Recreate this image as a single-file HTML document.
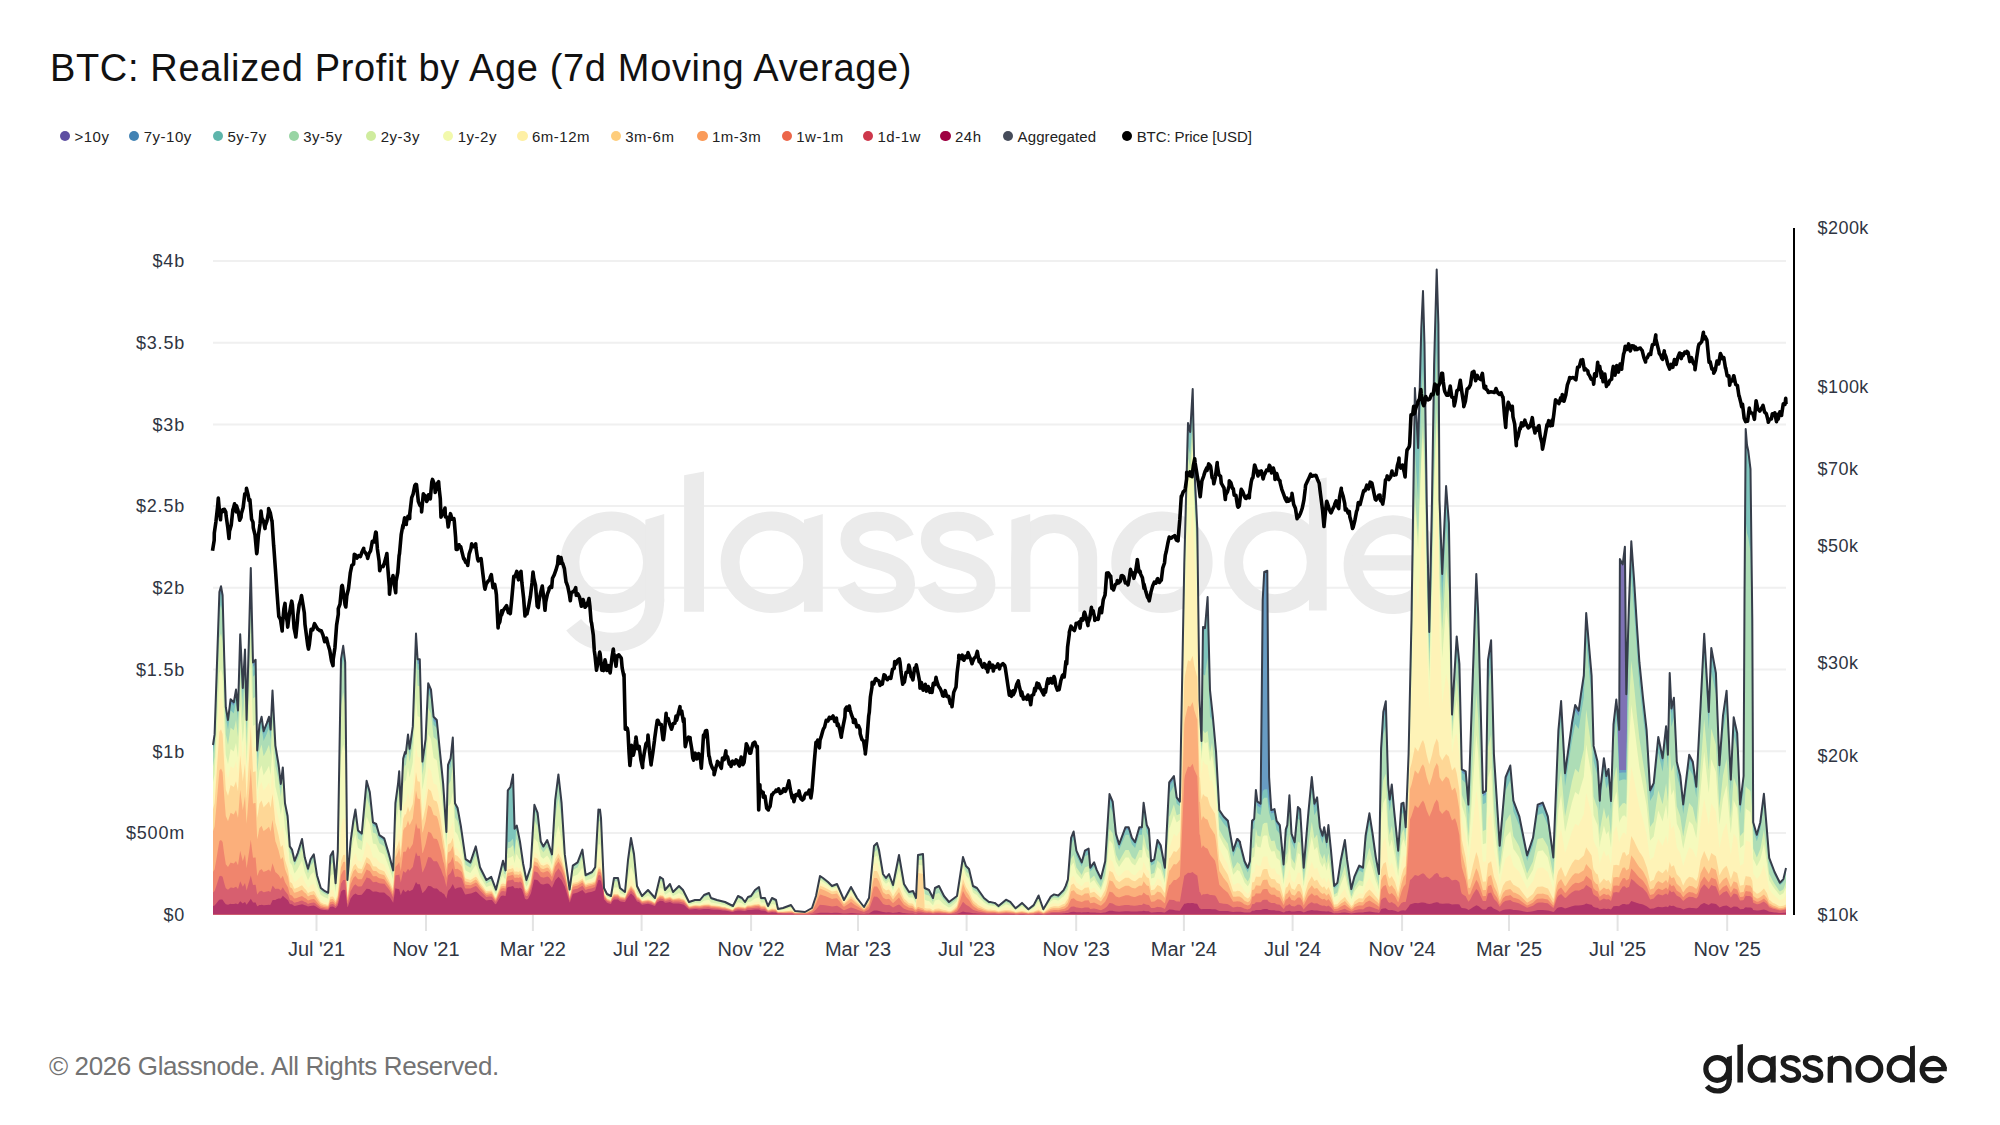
<!DOCTYPE html>
<html><head><meta charset="utf-8"><title>BTC: Realized Profit by Age (7d Moving Average)</title>
<style>
html,body{margin:0;padding:0;background:#fff;}
body{width:2000px;height:1125px;position:relative;overflow:hidden;font-family:"Liberation Sans",sans-serif;}
.title{position:absolute;left:50px;top:46.5px;font-size:38px;color:#111;white-space:nowrap;letter-spacing:0.65px;}
.lg{position:absolute;top:128px;font-size:15px;color:#222;white-space:nowrap;line-height:18px;letter-spacing:0.5px;}
.lg i{position:absolute;left:-14.6px;top:2.75px;width:10.3px;height:10.3px;border-radius:50%;}
.foot{position:absolute;left:49px;top:1051px;font-size:26px;color:#737373;white-space:nowrap;letter-spacing:-0.38px;}
svg{position:absolute;left:0;top:0;}
</style></head><body>
<div class="title">BTC: Realized Profit by Age (7d Moving Average)</div>
<div class="lg" style="left:74.5px"><i style="background:#5e4fa2"></i>&gt;10y</div>
<div class="lg" style="left:143.75px"><i style="background:#4283b4"></i>7y-10y</div>
<div class="lg" style="left:227.5px"><i style="background:#5eb5ab"></i>5y-7y</div>
<div class="lg" style="left:303.25px"><i style="background:#98d5a4"></i>3y-5y</div>
<div class="lg" style="left:380.75px"><i style="background:#cfec9e"></i>2y-3y</div>
<div class="lg" style="left:457.75px"><i style="background:#f2f9ac"></i>1y-2y</div>
<div class="lg" style="left:532px"><i style="background:#fef0a5"></i>6m-12m</div>
<div class="lg" style="left:625.25px"><i style="background:#fecd7c"></i>3m-6m</div>
<div class="lg" style="left:712px"><i style="background:#fa9b5a"></i>1m-3m</div>
<div class="lg" style="left:796.25px"><i style="background:#ec6649"></i>1w-1m</div>
<div class="lg" style="left:877.5px"><i style="background:#cd374b"></i>1d-1w</div>
<div class="lg" style="left:955px"><i style="background:#9e0142"></i>24h</div>
<div class="lg" style="left:1017.6px;letter-spacing:0.1px"><i style="background:#464c5a"></i>Aggregated</div>
<div class="lg" style="left:1136.7px;letter-spacing:-0.1px"><i style="background:#000"></i>BTC: Price [USD]</div>
<svg width="2000" height="1125" viewBox="0 0 2000 1125">
<defs>
<g id="logo" stroke="currentColor" fill="currentColor">
<g fill="none" stroke-width="5.2">
<circle cx="1717.25" cy="1068.95" r="11.4"/>
<circle cx="1761.5" cy="1068.95" r="11.4"/>
<circle cx="1869.4" cy="1068.95" r="11.4"/>
<circle cx="1900.6" cy="1068.95" r="11.4"/>
<path d="M1729.3,1079 C1729.3,1087.3 1724.6,1091 1717.6,1091 C1712.8,1091 1709.2,1089.2 1706.9,1086.2"/>
<path d="M1830.4,1082.6 V1067.5 A9.25,9.25 0 0 1 1848.9,1067.5 V1082.6"/>
<path d="M1944.25,1068.95 A11.05,11.05 0 1 0 1942.3,1075.9"/>
<path id="s1" d="M1798.4,1062.3 C1797.2,1059.2 1794.3,1057.6 1790.6,1057.6 C1786.4,1057.6 1783.2,1059.6 1783.2,1062.6 C1783.2,1066.2 1786.8,1067.3 1790.6,1068.3 C1795.2,1069.4 1798.6,1071 1798.6,1075.1 C1798.6,1078.5 1795.3,1080.3 1790.8,1080.3 C1786.7,1080.3 1783.6,1078.5 1782.2,1075.3"/>
<path d="M1820.6,1062.3 C1819.4,1059.2 1816.5,1057.6 1812.8,1057.6 C1808.6,1057.6 1805.4,1059.6 1805.4,1062.6 C1805.4,1066.2 1809,1067.3 1812.8,1068.3 C1817.4,1069.4 1820.8,1071 1820.8,1075.1 C1820.8,1078.5 1817.5,1080.3 1813,1080.3 C1808.9,1080.3 1805.8,1078.5 1804.4,1075.3"/>
</g>
<path stroke="none" d="M1726.7,1057.2 L1731.9,1055.6 V1080 H1726.7Z M1737.4,1044.9 L1742.9,1043.9 V1082.6 H1737.4Z M1770.5,1057.2 L1775.7,1055.6 V1082.6 H1770.5Z M1827.8,1057.2 L1833,1055.6 V1082.6 H1827.8Z M1910,1046.5 L1914.9,1045.5 V1082.3 H1910Z M1922,1067 H1946.8 V1071.2 H1922Z"/>
</g>
</defs>
<g stroke="#f0f0f0" stroke-width="2" fill="none">
<path d="M213,261H1786M213,342.7H1786M213,424.4H1786M213,506.1H1786M213,587.8H1786M213,669.5H1786M213,751.2H1786M213,832.9H1786"/>
</g>
<use href="#logo" transform="matrix(3.62 0 0 3.62 -5605.27 -3307.31)" style="color:#ebebeb"/>
<g>
<path d="M213,914.5 L213,745 214.6,734.4 216,692.9 219,603.9 219.4,592 221,586.2 222,591.8 222.6,595.2 224.2,656 225,681.6 225.8,707.2 228,719.8 228,720 230.6,699.2 231,699.6 233.8,702.4 234,701.3 236,689.6 237,700 238,710.4 240,641 240.2,634.2 242.8,688 243,683.9 245,649.6 246,693.6 246.6,720 248.8,643.2 249,636.9 250.8,568 252,620.3 253,662.4 255,660.4 255.6,659.8 257.2,750.4 258,740.8 259.4,724.8 261,719.1 261.6,716.8 263.6,731.2 264,730.1 266.8,723.2 267,722.5 269,716.8 270,724.8 270.6,729.6 272.5,690.6 273,699.7 275.4,745.6 276,749.2 278.6,764.8 279,768.2 280.8,784 282,773.9 282.8,767.4 285,803.2 287.6,816 288,822 289.8,846.4 291,848.1 292,849.6 294,858.2 294.6,860.8 297,854.8 297.8,852.8 300,845.5 302,839 303,845.7 304.8,857.6 306,861.7 308,868.8 309,865.2 310.6,859.2 312,857.1 313.8,854.4 315,862.2 317,875.2 318,878.5 320.8,888 321,888.1 324,890.4 325,891.2 327,892.2 328.2,892.8 330,863.2 330.4,856 333,851.2 335.6,883.2 336,876.9 337.8,851.2 339,779.2 341,659.2 342,653.2 343.2,645.8 345,661 345.2,662.4 347.4,880 348,872.8 350.6,841.6 351,838.5 353.2,821.8 354,817.2 355.4,809.6 357,822.6 358,830.4 360,832.1 361.8,833.6 363,820.4 366,787.4 366.6,780.8 369,789.2 369.8,792 372,812.9 373,822.4 375,823.4 376.2,824 378,830.3 379.4,835.2 381,836.3 384,838.3 384.2,838.4 387,847.7 389,854.4 390,858.2 393,869.8 393.2,870.4 395.4,803.2 396,798.7 398,784 399,773.6 399.2,771.2 400.8,809.6 402,784.4 403.2,758.4 405,752 405.8,753.6 408,734.4 409.6,748.8 411,739 412.8,726.4 414,691.6 416,633.6 417,649.6 417.6,659.2 419.8,659.2 420,665.6 422.4,761.6 423,757.4 425.6,739.2 426,730.5 428.2,683.2 429,685.1 431,689.6 432,699.8 433.6,716.8 435,718.2 436.8,720 438,732 440,752 441,762 443.2,784 444,796 446.4,832 447,806.8 448,764.8 450,759.8 450.6,758.4 452.8,737.6 453,743.5 455,803.2 456,805 457.6,808 459,815.7 460.8,825.6 462,834 465,855 465.6,859.2 468,860.8 470.4,862.4 471,860.6 474,851.8 475.8,846.4 477,852.2 480,867.2 483,873.2 486,879.2 486.4,880 489,878.3 491.2,876.8 492,878.9 495,886.9 496,889.6 498,881.4 501,869.1 503,860.8 504,864.4 505.6,870.4 507,820.4 507.8,790.4 510,787.7 510.4,787.2 513,774.4 513,775.8 514.6,828.8 516,826.7 516.8,825.6 519,836.6 520,841.6 522,855.6 523.2,864 525,873 526.4,880 528,875.1 530.6,867.2 531,860 534,811.3 534.4,804.8 537,811.3 537.6,812.8 540,834.4 540.8,841.6 543,845.7 543.4,846.4 546,842 547.2,840 549,845.4 552,854.4 555,803.4 555.2,800 558,777.6 558.4,774.4 561,797.8 561.6,803.2 564,841.6 564.8,854.4 567,870.5 569.6,889.6 570,886.6 572.8,865.6 573,865.5 576,863.5 577.6,862.4 579,858.7 582,850.7 582.4,849.6 585,870.4 585.6,875.2 588,874 591,872.5 592,872 594,869 595.2,867.2 597,834.8 598.4,809.6 599,810 600,809.6 601,818 603,864.7 604,888 606,892 607,894 609,895 611,896 612,890 614,878 615,878 618,878 620,888 621,888.8 624,891.2 625,892 627,870.7 628,860 630,845.3 631,838 633,848.7 634,854 636,875.3 637,886 639,890 642,896 645,893 648,890 651,893.4 654,896.9 655,898 657,889.6 660,877 663,879 665,890 666,888.8 669,885.2 670,884 672,889.3 673,892 675,890 678,887 679,886 681,888 683,890 684,892 687,898 689,902 690,901.7 693,900.7 695,900 696,900 699,900 700,900 702,897.5 704,895 705,894.6 708,893.4 709,893 711,898 714,899 717,900 720,900.8 723,901.5 725,902 726,902.5 729,904 732,905.5 733,906 735,902 738,896 741,897.5 742,898 744,900.7 745,902 747,898.7 748,897 750,896.3 751,896 753,893 755,890 756,889.2 759,887 761,898 762,898 765,898 768,906 771,900 772,898 774,899 776,900 777,904.5 778,909 780,908.6 783,908 786,906.9 789,905.8 791,905 792,906.5 795,911 798,911.3 801,911.6 804,911.9 805,912 807,910.9 810,909.1 812,908 813,905 816,896 819,881 820,876 822,877.3 823,878 825,879.6 828,882 831,885 832,886 834,885.2 837,884 840,890.9 843,897.7 844,900 846,896.3 849,890.7 851,887 852,888.8 855,894.3 857,898 858,899.3 861,903.1 864,907 867,901.6 869,898 870,887.6 873,856.4 874,846 876,844 877,843 879,850 882,868 883,874 885,876.7 886,878 888,875.3 889,874 891,879.5 893,885 894,880 897,865 899,855 900,860.8 903,878.2 904,884 906,887.2 909,892 912,891.2 913,891 915,895.7 916,898 918,855 921,854.4 923,854 924,875.2 924.6,888 927,889.1 929,890 930,892 933,898 935,888 936,887.5 939,886 942,892 944,896 945,897.2 948,900.8 949,902 951,900.5 954,898.2 957,896 960,876.5 963,857 966,866 969,869 972,881.8 973,886 975,887 977,888 978,889.4 981,893.7 984,898 987,900.4 989,902 990,901.9 993,902.6 994.3,902.9 995,903 996,903.9 998.5,906.1 999,905.7 1002,903.2 1005,900.6 1006,899.7 1008,900.7 1010.3,901.9 1011,902.7 1014,906.3 1015.6,908.3 1017,907.1 1020,904.6 1022,902.9 1023,903.9 1026,906.9 1028.4,909.3 1029,908.9 1032,906.5 1033.7,905.1 1035,902.6 1038,896.7 1038.6,895.5 1041,902.4 1043.3,909.3 1044,908.2 1047,903 1050,897.9 1050.8,896.5 1053,895.1 1054,894.4 1056,894.9 1058.3,895.5 1059,894.7 1062,891.7 1063.6,890.1 1065,887.3 1065.7,885.9 1067.9,879.5 1068,877.7 1071,838.7 1071.1,837.9 1073.6,831.5 1074,834.1 1076.4,850.7 1077,852 1080,858.6 1081.7,862.4 1083,857.8 1084.9,850.7 1086,850 1088.6,848.5 1089,853.5 1090.3,867.7 1092,865.3 1094.1,862.4 1095,865 1096.7,869.9 1098,872.5 1100.9,878.4 1101,878.1 1104,866.1 1105.2,861.3 1107,833 1109.5,794.1 1110,795.4 1112.7,801.6 1113,804.9 1115.9,833.6 1116,834 1119,844 1119.1,844.3 1122,836.4 1125,828.4 1125.5,827.2 1128,827.2 1128.7,827.2 1131,835 1131.9,837.9 1134,840.7 1135.1,842.1 1137,835.4 1139.3,827.2 1140,827.2 1141.9,827.2 1143,811.3 1143.6,802.7 1146,819.5 1146.8,825.1 1148.9,829.3 1149,830.3 1151.1,861.3 1152,860.7 1154.3,859.2 1155,854.8 1157.5,840 1158,840.9 1160.7,845.3 1161,847.1 1164,862.8 1164.9,867.7 1167,826.4 1169.2,782.4 1170,781.3 1173,777.2 1173.9,776 1176,792.2 1176.7,797.3 1179,800.4 1179.9,801.6 1182,686.8 1184.3,563 1185,536.5 1188,423 1190.2,432 1191,418.2 1192.7,389 1194,453.1 1194.2,463 1197,522.6 1197.3,529 1199.5,700 1200,710.2 1201.5,741 1203,627 1205,628 1206,616.1 1207.6,597 1209,651.3 1210,690 1212,708.6 1212.9,717 1215,740.3 1216.1,752.5 1218,786.7 1219.3,810.1 1221,812.6 1223.6,816.5 1224,816.9 1227,819.9 1227.9,820.8 1230,832.6 1233,849.6 1233.2,850.7 1236,842.3 1237.1,838.9 1237.5,838.9 1239,840.8 1240,842 1240.3,844.3 1242,850.9 1244.6,861.3 1245,862.1 1247.8,867.7 1248,867.1 1249.9,861.3 1251,841.1 1252.1,820.8 1254,818.9 1254.2,818.7 1255.9,789.9 1257,798.5 1257.4,801.6 1260,803.3 1260.6,803.7 1261.7,700 1262.7,600 1263,594.4 1264.2,572 1266,571.2 1267.3,570.7 1268.3,700 1269,767.5 1269.1,777.1 1271.3,810.1 1272,809.9 1274.5,809.1 1275,812 1276.6,820.8 1278,822.7 1279.8,825.1 1281,837.4 1283.6,864.5 1284,858.6 1285.8,829.3 1287,825.8 1287.3,825.1 1289.4,795.2 1290,806 1291.5,833.6 1293,837.5 1294.7,842.1 1296,828.2 1297.9,806.9 1299,808 1300.1,809.1 1302,840.3 1303.7,867.7 1305,852.4 1308,817.2 1308.6,810.1 1311,785.3 1311.8,777.1 1314,800 1314.4,803.7 1317,797.6 1317.1,797.3 1319.9,827.2 1320,827.5 1322.5,835.7 1323,833.1 1324.2,827.2 1326,837.9 1326.7,842.1 1328.4,825.1 1329,830.7 1331,850.7 1332,861.7 1334.2,885.9 1335,885.1 1337.4,882.7 1338,878.7 1340.6,861.3 1341,859.3 1344,844.3 1344.9,840 1347,859.2 1350,880.2 1351.3,889.1 1353,882.1 1354.5,876.3 1356,872.8 1359,866 1359.2,865.6 1362,867.2 1363,867.7 1365,842.7 1365.6,835.7 1368,821.5 1369.4,813.3 1371,823.5 1372.6,833.6 1374,843.9 1375.8,857.1 1377,863.5 1379,874.1 1380,815.1 1381.1,748.3 1383,716.5 1383.3,712 1385.8,701.3 1386,707.5 1388.2,784.5 1389,792.8 1389.7,799.5 1391.8,784.5 1392,786.7 1393.9,808 1395,818.7 1398,848.7 1398.2,850.7 1401,809.6 1401.4,803.7 1403.5,802.7 1404,808 1405.7,827.2 1407,793.8 1408.6,753.8 1410,689.2 1411.5,620 1413,517.6 1414.9,388 1416,408.6 1418.1,448 1419,414.2 1421.3,328 1422,312.8 1423,291 1424.5,345 1425,380.2 1426.7,500 1428,566 1429.3,632 1431,548.9 1432,500 1434,371 1434.1,364.5 1436.7,269.6 1437,279.2 1438.4,324 1439.5,500 1440,513.7 1442.2,574 1443,555.9 1446,488.3 1446.1,486 1448.9,523 1449,529.2 1452,714.6 1455,664.8 1456.7,636.4 1458,649.4 1459.4,663.8 1461,733.8 1461.8,769.4 1464,770.5 1465.7,771.4 1467,787.1 1468.4,804.6 1470,758.6 1473,670.1 1476,581.6 1476.3,573.9 1478.2,613 1479,643 1482,758 1482.9,792.9 1485,791.6 1486,790.9 1488,659.9 1488,659.9 1491,641.1 1491.1,640.3 1493.9,753.8 1494,756 1497,803 1499.7,845.7 1500,842.5 1503,807.5 1505.6,777.2 1506,776.2 1509,768.7 1510.3,765.5 1512,784.8 1513.4,800.7 1515,804.9 1518,812.9 1519.3,816.3 1521,824.9 1524,839.9 1527,854.9 1527.1,855.4 1530,846.7 1533,837.8 1533,837.6 1536,816.4 1537.7,804.6 1539,804.1 1542,802.9 1542.7,802.6 1545,808.7 1547.8,816.3 1548,817.6 1551,840.1 1553.3,857.4 1554,840 1557,765 1558.4,730.3 1560,713 1561.1,701 1563,735.6 1565,773.3 1566,766.4 1569,744.7 1572,723 1572.1,722.5 1575,706 1575.2,704.9 1578,709.5 1578.7,710.7 1581,693.7 1581.1,693.1 1583.8,675.5 1584,670.5 1586.2,613 1587,622.6 1590,656.9 1591.6,675.5 1593,724.8 1593.6,745.9 1596,755.6 1597.5,761.6 1597.8,765.3 1599,785.8 1599.8,800.7 1600.3,790.2 1602,775.2 1603.9,758.2 1605,766.2 1606.4,776 1608,770.6 1608.5,768.9 1611,800.9 1613.5,724.4 1614,720 1616.3,699.6 1617,706.6 1619.2,729.8 1619.9,559.1 1620,559.3 1622.7,564.4 1623,562.2 1624.9,546.7 1626,664.3 1626.3,694.2 1628.8,608.9 1629,602.9 1631.3,541.3 1632,551.4 1634.1,580.4 1635,594.9 1637,626.7 1638,641.6 1639.4,662.2 1641,677.8 1643,697.8 1644,706.8 1646.6,729.8 1647,737.3 1650,788.3 1650.1,790.2 1653,784.4 1653.7,783.1 1656,759.8 1658.3,736.9 1659,740.4 1662,755.4 1662.6,758.2 1665,736.2 1666.1,726.2 1667.9,754.7 1668,749.6 1669.7,672.9 1671,699.6 1671.4,708.4 1673.9,697.8 1674,699.3 1676.8,761.8 1677,762.7 1680,774.7 1680.3,776 1683,802.7 1683.2,804.4 1686,781.2 1689,756.5 1689.2,754.7 1692,760.2 1692.8,761.8 1695,777.3 1696.3,786.7 1698,754.7 1700.6,704.9 1701,696.9 1704,636.9 1704.2,633.8 1707,681.9 1708.8,712 1710,680.6 1711.3,648 1713,657.3 1715.9,672.9 1716,675.8 1719,753.8 1719.4,765.3 1722,729.6 1723,715.6 1725,701.6 1726.6,690.7 1728,720.8 1730.8,779.6 1731,775.7 1733.7,717.3 1734,718.8 1737,732.3 1737.2,733.3 1740,802.8 1740.1,804.4 1743,781 1743.6,776 1744.5,600 1745.7,429 1746,432.7 1747,445 1748.3,451 1749,456.7 1750.5,469 1752,594.8 1752.3,620 1753.2,822.2 1755,828.4 1756.8,834.7 1758,830.4 1760.3,822.2 1761,816.9 1763.9,793.8 1764,795.1 1767,831.1 1769.2,857.8 1770,859.9 1773,867.9 1774.6,872 1776,874.9 1779,880.9 1779.9,882.7 1782,880.6 1783.4,879.1 1785,872.4 1785.9,868.4 1786,868 L1786,914.5 Z" fill="#7e72b5"/>
<path d="M213,914.5 L213,745 214.6,734.4 216,692.9 219,603.9 219.4,592 221,586.2 222,591.8 222.6,595.2 224.2,656 225,681.6 225.8,707.2 228,719.8 228,720 230.6,699.2 231,699.6 233.8,702.4 234,701.3 236,689.6 237,700 238,710.4 240,641 240.2,634.2 242.8,688 243,683.9 245,649.6 246,693.6 246.6,720 248.8,643.2 249,636.9 250.8,568 252,620.3 253,662.4 255,660.4 255.6,659.8 257.2,750.4 258,740.8 259.4,724.8 261,719.1 261.6,716.8 263.6,731.2 264,730.1 266.8,723.2 267,722.5 269,716.8 270,724.8 270.6,729.6 272.5,690.6 273,699.7 275.4,745.6 276,749.2 278.6,764.8 279,768.2 280.8,784 282,773.9 282.8,767.4 285,803.2 287.6,816 288,822 289.8,846.4 291,848.1 292,849.6 294,858.2 294.6,860.8 297,854.8 297.8,852.8 300,845.5 302,839 303,845.7 304.8,857.6 306,861.7 308,868.8 309,865.2 310.6,859.2 312,857.1 313.8,854.4 315,862.2 317,875.2 318,878.5 320.8,888 321,888.1 324,890.4 325,891.2 327,892.2 328.2,892.8 330,863.2 330.4,856 333,851.2 335.6,883.2 336,876.9 337.8,851.2 339,779.2 341,659.2 342,653.2 343.2,645.8 345,661 345.2,662.4 347.4,880 348,872.8 350.6,841.6 351,838.5 353.2,821.8 354,817.2 355.4,809.6 357,822.6 358,830.4 360,832.1 361.8,833.6 363,820.4 366,787.4 366.6,780.8 369,789.2 369.8,792 372,812.9 373,822.4 375,823.4 376.2,824 378,830.3 379.4,835.2 381,836.3 384,838.3 384.2,838.4 387,847.7 389,854.4 390,858.2 393,869.8 393.2,870.4 395.4,803.2 396,798.7 398,784 399,773.6 399.2,771.2 400.8,809.6 402,784.4 403.2,758.4 405,752 405.8,753.6 408,734.4 409.6,748.8 411,739 412.8,726.4 414,691.6 416,633.6 417,649.6 417.6,659.2 419.8,659.2 420,665.6 422.4,761.6 423,757.4 425.6,739.2 426,730.5 428.2,683.2 429,685.1 431,689.6 432,699.8 433.6,716.8 435,718.2 436.8,720 438,732 440,752 441,762 443.2,784 444,796 446.4,832 447,806.8 448,764.8 450,759.8 450.6,758.4 452.8,737.6 453,743.5 455,803.2 456,805 457.6,808 459,815.7 460.8,825.6 462,834 465,855 465.6,859.2 468,860.8 470.4,862.4 471,860.6 474,851.8 475.8,846.4 477,852.2 480,867.2 483,873.2 486,879.2 486.4,880 489,878.3 491.2,876.8 492,878.9 495,886.9 496,889.6 498,881.4 501,869.1 503,860.8 504,864.4 505.6,870.4 507,820.4 507.8,790.4 510,787.7 510.4,787.2 513,774.4 513,775.8 514.6,828.8 516,826.7 516.8,825.6 519,836.6 520,841.6 522,855.6 523.2,864 525,873 526.4,880 528,875.1 530.6,867.2 531,860 534,811.3 534.4,804.8 537,811.3 537.6,812.8 540,834.4 540.8,841.6 543,845.7 543.4,846.4 546,842 547.2,840 549,845.4 552,854.4 555,803.4 555.2,800 558,777.6 558.4,774.4 561,797.8 561.6,803.2 564,841.6 564.8,854.4 567,870.5 569.6,889.6 570,886.6 572.8,865.6 573,865.5 576,863.5 577.6,862.4 579,858.7 582,850.7 582.4,849.6 585,870.4 585.6,875.2 588,874 591,872.5 592,872 594,869 595.2,867.2 597,834.8 598.4,809.6 599,810 600,809.6 601,818 603,864.7 604,888 606,892 607,894 609,895 611,896 612,890 614,878 615,878 618,878 620,888 621,888.8 624,891.2 625,892 627,870.7 628,860 630,845.3 631,838 633,848.7 634,854 636,875.3 637,886 639,890 642,896 645,893 648,890 651,893.4 654,896.9 655,898 657,889.6 660,877 663,879 665,890 666,888.8 669,885.2 670,884 672,889.3 673,892 675,890 678,887 679,886 681,888 683,890 684,892 687,898 689,902 690,901.7 693,900.7 695,900 696,900 699,900 700,900 702,897.5 704,895 705,894.6 708,893.4 709,893 711,898 714,899 717,900 720,900.8 723,901.5 725,902 726,902.5 729,904 732,905.5 733,906 735,902 738,896 741,897.5 742,898 744,900.7 745,902 747,898.7 748,897 750,896.3 751,896 753,893 755,890 756,889.2 759,887 761,898 762,898 765,898 768,906 771,900 772,898 774,899 776,900 777,904.5 778,909 780,908.6 783,908 786,906.9 789,905.8 791,905 792,906.5 795,911 798,911.3 801,911.6 804,911.9 805,912 807,910.9 810,909.1 812,908 813,905 816,896 819,881 820,876 822,877.3 823,878 825,879.6 828,882 831,885 832,886 834,885.2 837,884 840,890.9 843,897.7 844,900 846,896.3 849,890.7 851,887 852,888.8 855,894.3 857,898 858,899.3 861,903.1 864,907 867,901.6 869,898 870,887.6 873,856.4 874,846 876,844 877,843 879,850 882,868 883,874 885,876.7 886,878 888,875.3 889,874 891,879.5 893,885 894,880 897,865 899,855 900,860.8 903,878.2 904,884 906,887.2 909,892 912,891.2 913,891 915,895.7 916,898 918,855 921,854.4 923,854 924,875.2 924.6,888 927,889.1 929,890 930,892 933,898 935,888 936,887.5 939,886 942,892 944,896 945,897.2 948,900.8 949,902 951,900.5 954,898.2 957,896 960,876.5 963,857 966,866 969,869 972,881.8 973,886 975,887 977,888 978,889.4 981,893.7 984,898 987,900.4 989,902 990,901.9 993,902.6 994.3,902.9 995,903 996,903.9 998.5,906.1 999,905.7 1002,903.2 1005,900.6 1006,899.7 1008,900.7 1010.3,901.9 1011,902.7 1014,906.3 1015.6,908.3 1017,907.1 1020,904.6 1022,902.9 1023,903.9 1026,906.9 1028.4,909.3 1029,908.9 1032,906.5 1033.7,905.1 1035,902.6 1038,896.7 1038.6,895.5 1041,902.4 1043.3,909.3 1044,908.2 1047,903 1050,897.9 1050.8,896.5 1053,895.1 1054,894.4 1056,894.9 1058.3,895.5 1059,894.7 1062,891.7 1063.6,890.1 1065,887.3 1065.7,885.9 1067.9,879.5 1068,877.7 1071,838.7 1071.1,837.9 1073.6,831.5 1074,834.1 1076.4,850.7 1077,852 1080,858.6 1081.7,862.4 1083,857.8 1084.9,850.7 1086,850 1088.6,848.5 1089,853.5 1090.3,867.7 1092,865.3 1094.1,862.4 1095,865 1096.7,869.9 1098,872.5 1100.9,878.4 1101,878.1 1104,866.1 1105.2,861.3 1107,833 1109.5,794.1 1110,795.4 1112.7,801.6 1113,804.9 1115.9,833.6 1116,834 1119,844 1119.1,844.3 1122,836.4 1125,828.4 1125.5,827.2 1128,827.2 1128.7,827.2 1131,835 1131.9,837.9 1134,840.7 1135.1,842.1 1137,835.4 1139.3,827.2 1140,827.2 1141.9,827.2 1143,811.3 1143.6,802.7 1146,819.5 1146.8,825.1 1148.9,829.3 1149,830.3 1151.1,861.3 1152,860.7 1154.3,859.2 1155,854.8 1157.5,840 1158,840.9 1160.7,845.3 1161,847.1 1164,862.8 1164.9,867.7 1167,826.4 1169.2,782.4 1170,781.3 1173,777.2 1173.9,776 1176,792.2 1176.7,797.3 1179,800.4 1179.9,801.6 1182,686.8 1184.3,563 1185,536.5 1188,423 1190.2,432 1191,418.2 1192.7,389 1194,453.1 1194.2,463 1197,522.6 1197.3,529 1199.5,700 1200,710.2 1201.5,741 1203,627 1205,628 1206,616.1 1207.6,597 1209,651.3 1210,690 1212,708.6 1212.9,717 1215,740.3 1216.1,752.5 1218,786.7 1219.3,810.1 1221,812.6 1223.6,816.5 1224,816.9 1227,819.9 1227.9,820.8 1230,832.6 1233,849.6 1233.2,850.7 1236,842.3 1237.1,838.9 1237.5,838.9 1239,840.8 1240,842 1240.3,844.3 1242,850.9 1244.6,861.3 1245,862.1 1247.8,867.7 1248,867.1 1249.9,861.3 1251,841.1 1252.1,820.8 1254,818.9 1254.2,818.7 1255.9,789.9 1257,798.5 1257.4,801.6 1260,803.3 1260.6,803.7 1261.7,700 1262.7,600 1263,594.4 1264.2,572 1266,571.2 1267.3,570.7 1268.3,700 1269,767.5 1269.1,777.1 1271.3,810.1 1272,809.9 1274.5,809.1 1275,812 1276.6,820.8 1278,822.7 1279.8,825.1 1281,837.4 1283.6,864.5 1284,858.6 1285.8,829.3 1287,825.8 1287.3,825.1 1289.4,795.2 1290,806 1291.5,833.6 1293,837.5 1294.7,842.1 1296,828.2 1297.9,806.9 1299,808 1300.1,809.1 1302,840.3 1303.7,867.7 1305,852.4 1308,817.2 1308.6,810.1 1311,785.3 1311.8,777.1 1314,800 1314.4,803.7 1317,797.6 1317.1,797.3 1319.9,827.2 1320,827.5 1322.5,835.7 1323,833.1 1324.2,827.2 1326,837.9 1326.7,842.1 1328.4,825.1 1329,830.7 1331,850.7 1332,861.7 1334.2,885.9 1335,885.1 1337.4,882.7 1338,878.7 1340.6,861.3 1341,859.3 1344,844.3 1344.9,840 1347,859.2 1350,880.2 1351.3,889.1 1353,882.1 1354.5,876.3 1356,872.8 1359,866 1359.2,865.6 1362,867.2 1363,867.7 1365,842.7 1365.6,835.7 1368,821.5 1369.4,813.3 1371,823.5 1372.6,833.6 1374,843.9 1375.8,857.1 1377,863.5 1379,874.1 1380,815.1 1381.1,748.3 1383,716.5 1383.3,712 1385.8,701.3 1386,707.5 1388.2,784.5 1389,792.8 1389.7,799.5 1391.8,784.5 1392,786.7 1393.9,808 1395,818.7 1398,848.7 1398.2,850.7 1401,809.6 1401.4,803.7 1403.5,802.7 1404,808 1405.7,827.2 1407,793.8 1408.6,753.8 1410,689.2 1411.5,620 1413,517.6 1414.9,388 1416,408.6 1418.1,448 1419,414.2 1421.3,328 1422,312.8 1423,291 1424.5,345 1425,380.2 1426.7,500 1428,566 1429.3,632 1431,548.9 1432,500 1434,371 1434.1,364.5 1436.7,269.6 1437,279.2 1438.4,324 1439.5,500 1440,513.7 1442.2,574 1443,555.9 1446,488.3 1446.1,486 1448.9,523 1449,529.2 1452,714.6 1455,664.8 1456.7,636.6 1458,649.6 1459.4,664.2 1461,734.2 1461.8,769.7 1464,771 1465.7,772 1467,787.8 1468.4,805.3 1470,759.8 1473,672 1476,584.2 1476.3,576.6 1478.2,615.3 1479,645.1 1482,759.1 1482.9,793.7 1485,792.4 1486,791.8 1488,661.8 1488,661.8 1491,643.2 1491.1,642.4 1493.9,754.9 1494,757.1 1497,803.7 1499.7,846.1 1500,842.9 1503,808.2 1505.6,778.2 1506,777.1 1509,769.7 1510.3,766.5 1512,785.6 1513.4,801.4 1515,805.6 1518,813.5 1519.3,816.9 1521,825.5 1524,840.4 1527,855.3 1527.1,855.8 1530,847.1 1533,838.3 1533,838.1 1536,816.9 1537.7,805.2 1539,804.7 1542,803.6 1542.7,803.3 1545,809.3 1547.8,816.9 1548,818.1 1551,840.5 1553.3,857.7 1554,840.4 1557,765.8 1558.4,731.3 1560,714.1 1561.1,702.1 1563,736.6 1565,774 1566,767.1 1569,745.5 1572,724 1572.1,723.4 1575,707.1 1575.2,705.9 1578,710.5 1578.7,711.7 1581,694.7 1581.1,694.2 1583.8,676.7 1584,671.6 1586.2,614.4 1587,624 1590,658.1 1591.6,676.6 1593,725.7 1593.6,746.7 1596,756.3 1597.5,762.3 1597.8,766 1599,786.3 1599.8,801.2 1600.3,790.8 1602,775.8 1603.9,758.9 1605,766.8 1606.4,776.6 1608,771.2 1608.5,769.5 1611,801.4 1613.5,725.2 1614,720.8 1616.3,700.4 1617,707.5 1619.2,770 1619.9,770 1620,770 1622.7,769.9 1623,769.9 1624.9,769.9 1626,769.9 1626.3,769.9 1628.8,610.1 1629,604.1 1631.3,542.8 1632,552.8 1634.1,581.7 1635,596.1 1637,627.7 1638,642.6 1639.4,663.1 1641,678.6 1643,698.5 1644,707.5 1646.6,730.4 1647,737.9 1650,788.7 1650.1,790.6 1653,784.8 1653.7,783.5 1656,760.2 1658.3,737.4 1659,741 1662,755.9 1662.6,758.7 1665,736.7 1666.1,726.8 1667.9,755.1 1668,750 1669.7,673.6 1671,700.2 1671.4,709 1673.9,698.4 1674,699.9 1676.8,762.2 1677,763.1 1680,775 1680.3,776.3 1683,802.9 1683.2,804.7 1686,781.5 1689,756.9 1689.2,755 1692,760.6 1692.8,762.1 1695,777.6 1696.3,786.9 1698,755.1 1700.6,705.3 1701,697.3 1704,637.4 1704.2,634.3 1707,682.4 1708.8,712.4 1710,681 1711.3,648.5 1713,657.8 1715.9,673.3 1716,676.2 1719,754 1719.4,765.6 1722,729.8 1723,715.9 1725,701.9 1726.6,691 1728,721 1730.8,779.7 1731,775.8 1733.7,717.6 1734,719.1 1737,732.6 1737.2,733.5 1740,802.9 1740.1,804.6 1743,781.1 1743.6,776.1 1744.5,600.2 1745.7,429.2 1746,432.9 1747,445.2 1748.3,451.2 1749,456.9 1750.5,469.2 1752,595 1752.3,620.1 1753.2,822.3 1755,828.5 1756.8,834.7 1758,830.4 1760.3,822.3 1761,816.9 1763.9,793.8 1764,795.2 1767,831.1 1769.2,857.8 1770,859.9 1773,867.9 1774.6,872 1776,874.9 1779,880.9 1779.9,882.7 1782,880.6 1783.4,879.1 1785,872.4 1785.9,868.4 1786,868 L1786,914.5 Z" fill="#689cc3"/>
<path d="M213,914.5 L213,747.6 214.6,737.1 216,696.5 219,609.2 219.4,597.6 221,592 222,597.5 222.6,600.8 224.2,660.3 225,685.4 225.8,710.5 228,722.8 228,723 230.6,702.6 231,703 233.8,705.8 234,704.7 236,693.3 237,703.5 238,713.6 240,645.7 240.2,639.1 242.8,691.7 243,687.7 245,654.2 246,697.3 246.6,723.1 248.8,648 249,641.8 250.8,574.4 252,625.5 253,666.8 255,664.8 255.6,664.3 257.2,753.1 258,743.7 259.4,728 261,722.4 261.6,720.1 263.6,734.2 264,733.2 266.8,726.4 267,725.8 269,720.2 270,728 270.6,732.6 272.5,694 273,702.9 275.4,747.6 276,751 278.6,766 279,769.3 280.8,784.7 282,774.5 282.8,767.8 285,803.2 287.6,816 288,822 289.8,846.4 291,848.1 292,849.6 294,858.2 294.6,860.8 297,854.8 297.8,852.8 300,845.5 302,839 303,845.7 304.8,857.6 306,861.7 308,868.8 309,865.2 310.6,859.2 312,857.1 313.8,854.4 315,862.2 317,875.2 318,878.5 320.8,888 321,888.1 324,890.4 325,891.2 327,892.2 328.2,892.8 330,863.2 330.4,856 333,851.2 335.6,883.2 336,876.9 337.8,851.2 339,779.2 341,659.2 342,653.2 343.2,645.8 345,661 345.2,662.4 347.4,880 348,872.8 350.6,841.6 351,838.5 353.2,821.9 354,817.4 355.4,810 357,823 358,830.8 360,832.6 361.8,834.1 363,821.1 366,788.8 366.6,782.4 369,790.9 369.8,793.7 372,814.3 373,823.7 375,824.7 376.2,825.4 378,831.6 379.4,836.5 381,837.6 384,839.7 384.2,839.8 387,849.1 389,855.7 390,859.5 393,870.7 393.2,871.2 395.4,805.2 396,800.8 398,786.4 399,776.1 399.2,773.8 400.8,811.1 402,786.2 403.2,760.4 405,753.9 405.8,755.5 408,736.7 409.6,750.9 411,741.3 412.8,729.1 414,695.1 416,638.6 417,654.3 417.6,663.7 419.8,663.9 420,670.2 422.4,764 423,759.9 425.6,742 426,733.5 428.2,687.8 429,689.6 431,694.2 432,704.1 433.6,720.7 435,722.1 436.8,723.9 438,735.6 440,755.2 441,764.9 443.2,786.4 444,798 446.4,833.2 447,808.7 448,767.7 450,762.6 450.6,761.1 452.8,740.5 453,746.2 455,804.5 456,806.2 457.6,809 459,816.5 460.8,826.1 462,834.4 465,855.2 465.6,859.3 468,860.9 470.4,862.4 471,860.6 474,851.8 475.8,846.4 477,852.2 480,867.2 483,873.2 486,879.2 486.4,880 489,878.3 491.2,876.8 492,878.9 495,886.9 496,889.6 498,881.4 501,869.1 503,860.8 504,864.4 505.6,870.4 507,820.4 507.8,790.4 510,787.7 510.4,787.2 513,774.4 513,775.8 514.6,828.8 516,826.7 516.8,825.6 519,836.6 520,841.6 522,855.6 523.2,864 525,873 526.4,880 528,875.1 530.6,867.2 531,860 534,811.3 534.4,804.8 537,811.3 537.6,812.8 540,834.4 540.8,841.6 543,845.7 543.4,846.4 546,842 547.2,840 549,845.4 552,854.4 555,803.4 555.2,800 558,777.6 558.4,774.4 561,797.8 561.6,803.2 564,841.6 564.8,854.4 567,870.5 569.6,889.6 570,886.6 572.8,865.6 573,865.5 576,863.5 577.6,862.4 579,858.7 582,850.7 582.4,849.6 585,870.4 585.6,875.2 588,874 591,872.5 592,872 594,869 595.2,867.2 597,834.8 598.4,809.6 599,810 600,809.6 601,818 603,864.7 604,888 606,892 607,894 609,895 611,896 612,890 614,878 615,878 618,878 620,888 621,888.8 624,891.2 625,892 627,870.7 628,860 630,845.3 631,838 633,848.7 634,854 636,875.3 637,886 639,890 642,896 645,893 648,890 651,893.4 654,896.9 655,898 657,889.6 660,877 663,879 665,890 666,888.8 669,885.2 670,884 672,889.4 673,892 675,890.1 678,887.1 679,886.2 681,888.2 683,890.2 684,892.2 687,898.2 689,902.1 690,901.8 693,900.9 695,900.2 696,900.2 699,900.3 700,900.3 702,897.9 704,895.5 705,895.1 708,893.9 709,893.6 711,898.4 714,899.3 717,900.3 720,901 723,901.8 725,902.3 726,902.7 729,904.2 732,905.7 733,906.2 735,902.3 738,896.5 741,898 742,898.4 744,901 745,902.3 747,899 748,897.4 750,896.8 751,896.5 753,893.6 755,890.7 756,890 759,887.8 761,898.4 762,898.4 765,898.3 768,906.1 771,900.3 772,898.3 774,899.3 776,900.2 777,904.6 778,909.1 780,908.7 783,908 786,906.9 789,905.8 791,905 792,906.5 795,911 798,911.3 801,911.6 804,911.9 805,912 807,910.9 810,909.1 812,908 813,905 816,896 819,881 820,876 822,877.3 823,878 825,879.6 828,882 831,885 832,886 834,885.2 837,884 840,890.9 843,897.7 844,900 846,896.3 849,890.7 851,887 852,888.8 855,894.3 857,898 858,899.3 861,903.1 864,907 867,901.6 869,898 870,887.6 873,856.4 874,846 876,844 877,843 879,850 882,868 883,874 885,876.7 886,878 888,875.3 889,874 891,879.5 893,885 894,880 897,865 899,855 900,860.8 903,878.2 904,884 906,887.2 909,892 912,891.2 913,891 915,895.7 916,898 918,855 921,854.4 923,854 924,875.2 924.6,888 927,889.1 929,890 930,892 933,898 935,888 936,887.5 939,886 942,892 944,896 945,897.2 948,900.8 949,902 951,900.5 954,898.2 957,896 960,876.5 963,857 966,866 969,869 972,881.8 973,886 975,887 977,888 978,889.4 981,893.7 984,898 987,900.4 989,902 990,901.9 993,902.6 994.3,902.9 995,903 996,903.9 998.5,906.1 999,905.7 1002,903.2 1005,900.6 1006,899.7 1008,900.7 1010.3,901.9 1011,902.7 1014,906.3 1015.6,908.3 1017,907.1 1020,904.6 1022,902.9 1023,903.9 1026,906.9 1028.4,909.3 1029,908.9 1032,906.5 1033.7,905.1 1035,902.6 1038,896.7 1038.6,895.5 1041,902.4 1043.3,909.3 1044,908.2 1047,903 1050,897.9 1050.8,896.5 1053,895.1 1054,894.4 1056,894.9 1058.3,895.5 1059,894.7 1062,891.7 1063.6,890.1 1065,887.3 1065.7,886 1067.9,880 1068,878.4 1071,841.1 1071.1,840.2 1073.6,834.1 1074,836.5 1076.4,852.5 1077,853.8 1080,860.1 1081.7,863.8 1083,859.3 1084.9,852.5 1086,851.9 1088.6,850.5 1089,855.2 1090.3,869 1092,866.7 1094.1,863.9 1095,866.4 1096.7,871.1 1098,873.7 1100.9,879.4 1101,879.1 1104,867.4 1105.2,862.8 1107,835.5 1109.5,798 1110,799.2 1112.7,805.1 1113,808.3 1115.9,835.9 1116,836.3 1119,845.9 1119.1,846.2 1122,838.6 1125,830.9 1125.5,829.7 1128,829.7 1128.7,829.7 1131,837.2 1131.9,840 1134,842.7 1135.1,844.1 1137,837.6 1139.3,829.7 1140,829.7 1141.9,829.7 1143,814.4 1143.6,806.1 1146,822.3 1146.8,827.7 1148.9,831.8 1149,832.7 1151.1,862.8 1152,862.2 1154.3,860.7 1155,856.5 1157.5,842.3 1158,843.1 1160.7,847.4 1161,849.1 1164,864.3 1164.9,869 1167,828.8 1169.2,786.2 1170,785.1 1173,780.7 1173.9,779.4 1176,794.7 1176.7,799.6 1179,802.3 1179.9,803.3 1182,689.7 1184.3,566.7 1185,540 1188,426.5 1190.2,435.5 1191,421.8 1192.7,392.6 1194,456.7 1194.2,466.5 1197,526.2 1197.3,532.6 1199.5,702 1200,712.3 1201.5,742.8 1203,629.4 1205,630.5 1206,618.7 1207.6,599.8 1209,653.8 1210,692.3 1212,711.6 1212.9,719.8 1215,742.5 1216.1,754.7 1218,788.6 1219.3,811.8 1221,814.4 1223.6,818.5 1224,818.9 1227,822.1 1227.9,823.1 1230,834.9 1233,851.6 1233.2,852.7 1236,844.8 1237.1,841.5 1237.5,841.5 1239,843.3 1240,844.5 1240.3,846.6 1242,853 1244.6,863.1 1245,863.9 1247.8,869.3 1248,868.7 1249.9,863.1 1251,843.7 1252.1,823.9 1254,822 1254.2,821.8 1255.9,794.2 1257,802.4 1257.4,805.4 1260,807.4 1260.6,807.4 1261.7,799.3 1262.7,791.6 1263,791.1 1264.2,789.4 1266,789.3 1267.3,789.3 1268.3,799.3 1269,804.6 1269.1,805.3 1271.3,813.6 1272,813.3 1274.5,812.6 1275,815.4 1276.6,823.9 1278,825.7 1279.8,828 1281,839.9 1283.6,866.2 1284,860.5 1285.8,832.3 1287,828.9 1287.3,828.2 1289.4,799.5 1290,809.9 1291.5,836.3 1293,840.1 1294.7,844.5 1296,831.2 1297.9,810.8 1299,811.8 1300.1,812.8 1302,842.8 1303.7,869.3 1305,854.4 1308,820.5 1308.6,813.7 1311,790 1311.8,782 1314,804 1314.4,807.6 1317,801.8 1317.1,801.5 1319.9,830.1 1320,830.4 1322.5,838.3 1323,835.8 1324.2,830.2 1326,840.4 1326.7,844.5 1328.4,828.2 1329,833.5 1331,852.8 1332,863.4 1334.2,886.8 1335,886 1337.4,883.7 1338,879.9 1340.6,863.3 1341,861.4 1344,847 1344.9,842.8 1347,861.3 1350,881.4 1351.3,889.9 1353,883.3 1354.5,877.5 1356,874.2 1359,867.6 1359.2,867.2 1362,868.7 1363,869.3 1365,845.3 1365.6,838.6 1368,825 1369.4,817.1 1371,826.8 1372.6,836.6 1374,846.4 1375.8,859.1 1377,865.2 1379,875.5 1380,818.9 1381.1,754.4 1383,723.9 1383.3,719.6 1385.8,709.4 1386,715.3 1388.2,789.1 1389,797 1389.7,803.4 1391.8,789.1 1392,791.2 1393.9,811.6 1395,821.8 1398,850.9 1398.2,852.8 1401,813 1401.4,807.4 1403.5,806 1404,811 1405.7,829.1 1407,796.2 1408.6,756.5 1410,692.1 1411.5,623.2 1413,521.2 1414.9,392.1 1416,412.6 1418.1,451.8 1419,418.2 1421.3,332.3 1422,317.1 1423,295.5 1424.5,349.2 1425,384.3 1426.7,503.6 1428,569.4 1429.3,635.1 1431,552.3 1432,503.6 1434,375.1 1434.1,368.7 1436.7,274.1 1437,283.7 1438.4,328.3 1439.5,503.6 1440,517.3 1442.2,583.3 1443,566.1 1446,501.6 1446.1,499.4 1448.9,534.7 1449,540.6 1452,717.4 1455,669.9 1456.7,643.1 1458,655.7 1459.4,669.8 1461,738.2 1461.8,772.6 1464,774 1465.7,775 1467,790.5 1468.4,807.7 1470,763.4 1473,677.8 1476,592.4 1476.3,584.9 1478.2,622.7 1479,651.7 1482,762.7 1482.9,796.4 1485,795.1 1486,794.5 1488,667.9 1488,667.9 1491,649.8 1491.1,649 1493.9,758.6 1494,760.7 1497,806.1 1499.7,847.6 1500,844.5 1503,810.5 1505.6,781.3 1506,780.3 1509,773 1510.3,769.9 1512,788.6 1513.4,803.9 1515,808 1518,815.8 1519.3,819.1 1521,827.4 1524,842 1527,856.6 1527.1,857.1 1530,848.6 1533,840 1533,839.8 1536,819.1 1537.7,807.7 1539,807.2 1542,806.1 1542.7,805.8 1545,811.7 1547.8,819 1548,820.3 1551,842.2 1553.3,859 1554,842.1 1557,769.1 1558.4,735.5 1560,718.8 1561.1,707.1 1563,740.7 1565,777.1 1566,770.4 1569,749.3 1572,728.2 1572.1,727.7 1575,711.7 1575.2,710.5 1578,715 1578.7,716.2 1581,699.7 1581.1,699.2 1583.8,682.1 1584,677.2 1586.2,621.5 1587,630.8 1590,664 1591.6,682.1 1593,730 1593.6,750.4 1596,759.8 1597.5,765.6 1597.8,769.3 1599,789.2 1599.8,803.7 1600.3,793.5 1602,779 1603.9,762.5 1605,770.2 1606.4,779.7 1608,774.5 1608.5,772.8 1611,803.9 1613.5,729.4 1614,725.1 1616.3,705.4 1617,712.2 1619.2,772.9 1619.9,772.7 1620,772.7 1622.7,772.4 1623,772.4 1624.9,772.4 1626,772.5 1626.3,772.5 1628.8,617.5 1629,611.6 1631.3,551.6 1632,561.4 1634.1,589.5 1635,603.5 1637,634.3 1638,648.8 1639.4,668.8 1641,683.9 1643,703.3 1644,712 1646.6,734.5 1647,741.8 1650,791.5 1650.1,793.4 1653,787.7 1653.7,786.4 1656,763.7 1658.3,741.4 1659,744.9 1662,759.4 1662.6,762.1 1665,740.8 1666.1,731 1667.9,758.7 1668,753.7 1669.7,679.3 1671,705.1 1671.4,713.8 1673.9,703.4 1674,704.9 1676.8,765.5 1677,766.4 1680,778.1 1680.3,779.4 1683,805.4 1683.2,807.1 1686,784.5 1689,760.5 1689.2,758.7 1692,764.1 1692.8,765.6 1695,780.7 1696.3,789.8 1698,758.7 1700.6,710 1701,702.2 1704,643.9 1704.2,640.9 1707,687.6 1708.8,716.8 1710,686.3 1711.3,654.6 1713,663.7 1715.9,678.8 1716,681.6 1719,757.6 1719.4,768.9 1722,734.1 1723,720.5 1725,706.8 1726.6,696.2 1728,725.5 1730.8,782.7 1731,778.9 1733.7,722.2 1734,723.7 1737,736.8 1737.2,737.7 1740,805.4 1740.1,807 1743,783.7 1743.6,778.7 1744.5,603.7 1745.7,433.6 1746,437.3 1747,449.5 1748.3,455.5 1749,461.1 1750.5,473.3 1752,598.5 1752.3,623.5 1753.2,824.3 1755,830.4 1756.8,836.5 1758,832.3 1760.3,824.4 1761,819.2 1763.9,796.7 1764,798 1767,833 1769.2,859.1 1770,861.1 1773,868.9 1774.6,873 1776,875.8 1779,881.6 1779.9,883.4 1782,881.3 1783.4,879.9 1785,873.4 1785.9,869.5 1786,869.1 L1786,914.5 Z" fill="#7ec4bc"/>
<path d="M213,914.5 L213,753.4 214.6,743.3 216,704.5 219,621.2 219.4,610.2 221,604.8 222,610.1 222.6,613.2 224.2,670.1 225,694 225.8,717.9 228,729.7 228,729.9 230.6,710.4 231,710.7 233.8,713.4 234,712.3 236,701.5 237,711.2 238,720.9 240,656.3 240.2,650 242.8,700.2 243,696.3 245,664.4 246,705.6 246.6,730.2 248.8,658.7 249,652.8 250.8,588.7 252,637.4 253,676.7 255,674.8 255.6,674.3 257.2,759.2 258,750.2 259.4,735.1 261,729.8 261.6,727.7 263.6,741.1 264,740.1 266.8,733.7 267,733.1 269,727.8 270,735.3 270.6,739.6 272.5,702.6 273,711 275.4,753.4 276,756.6 278.6,770.7 279,773.9 280.8,788.6 282,778.7 282.8,772.2 285,806 287.6,818.7 288,824.4 289.8,848.3 291,850 292,851.4 294,859.8 294.6,862.4 297,856.7 297.8,854.8 300,847.9 302,841.8 303,848.2 304.8,859.5 306,863.4 308,870.4 309,867 310.6,861.3 312,859.4 313.8,856.9 315,864.3 317,876.7 318,879.9 320.8,889 321,889.2 324,891.4 325,892.1 327,893.1 328.2,893.7 330,865.9 330.4,859.2 333,854.8 335.6,884.6 336,878.7 337.8,854.4 339,786.7 341,672.9 342,666.7 343.2,659 345,672.6 345.2,673.9 347.4,880.9 348,874 350.6,843.2 351,840.3 353.2,824.2 354,819.9 355.4,812.7 357,825.2 358,832.7 360,834.4 361.8,835.9 363,823.4 366,792.4 366.6,786.2 369,794.3 369.8,797 372,816.9 373,825.8 375,826.9 376.2,827.5 378,833.5 379.4,838.2 381,839.3 384,841.3 384.2,841.4 387,850.5 389,857 390,860.7 393,871.6 393.2,872.2 395.4,807.6 396,803.4 398,789.4 399,779.5 399.2,777.2 400.8,813.1 402,788.7 403.2,763.4 405,757 405.8,758.5 408,740.3 409.6,754 411,744.8 412.8,733 414,700.1 416,645.5 417,660.7 417.6,669.8 419.8,670 420,676.1 422.4,766.9 423,763 425.6,745.4 426,737.2 428.2,693 429,694.8 431,699.2 432,708.8 433.6,724.8 435,726.2 436.8,728 438,739.2 440,758.3 441,767.9 443.2,789.4 444,800.5 446.4,835.1 447,811.7 448,772.8 450,768.1 450.6,766.8 452.8,747.6 453,753 455,808.4 456,810 457.6,812.8 459,819.9 460.8,829 462,836.8 465,857.3 465.6,861.1 468,862.6 470.4,864.2 471,862.5 474,854.4 475.8,849.4 477,854.8 480,868.8 483,874.6 486,880.4 486.4,881.1 489,879.5 491.2,878.2 492,880.1 495,887.9 496,890.4 498,882.5 501,870.7 503,863.1 504,870.4 505.6,871.8 507,849.3 507.8,842.3 510,841.7 510.4,841.6 513,838.6 513,838.9 514.6,851.2 516,831.2 516.8,830.2 519,840.1 520,844.5 522,857.4 523.2,865.5 525,874.6 526.4,881 528,876.5 530.6,868.6 531,862 534,816 534.4,810 537,816 537.6,817.4 540,837.3 540.8,843.9 543,847.7 543.4,848.3 546,844.3 547.2,842.4 549,847.4 552,856.1 555,809 555.2,805.9 558,785.2 558.4,782.3 561,803.8 561.6,808.7 564,844.1 564.8,855.9 567,871.6 569.6,890.2 570,887.4 572.8,867.1 573,866.9 576,865 577.6,863.9 579,860.4 582,852.7 582.4,851.7 585,871.3 585.6,875.8 588,874.6 591,873.1 592,872.6 594,869.7 595.2,868 597,836.9 598.4,812.6 599,812.9 600,812.5 601,820.6 603,865.5 604,888.3 606,892.2 607,894.2 609,895.2 611,896.2 612,890.3 614,878.8 615,878.8 618,878.8 620,888.4 621,889.2 624,891.5 625,892.3 627,871.8 628,861.5 630,847.4 631,840.4 633,850.6 634,855.8 636,876.3 637,886.5 639,890.4 642,896.2 645,893.4 648,890.5 651,893.8 654,897.1 655,898.2 657,890 660,877.9 663,879.8 665,890.4 666,889.2 669,885.8 670,884.6 672,889.8 673,892.4 675,890.5 678,887.7 679,886.8 681,888.7 683,890.6 684,892.5 687,898.4 689,902.3 690,902 693,901.1 695,900.5 696,900.5 699,900.5 700,900.5 702,898.2 704,896 705,895.6 708,894.5 709,894.1 711,898.7 714,899.7 717,900.6 720,901.3 723,902.1 725,902.5 726,903 729,904.4 732,905.9 733,906.4 735,902.5 738,897 741,898.4 742,898.9 744,901.3 745,902.6 747,899.4 748,897.8 750,897.2 751,896.9 753,894.2 755,891.4 756,890.7 759,888.7 761,898.8 762,898.8 765,898.7 768,906.4 771,900.7 772,898.8 774,899.7 776,900.7 777,904.9 778,909.2 780,908.8 783,908.2 786,907.1 789,906 791,905.3 792,906.7 795,911.1 798,911.4 801,911.7 804,911.9 805,912 807,910.9 810,909.2 812,908.1 813,905.1 816,896.2 819,881.4 820,876.5 822,877.8 823,878.4 825,880 828,882.4 831,885.3 832,886.3 834,885.5 837,884.3 840,891.1 843,897.9 844,900.1 846,896.5 849,891.1 851,887.4 852,889.2 855,894.6 857,898.2 858,899.5 861,903.3 864,907.1 867,901.7 869,898.2 870,888 873,857.4 874,847.3 876,845.3 877,844.4 879,851.3 882,868.8 883,874.7 885,877.3 886,878.6 888,876.1 889,874.8 891,880.2 893,885.6 894,880.7 897,866.2 899,856.6 900,862.2 903,879.1 904,884.7 906,887.9 909,892.6 912,891.9 913,891.7 915,896.2 916,898.5 918,855.9 921,855.4 923,855 924,876.1 924.6,889 927,890.1 929,890.9 930,892.8 933,898.6 935,889 936,888.6 939,887.1 942,892.9 944,896.7 945,897.8 948,901.3 949,902.5 951,901 954,898.8 957,896.5 960,877.4 963,858.1 966,867.3 969,870.6 972,883.1 973,887.2 975,888.4 977,889.5 978,891 981,895 984,899 987,901.3 989,902.8 990,902.6 993,903.4 994.3,903.6 995,903.7 996,904.5 998.5,906.6 999,906.3 1002,903.9 1005,901.5 1006,900.8 1008,901.7 1010.3,902.7 1011,903.5 1014,906.8 1015.6,908.6 1017,907.6 1020,905.3 1022,903.7 1023,904.6 1026,907.4 1028.4,909.6 1029,909.2 1032,907 1033.7,905.7 1035,903.4 1038,898 1038.6,896.9 1041,903.3 1043.3,909.6 1044,908.6 1047,903.7 1050,898.9 1050.8,897.6 1053,896.2 1054,895.6 1056,896 1058.3,896.6 1059,895.9 1062,893 1063.6,891.5 1065,888.9 1065.7,887.6 1067.9,882 1068,880.4 1071,845.7 1071.1,844.9 1073.6,839.3 1074,841.5 1076.4,856.2 1077,857.4 1080,863.2 1081.7,866.6 1083,862.5 1084.9,856.2 1086,855.7 1088.6,854.4 1089,858.7 1090.3,871.5 1092,869.4 1094.1,866.8 1095,869.1 1096.7,873.5 1098,875.9 1100.9,881.3 1101,881.1 1104,870.1 1105.2,865.6 1107,840.6 1109.5,805.6 1110,806.7 1112.7,812.2 1113,815.2 1115.9,840.5 1116,840.9 1119,849.8 1119.1,850 1122,843 1125,835.9 1125.5,834.8 1128,834.8 1128.7,834.8 1131,841.7 1131.9,844.2 1134,846.7 1135.1,848 1137,842 1139.3,834.8 1140,834.8 1141.9,834.8 1143,820.7 1143.6,813.1 1146,827.9 1146.8,832.9 1148.9,836.7 1149,837.6 1151.1,865.6 1152,865.1 1154.3,863.8 1155,859.9 1157.5,846.8 1158,847.6 1160.7,851.5 1161,853 1164,867.2 1164.9,871.5 1167,833.5 1169.2,793.8 1170,792.8 1173,787.4 1173.9,785.9 1176,799.5 1176.7,803.8 1179,805.6 1179.9,806.3 1182,694.7 1184.3,572.9 1185,548.5 1188,446.5 1190.2,454.5 1191,442.2 1192.7,415.9 1194,473.5 1194.2,482.4 1197,536.2 1197.3,541.9 1199.5,706.5 1200,715.6 1201.5,746 1203,674.2 1205,675.6 1206,668.5 1207.6,657.1 1209,691.9 1210,716.6 1212,720.6 1212.9,728.5 1215,749.9 1216.1,761.7 1218,794.5 1219.3,816.7 1221,819.4 1223.6,823.6 1224,824.1 1227,827.5 1227.9,828.5 1230,839.8 1233,855.7 1233.2,856.7 1236,849.7 1237.1,846.7 1237.5,846.7 1239,848.3 1240,849.4 1240.3,851.4 1242,857.2 1244.6,866.6 1245,867.3 1247.8,872.4 1248,871.8 1249.9,866.6 1251,848.9 1252.1,830.1 1254,828.3 1254.2,828.2 1255.9,802.8 1257,810.2 1257.4,812.9 1260,814.7 1260.6,814.7 1261.7,807.1 1262.7,799.8 1263,799.4 1264.2,797.8 1266,797.7 1267.3,797.7 1268.3,807.1 1269,812 1269.1,812.8 1271.3,820.5 1272,820.3 1274.5,819.6 1275,822.1 1276.6,830.1 1278,831.8 1279.8,833.9 1281,845 1283.6,869.5 1284,864.3 1285.8,838.1 1287,835 1287.3,834.4 1289.4,808.2 1290,817.7 1291.5,841.8 1293,845.3 1294.7,849.3 1296,837.1 1297.9,818.5 1299,819.4 1300.1,820.3 1302,847.7 1303.7,872.4 1305,858.5 1308,827.1 1308.6,820.9 1311,799.2 1311.8,792 1314,812 1314.4,815.3 1317,810 1317.1,809.7 1319.9,835.9 1320,836.1 1322.5,843.5 1323,841.2 1324.2,836.1 1326,845.6 1326.7,849.3 1328.4,834.4 1329,839.3 1331,857 1332,866.9 1334.2,888.7 1335,888 1337.4,885.9 1338,882.4 1340.6,867.2 1341,865.5 1344,852.3 1344.9,848.5 1347,865.4 1350,883.8 1351.3,891.6 1353,885.5 1354.5,880.1 1356,876.9 1359,870.8 1359.2,870.5 1362,871.9 1363,872.4 1365,850.5 1365.6,844.3 1368,831.9 1369.4,824.7 1371,833.6 1372.6,842.5 1374,851.5 1375.8,863 1377,868.6 1379,878.1 1380,826.5 1381.1,766.5 1383,738.7 1383.3,734.8 1385.8,725.4 1386,730.8 1388.2,798.3 1389,805.5 1389.7,811.3 1391.8,798.3 1392,800.2 1393.9,818.8 1395,828.2 1398,855.2 1398.2,857 1401,819.9 1401.4,814.6 1403.5,812.6 1404,817.1 1405.7,833 1407,801 1408.6,761.8 1410,701.7 1411.5,643.7 1413,557.9 1414.9,449.2 1416,466.5 1418.1,499.5 1419,471.2 1421.3,398.9 1422,386.1 1423,367.9 1424.5,413.2 1425,442.7 1426.7,543.1 1428,598.4 1429.3,653.8 1431,584.1 1432,543.1 1434,434.9 1434.1,429.5 1436.7,350 1437,358 1438.4,395.6 1439.5,543.1 1440,554.6 1442.2,602 1443,586.4 1446,528.2 1446.1,526.2 1448.9,558.1 1449,563.4 1452,723 1455,680.1 1456.7,656.6 1458,668.6 1459.4,682.1 1461,747.4 1461.8,779.3 1464,781.4 1465.7,783 1467,798 1468.4,814.5 1470,774.2 1473,695.4 1476,616.8 1476.3,609.9 1478.2,644.6 1479,671.3 1482,773.4 1482.9,804.3 1485,803.2 1486,802.6 1488,686.2 1488,686.1 1491,669.4 1491.1,668.8 1493.9,769.5 1494,771.5 1497,813.4 1499.7,852.1 1500,849.3 1503,817.5 1505.6,790.6 1506,789.7 1509,783 1510.3,780.1 1512,797.2 1513.4,811.4 1515,815.2 1518,822.4 1519.3,825.4 1521,833.2 1524,846.8 1527,860.4 1527.1,860.9 1530,853 1533,844.9 1533,844.7 1536,825.4 1537.7,814.9 1539,814.5 1542,813.4 1542.7,813.2 1545,818.6 1547.8,825.3 1548,826.5 1551,846.9 1553.3,862.6 1554,847.1 1557,778.8 1558.4,747.8 1560,732.4 1561.1,721.6 1563,752.5 1565,786.1 1566,779.9 1569,760.1 1572,740.4 1572.1,739.9 1575,725 1575.2,723.9 1578,728.1 1578.7,729.1 1581,713.9 1581.1,713.4 1583.8,697.6 1584,693.1 1586.2,641.7 1587,650.3 1590,680.9 1591.6,697.6 1593,742.2 1593.6,761.1 1596,770 1597.5,775.3 1597.8,778.7 1599,797.3 1599.8,810.9 1600.3,801.5 1602,788.1 1603.9,772.9 1605,779.9 1606.4,788.7 1608,783.9 1608.5,782.4 1611,811 1613.5,741.4 1614,737.5 1616.3,719.5 1617,725.7 1619.2,781.1 1619.9,780.5 1620,780.5 1622.7,779.5 1623,779.5 1624.9,779.4 1626,779.8 1626.3,779.9 1628.8,638.3 1629,632.9 1631.3,576.6 1632,585.6 1634.1,611.6 1635,624.6 1637,653 1638,666.4 1639.4,684.9 1641,698.8 1643,716.8 1644,725 1646.6,746 1647,752.8 1650,799.4 1650.1,801.1 1653,795.8 1653.7,794.6 1656,773.2 1658.3,752.7 1659,755.8 1662,769.3 1662.6,771.8 1665,752 1666.1,743 1667.9,768.5 1668,764 1669.7,695.1 1671,719 1671.4,727 1673.9,717.4 1674,718.7 1676.8,774.9 1677,775.7 1680,786.7 1680.3,787.9 1683,812.3 1683.2,813.9 1686,792.7 1689,770.5 1689.2,768.8 1692,773.8 1692.8,775.2 1695,789.2 1696.3,797.6 1698,768.8 1700.6,722.8 1701,715.6 1704,661.6 1704.2,658.8 1707,702.1 1708.8,729.2 1710,700.9 1711.3,671.5 1713,679.9 1715.9,693.9 1716,696.5 1719,767.3 1719.4,777.9 1722,745.7 1723,733 1725,720.4 1726.6,710.6 1728,737.7 1730.8,790.9 1731,787.4 1733.7,734.8 1734,736.1 1737,748.2 1737.2,749.1 1740,812.1 1740.1,813.6 1743,795.3 1743.6,791.4 1744.5,654 1745.7,520.6 1746,523.5 1747,533.1 1748.3,537.7 1749,542.2 1750.5,551.8 1752,650 1752.3,669.6 1753.2,829.9 1755,835.6 1756.8,841.3 1758,837.4 1760.3,830 1761,825.2 1763.9,804.3 1764,805.5 1767,838 1769.2,862.5 1770,864.3 1773,871.7 1774.6,875.5 1776,878.1 1779,883.7 1779.9,885.3 1782,883.4 1783.4,882 1785,876 1785.9,872.4 1786,872 L1786,914.5 Z" fill="#adddb6"/>
<path d="M213,914.5 L213,766.3 214.6,757.1 216,722.5 219,648 219.4,638.1 221,633.4 222,638.2 222.6,641 224.2,691.7 225,713 225.8,734.3 228,744.9 228,745.1 230.6,727.5 231,727.9 233.8,730.3 234,729.4 236,719.8 237,728.5 238,737.2 240,679.8 240.2,674.2 242.8,718.8 243,715.5 245,687.2 246,724 246.6,745.9 248.8,682.5 249,677.3 250.8,620.4 252,663.7 253,698.6 255,697.1 255.6,696.6 257.2,772.7 258,764.8 259.4,750.9 261,746.2 261.6,744.4 263.6,756.3 264,755.4 266.8,749.9 267,749.3 269,744.7 270,751.3 270.6,754.9 272.5,721.6 273,728.8 275.4,766 276,768.6 278.6,780.8 279,783.6 280.8,796.7 282,787.3 282.8,781.1 285,811.7 287.6,824.1 288,829.4 289.8,852 291,853.7 292,855.1 294,863.2 294.6,865.5 297,860.5 297.8,858.9 300,852.9 302,847.6 303,853.3 304.8,863.5 306,867 308,873.6 309,870.6 310.6,865.7 312,864.1 313.8,862 315,868.6 317,879.8 318,882.8 320.8,891.2 321,891.3 324,893.5 325,894.1 327,895.1 328.2,895.6 330,871.5 330.4,865.8 333,862.3 335.6,887.5 336,882.5 337.8,861.6 339,803.7 341,705.6 342,699.7 343.2,692.3 345,703 345.2,704 347.4,883.3 348,877.2 350.6,848 351,845.4 353.2,830.9 354,827.1 355.4,820.8 357,831.8 358,838.4 360,839.9 361.8,841.2 363,830.3 366,803 366.6,797.6 369,804.8 369.8,807.1 372,824.5 373,832.4 375,833.3 376.2,833.9 378,839.3 379.4,843.3 381,844.3 384,846.3 384.2,846.4 387,854.8 389,860.8 390,864.3 393,874.3 393.2,874.8 395.4,814.3 396,810.4 398,797.5 399,788.3 399.2,786.2 400.8,818.4 402,795.1 403.2,770.8 405,764.4 405.8,765.9 408,749.2 409.6,761.9 411,753.5 412.8,742.8 414,713 416,663.4 417,677.4 417.6,685.8 419.8,686.3 420,691.8 422.4,774.8 423,771.3 425.6,754.7 426,747.4 428.2,707.8 429,709.5 431,713.7 432,722.4 433.6,736.9 435,738.2 436.8,740 438,750.1 440,767.8 441,776.9 443.2,797.8 444,807.7 446.4,840.2 447,819.7 448,785.8 450,782 450.6,781 452.8,764.8 453,769.5 455,817.4 456,818.9 457.6,821.4 459,827.5 460.8,835.3 462,842.2 465,861.6 465.6,864.8 468,866.3 470.4,867.7 471,866.4 474,859.6 475.8,855.5 477,859.9 480,871.9 483,877.3 486,882.8 486.4,883.4 489,882 491.2,880.9 492,882.5 495,890 496,892 498,884.6 501,873.7 503,867.6 504,873.4 505.6,874.5 507,854.2 507.8,848.3 510,847.8 510.4,847.7 513,845.1 513,845.4 514.6,855.7 516,840.2 516.8,839.3 519,847.2 520,850.2 522,860.9 523.2,868.5 525,877.7 526.4,883.1 528,879.3 530.6,871.4 531,865.9 534,825.5 534.4,820.5 537,825.5 537.6,826.6 540,843.1 540.8,848.6 543,851.7 543.4,852.2 546,848.8 547.2,847.2 549,851.3 552,859.4 555,820.3 555.2,817.7 558,800.5 558.4,798 561,815.7 561.6,819.8 564,849.1 564.8,858.9 567,873.8 569.6,891.4 570,889 572.8,870.2 573,870.1 576,868.3 577.6,867.4 579,864.3 582,857.6 582.4,856.7 585,873.4 585.6,877.3 588,876.1 591,874.8 592,874.3 594,871.7 595.2,870.2 597,842.8 598.4,821.4 599,821.6 600,821.1 601,828.3 603,867.8 604,889.1 606,893 607,894.9 609,895.9 611,896.8 612,891.3 614,881.2 615,881.2 618,881.2 620,889.7 621,890.3 624,892.4 625,893.1 627,875 628,866 630,853.6 631,847.5 633,856.5 634,861 636,879 637,888.1 639,891.5 642,897 645,894.4 648,891.9 651,894.8 654,897.9 655,898.9 657,891.2 660,880.6 663,882.3 665,891.6 666,890.6 669,887.6 670,886.6 672,891.1 673,893.4 675,891.8 678,889.3 679,888.5 681,890.3 683,892 684,893.6 687,899.3 689,903 690,902.7 693,901.8 695,901.2 696,901.3 699,901.3 700,901.3 702,899.4 704,897.4 705,897.1 708,896.1 709,895.8 711,899.8 714,900.6 717,901.4 720,902.1 723,902.9 725,903.3 726,903.7 729,905.1 732,906.5 733,906.9 735,903.3 738,898.6 741,899.8 742,900.2 744,902.3 745,903.4 747,900.4 748,899.1 750,898.6 751,898.3 753,895.9 755,893.6 756,893 759,891.2 761,899.9 762,899.9 765,899.9 768,907 771,902.1 772,900.4 774,901.2 776,902 777,905.9 778,909.6 780,909.3 783,908.7 786,907.8 789,906.8 791,906.1 792,907.4 795,911.3 798,911.6 801,911.8 804,912.1 805,912.2 807,911.2 810,909.5 812,908.3 813,905.7 816,896.8 819,882.8 820,878.4 822,879.6 823,880.2 825,881.6 828,883.8 831,886.5 832,887.4 834,886.7 837,885.6 840,892.1 843,898.7 844,900.7 846,897.5 849,892.5 851,889.2 852,890.9 855,895.8 857,899 858,900.2 861,903.8 864,907.4 867,902.3 869,898.9 870,889.7 873,861.3 874,852.3 876,850.7 877,850 879,856.3 882,872.2 883,877.5 885,879.9 886,881.1 888,878.9 889,877.9 891,882.8 893,887.9 894,883.7 897,871.2 899,863 900,867.9 903,882.7 904,887.6 906,890.5 909,894.8 912,894.3 913,894.3 915,898.7 916,900.5 918,859.9 921,859.8 923,859.8 924,880.5 924.6,893.9 927,894.9 929,895.5 930,897 933,901.7 935,894.3 936,893.9 939,892.8 942,897.2 944,900.2 945,901.1 948,903.9 949,904.8 951,903.7 954,901.3 957,898.7 960,881 963,862.5 966,871.2 969,874.6 972,885.9 973,889.6 975,890.8 977,892 978,893.3 981,896.9 984,900.5 987,902.6 989,903.9 990,903.8 993,904.5 994.3,904.7 995,904.8 996,905.5 998.5,907.4 999,907.1 1002,905 1005,903 1006,902.3 1008,903.1 1010.3,904 1011,904.7 1014,907.6 1015.6,909.2 1017,908.3 1020,906.3 1022,904.9 1023,905.7 1026,908.1 1028.4,910.1 1029,909.7 1032,907.8 1033.7,906.7 1035,904.7 1038,900 1038.6,899 1041,904.6 1043.3,910.1 1044,909.2 1047,904.7 1050,900.3 1050.8,899.1 1053,897.9 1054,897.4 1056,897.7 1058.3,898.2 1059,897.6 1062,895 1063.6,893.6 1065,891.4 1065.7,890.4 1067.9,886.5 1068,885.4 1071,859.6 1071.1,859 1073.6,854.8 1074,856.5 1076.4,867.4 1077,868.3 1080,872.6 1081.7,875.1 1083,872 1084.9,867.4 1086,867 1088.6,866 1089,869.2 1090.3,879.1 1092,877.5 1094.1,875.6 1095,877.3 1096.7,880.7 1098,882.7 1100.9,887.2 1101,887 1104,877.9 1105.2,874.3 1107,855.7 1109.5,828.6 1110,829.4 1112.7,833.5 1113,835.6 1115.9,854.4 1116,854.7 1119,861.2 1119.1,861.3 1122,856 1125,850.8 1125.5,850 1128,850 1128.7,850 1131,855 1131.9,856.9 1134,858.8 1135.1,859.7 1137,855.3 1139.3,850 1140,850 1141.9,850 1143,839.6 1143.6,833.9 1146,844.9 1146.8,848.6 1148.9,851.4 1149,852 1151.1,874.3 1152,873.8 1154.3,872.9 1155,870 1157.5,860.3 1158,860.9 1160.7,863.8 1161,864.9 1164,875.9 1164.9,879.1 1167,847.8 1169.2,816.5 1170,815.8 1173,807 1173.9,804.4 1176,812.7 1176.7,815.2 1179,814.2 1179.9,814 1182,706.6 1184.3,586 1185,560.1 1188,458.3 1190.2,466.4 1191,454 1192.7,427.8 1194,485.3 1194.2,494.2 1197,548.1 1197.3,553.8 1199.5,713.3 1200,722.4 1201.5,752.8 1203,730.4 1205,733.3 1206,732.3 1207.6,730.9 1209,743.6 1210,752.5 1212,742.7 1212.9,749.8 1215,768.2 1216.1,779.4 1218,809.5 1219.3,829.6 1221,832.7 1223.6,837.6 1224,838.1 1227,842.4 1227.9,843.7 1230,853.9 1233,868 1233.2,868.8 1236,864.4 1237.1,862.3 1237.5,862.3 1239,863.4 1240,864.2 1240.3,865.6 1242,869.8 1244.6,877.2 1245,877.7 1247.8,881.6 1248,881.2 1249.9,877.1 1251,864.4 1252.1,848.6 1254,847.3 1254.2,847.1 1255.9,828.8 1257,833.6 1257.4,835.4 1260,836.6 1260.6,836.6 1261.7,830.5 1262.7,824.5 1263,824.2 1264.2,822.9 1266,822.8 1267.3,822.8 1268.3,830.5 1269,834.5 1269.1,835.1 1271.3,841.1 1272,841 1274.5,840.6 1275,842.4 1276.6,848.6 1278,849.9 1279.8,851.6 1281,860.3 1283.6,879.4 1284,875.7 1285.8,855.6 1287,853.4 1287.3,852.9 1289.4,834.2 1290,841 1291.5,858.3 1293,860.7 1294.7,863.6 1296,854.9 1297.9,841.6 1299,842.2 1300.1,842.9 1302,862.5 1303.7,881.6 1305,870.8 1308,846.9 1308.6,842.5 1311,826.9 1311.8,821.7 1314,836.1 1314.4,838.5 1317,834.6 1317.1,834.4 1319.9,853.2 1320,853.3 1322.5,859.1 1323,857.5 1324.2,853.8 1326,860.9 1326.7,863.6 1328.4,852.9 1329,856.4 1331,869.6 1332,877.4 1334.2,894.4 1335,893.9 1337.4,892.4 1338,889.9 1340.6,879 1341,877.7 1344,868.4 1344.9,865.6 1347,877.7 1350,891.1 1351.3,896.6 1353,892.3 1354.5,887.6 1356,885.2 1359,880.5 1359.2,880.3 1362,881.3 1363,881.6 1365,866 1365.6,861.6 1368,852.7 1369.4,847.5 1371,853.9 1372.6,860.2 1374,866.7 1375.8,874.9 1377,878.9 1379,886.1 1380,849.2 1381.1,803 1383,783.1 1383.3,780.3 1385.8,773.6 1386,777.5 1388.2,825.7 1389,830.9 1389.7,835.1 1391.8,825.7 1392,827.1 1393.9,840.4 1395,847.1 1398,868.4 1398.2,869.6 1401,839.5 1401.4,834.8 1403.5,829 1404,831.6 1405.7,841.4 1407,810.2 1408.6,771 1410,712.9 1411.5,662.7 1413,588.3 1414.9,494.1 1416,509.1 1418.1,537.7 1419,513.2 1421.3,450.5 1422,439.4 1423,423.6 1424.5,462.8 1425,488.4 1426.7,575.5 1428,623.4 1429.3,671.4 1431,611 1432,575.5 1434,481.7 1434.1,477 1436.7,408.1 1437,415 1438.4,447.6 1439.5,575.5 1440,585.4 1442.2,629.9 1443,616.9 1446,568.1 1446.1,566.4 1448.9,593.1 1449,597.6 1452,731.4 1455,695.4 1456.7,679.5 1458,692.3 1459.4,706.8 1461,767.4 1461.8,794.6 1464,800.4 1465.7,805.1 1467,820.1 1468.4,835.9 1470,810.2 1473,753.8 1476,698.1 1476.3,693.2 1478.2,717.8 1479,736.6 1482,808.9 1482.9,830.9 1485,830 1486,829.6 1488,747 1488,747 1491,735.1 1491.1,734.6 1493.9,806.1 1494,807.4 1497,837.7 1499.7,867.1 1500,865 1503,840.7 1505.6,821.5 1506,820.9 1509,816.1 1510.3,814 1512,826.2 1513.4,836.3 1515,839 1518,844.3 1519.3,846.7 1521,852.6 1524,862.9 1527,873.3 1527.1,873.6 1530,867.6 1533,861.4 1533,861.3 1536,846.6 1537.7,839.1 1539,838.7 1542,838 1542.7,837.8 1545,841.6 1547.8,846.4 1548,847.3 1551,862.8 1553.3,874.8 1554,863.7 1557,811.1 1558.4,788.8 1560,777.8 1561.1,770 1563,792.2 1565,816.3 1566,811.8 1569,796.3 1572,781.1 1572.1,780.8 1575,769.5 1575.2,768.7 1578,771.7 1578.7,772.4 1581,761.4 1581.1,761.1 1583.8,749.7 1584,746.4 1586.2,709.4 1587,715.6 1590,737.5 1591.6,749.5 1593,783.1 1593.6,796.7 1596,804 1597.5,807.8 1597.8,810.2 1599,824.5 1599.8,834.9 1600.3,828.1 1602,818.4 1603.9,807.4 1605,812.5 1606.4,818.9 1608,815.4 1608.5,814.3 1611,834.9 1613.5,781.6 1614,779.1 1616.3,766.7 1617,771 1619.2,808.5 1619.9,806.7 1620,806.7 1622.7,803.2 1623,803.2 1624.9,803 1626,804.3 1626.3,804.6 1628.8,708.1 1629,704.4 1631.3,660.5 1632,667 1634.1,685.8 1635,695.1 1637,715.7 1638,725.4 1639.4,738.7 1641,748.8 1643,762 1644,768.3 1646.6,784.8 1647,789.7 1650,825.7 1650.1,826.9 1653,822.8 1653.7,821.9 1656,805.4 1658.3,790.3 1659,792.6 1662,802.4 1662.6,804.2 1665,789.8 1666.1,783.2 1667.9,801.8 1668,798.4 1669.7,748.2 1671,765.7 1671.4,771.5 1673.9,764.4 1674,765.4 1676.8,806.5 1677,807.1 1680,815.6 1680.3,816.5 1683,835.4 1683.2,836.6 1686,820.4 1689,804.1 1689.2,802.9 1692,806.5 1692.8,807.5 1695,817.7 1696.3,823.8 1698,802.8 1700.6,766.1 1701,760.8 1704,721.2 1704.2,719.2 1707,750.8 1708.8,770.6 1710,749.8 1711.3,728.3 1713,734.4 1715.9,744.6 1716,746.5 1719,800.1 1719.4,808.3 1722,784.6 1723,775.4 1725,766.1 1726.6,758.8 1728,778.7 1730.8,818.3 1731,815.7 1733.7,777 1734,778 1737,786.9 1737.2,787.5 1740,834.9 1740.1,835.9 1743,832.8 1743.6,832.1 1744.5,808.7 1745.7,786 1746,786.5 1747,788.1 1748.3,788.9 1749,789.6 1750.5,791.2 1752,807.9 1752.3,811.3 1753.2,848.5 1755,852.9 1756.8,857.4 1758,854.7 1760.3,849 1761,845.5 1763.9,830 1764,830.9 1767,854.9 1769.2,873.9 1770,875.3 1773,881.2 1774.6,884 1776,886.1 1779,890.5 1779.9,891.6 1782,890.2 1783.4,889.2 1785,884.8 1785.9,882.1 1786,881.8 L1786,914.5 Z" fill="#d9f0b1"/>
<path d="M213,914.5 L213,782.4 214.6,774.2 216,745 219,681.4 219.4,673.1 221,669.2 222,673.3 222.6,675.7 224.2,718.7 225,736.8 225.8,754.9 228,763.9 228,764.1 230.6,749 231,749.3 233.8,751.5 234,750.7 236,742.7 237,750.1 238,757.5 240,709.2 240.2,704.4 242.8,742.2 243,739.4 245,715.6 246,747.1 246.6,765.5 248.8,712.3 249,707.9 250.8,660.2 252,696.6 253,726 255,724.8 255.6,724.5 257.2,789.5 258,782.9 259.4,770.6 261,766.8 261.6,765.3 263.6,775.4 264,774.6 266.8,770.1 267,769.6 269,765.8 270,771.4 270.6,774.7 272.5,748.4 273,754.6 275.4,786.7 276,789 278.6,800.5 279,803 280.8,814.8 282,808.1 282.8,803.8 285,828.7 287.6,839.6 288,843.5 289.8,862.3 291,863.9 292,864.9 294,872 294.6,873.6 297,870 297.8,868.8 300,864.5 302,860.7 303,864.8 304.8,872.2 306,874.9 308,880.3 309,878.2 310.6,874.7 312,873.5 313.8,872 315,876.7 317,885.5 318,888 320.8,895 321,895.1 324,897 325,897.5 327,898.3 328.2,898.7 330,880.3 330.4,876.2 333,873.7 335.6,891.9 336,888.2 337.8,872.3 339,829.6 341,756.1 342,751 343.2,744.6 345,751.5 345.2,752.1 347.4,887.3 348,882.6 350.6,856.1 351,854.1 353.2,842.1 354,839.1 355.4,834.3 357,842.8 358,847.8 360,849 361.8,850 363,841.6 366,820.8 366.6,816.6 369,822.2 369.8,824 372,837.3 373,843.4 375,844.1 376.2,844.5 378,848.8 379.4,851.9 381,852.8 384,854.5 384.2,854.6 387,862 389,867.3 390,870.3 393,879.1 393.2,879.5 395.4,826.3 396,823.1 398,812.5 399,805 399.2,803.2 400.8,828.8 402,807.8 403.2,785.9 405,780 405.8,781.2 408,767.2 409.6,777.6 411,770.9 412.8,762.2 414,738 416,698 417,709.5 417.6,716.3 419.8,716.9 420,721.4 422.4,789.6 423,786.7 425.6,771.6 426,765.7 428.2,734.1 429,735.6 431,739.1 432,746.1 433.6,757.7 435,758.9 436.8,760.3 438,768.4 440,783.7 441,791.8 443.2,811.6 444,819.3 446.4,848.3 447,832.6 448,806.7 450,804.3 450.6,803.6 452.8,791.9 453,795.5 455,831.6 456,832.8 457.6,834.8 459,839.3 460.8,845.1 462,850.3 465,868.2 465.6,870.4 468,871.7 470.4,873 471,872.1 474,867.5 475.8,864.7 477,867.7 480,876.7 483,881.5 486,886.5 486.4,886.9 489,886 491.2,885.2 492,886.3 495,893.1 496,894.5 498,887.9 501,878.5 503,874.9 504,878.1 505.6,878.9 507,862.1 507.8,858 510,857.6 510.4,857.5 513,855.7 513,855.9 514.6,863.2 516,854.7 516.8,854.3 519,858.8 520,859.7 522,866.7 523.2,873.5 525,882.9 526.4,886.5 528,884 530.6,876 531,872.4 534,841.4 534.4,838.2 537,841.4 537.6,842.1 540,852.8 540.8,856.4 543,858.4 543.4,858.7 546,856.5 547.2,855.5 549,858.1 552,865.1 555,839.9 555.2,838.2 558,827.1 558.4,825.6 561,836.9 561.6,839.5 564,858.3 564.8,864.6 567,877.8 569.6,893.7 570,892.1 572.8,876.6 573,876.5 576,875.3 577.6,874.6 579,872.6 582,868.2 582.4,867.7 585,878.3 585.6,880.8 588,879.7 591,878.7 592,878.4 594,876.7 595.2,875.7 597,858.1 598.4,844.4 599,844.5 600,844.2 601,848.8 603,874.1 604,891.4 606,894.9 607,896.7 609,897.6 611,898.5 612,893.9 614,887.5 615,887.5 618,887.6 620,893 621,893.4 624,894.8 625,895.2 627,883.8 628,878.1 630,870.3 631,866.4 633,872.1 634,875 636,886.5 637,892.2 639,894.4 642,898.9 645,897.3 648,895.7 651,897.6 654,900.1 655,900.7 657,894.4 660,887.8 663,888.9 665,894.8 666,894.2 669,892.3 670,891.7 672,894.6 673,896 675,895 678,893.6 679,893.1 681,894.2 683,895.3 684,896.4 687,901.3 689,904.6 690,904.4 693,903.6 695,903.1 696,903.1 699,903.2 700,903.2 702,902 704,900.7 705,900.5 708,900 709,899.8 711,902.4 714,902.9 717,903.5 720,904.1 723,904.8 725,905.1 726,905.5 729,906.6 732,907.9 733,908.2 735,905.2 738,902.2 741,903 742,903.3 744,904.7 745,905.3 747,902.9 748,902 750,901.7 751,901.5 753,900 755,898.6 756,898.2 759,897.2 761,902.6 762,902.6 765,902.6 768,908.3 771,905 772,903.9 774,904.4 776,904.9 777,907.9 778,910.4 780,910.2 783,909.8 786,909.1 789,908.4 791,907.8 792,908.7 795,911.7 798,911.9 801,912.1 804,912.3 805,912.4 807,911.5 810,909.7 812,908.6 813,906.2 816,897.5 819,884.3 820,880.3 822,881.4 823,882 825,883.3 828,885.2 831,887.7 832,888.5 834,887.9 837,887 840,893 843,899.5 844,901.3 846,898.4 849,894 851,891 852,892.5 855,896.9 857,899.8 858,900.9 861,904.3 864,907.8 867,902.9 869,899.7 870,891.5 873,865.3 874,857.4 876,856.3 877,855.8 879,861.6 882,875.8 883,880.4 885,882.7 886,883.8 888,882.2 889,881.3 891,885.7 893,890.5 894,887 897,877 899,870.5 900,874.7 903,887 904,891.1 906,893.6 909,897.6 912,897.4 913,897.6 915,901.7 916,903.1 918,864.7 921,865.3 923,865.6 924,885.8 924.6,899.8 927,900.8 929,901 930,902 933,905.3 935,900.5 936,900.3 939,899.6 942,902.5 944,904.4 945,904.9 948,907 949,907.5 951,906.8 954,904.3 957,901.2 960,884.9 963,866.8 966,875.4 969,879.1 972,889.2 973,892.5 975,893.9 977,895.1 978,896.4 981,899.5 984,902.6 987,904.4 989,905.5 990,905.4 993,905.9 994.3,906.1 995,906.2 996,906.8 998.5,908.4 999,908.2 1002,906.5 1005,904.9 1006,904.3 1008,905 1010.3,905.7 1011,906.2 1014,908.5 1015.6,909.9 1017,909.2 1020,907.6 1022,906.5 1023,907.2 1026,909.1 1028.4,910.7 1029,910.4 1032,908.9 1033.7,908 1035,906.4 1038,902.6 1038.6,901.8 1041,906.3 1043.3,910.7 1044,910 1047,906 1050,902.2 1050.8,901.2 1053,900.1 1054,899.7 1056,900 1058.3,900.4 1059,899.9 1062,897.6 1063.6,896.4 1065,894.6 1065.7,893.5 1067.9,889.8 1068,888.9 1071,866.5 1071.1,866.1 1073.6,862.6 1074,864 1076.4,873 1077,873.7 1080,877.2 1081.7,879.3 1083,876.8 1084.9,873 1086,872.6 1088.6,871.8 1089,874.5 1090.3,882.9 1092,881.6 1094.1,880 1095,881.4 1096.7,884.3 1098,886.1 1100.9,890.1 1101,890 1104,881.8 1105.2,878.6 1107,863.3 1109.5,840.1 1110,840.7 1112.7,844.1 1113,845.9 1115.9,861.3 1116,861.5 1119,866.9 1119.1,867 1122,862.5 1125,858.2 1125.5,857.5 1128,857.5 1128.7,857.5 1131,861.7 1131.9,863.3 1134,864.8 1135.1,865.6 1137,861.9 1139.3,857.5 1140,857.5 1141.9,857.5 1143,849 1143.6,844.3 1146,853.4 1146.8,856.4 1148.9,858.7 1149,859.2 1151.1,878.6 1152,878.2 1154.3,877.4 1155,875 1157.5,867.1 1158,867.6 1160.7,870 1161,870.9 1164,880.2 1164.9,882.9 1167,854.9 1169.2,827.9 1170,827.3 1173,817.8 1173.9,815.1 1176,820.9 1176.7,822.6 1179,820.5 1179.9,819.9 1182,717.3 1184.3,600.5 1185,574.1 1188,472.5 1190.2,480.5 1191,468.2 1192.7,442 1194,499.4 1194.2,508.3 1197,562.5 1197.3,568 1199.5,721.5 1200,730.5 1201.5,759.8 1203,740.2 1205,743.4 1206,742.8 1207.6,742 1209,753.6 1210,761.7 1212,754.7 1212.9,761 1215,777.1 1216.1,788 1218,816.7 1219.3,835.8 1221,839.2 1223.6,844.4 1224,845 1227,849.8 1227.9,851.2 1230,860.9 1233,874.1 1233.2,874.8 1236,871.8 1237.1,870.1 1237.5,870 1239,871 1240,871.6 1240.3,872.7 1242,876.1 1244.6,882.5 1245,882.9 1247.8,886.3 1248,885.9 1249.9,882.4 1251,872.2 1252.1,857.9 1254,856.7 1254.2,856.6 1255.9,841.8 1257,845.4 1257.4,846.7 1260,847.6 1260.6,847.6 1261.7,842.2 1262.7,836.9 1263,836.6 1264.2,835.5 1266,835.4 1267.3,835.4 1268.3,842.2 1269,845.7 1269.1,846.2 1271.3,851.5 1272,851.4 1274.5,851.1 1275,852.6 1276.6,857.9 1278,859 1279.8,860.5 1281,867.9 1283.6,884.3 1284,881.3 1285.8,864.4 1287,862.6 1287.3,862.2 1289.4,847.2 1290,852.7 1291.5,866.5 1293,868.5 1294.7,870.8 1296,863.8 1297.9,853.1 1299,853.7 1300.1,854.2 1302,869.9 1303.7,886.3 1305,877 1308,856.8 1308.6,853.2 1311,840.8 1311.8,836.6 1314,848.1 1314.4,850 1317,847 1317.1,846.8 1319.9,861.8 1320,862 1322.5,866.9 1323,865.6 1324.2,862.6 1326,868.6 1326.7,870.8 1328.4,862.2 1329,865 1331,875.9 1332,882.6 1334.2,897.2 1335,896.8 1337.4,895.6 1338,893.6 1340.6,884.9 1341,883.9 1344,876.4 1344.9,874.2 1347,883.8 1350,894.7 1351.3,899.1 1353,895.7 1354.5,891.4 1356,889.3 1359,885.4 1359.2,885.2 1362,886 1363,886.3 1365,873.7 1365.6,870.2 1368,863 1369.4,858.9 1371,864 1372.6,869.1 1374,874.3 1375.8,880.9 1377,884.1 1379,890.1 1380,860.5 1381.1,821.3 1383,805.3 1383.3,803.1 1385.8,797.7 1386,800.8 1388.2,839.5 1389,843.6 1389.7,847 1391.8,839.5 1392,840.6 1393.9,851.3 1395,856.6 1398,874.9 1398.2,875.9 1401,849.9 1401.4,845.6 1403.5,838.9 1404,840.6 1405.7,847.2 1407,817.4 1408.6,779 1410,721.6 1411.5,672.2 1413,599 1414.9,506.3 1416,521 1418.1,549.2 1419,525.1 1421.3,463.4 1422,452.5 1423,437 1424.5,475.6 1425,500.7 1426.7,586.4 1428,633.6 1429.3,680.7 1431,621.3 1432,586.4 1434,494.1 1434.1,489.5 1436.7,421.7 1437,428.5 1438.4,460.5 1439.5,586.4 1440,596.2 1442.2,657.9 1443,647.4 1446,608 1446.1,606.7 1448.9,628.2 1449,631.8 1452,739.8 1455,710.8 1456.7,700 1458,712.1 1459.4,725.8 1461,781.8 1461.8,805.1 1464,812.3 1465.7,818.1 1467,832.3 1468.4,847.1 1470,828.2 1473,783.1 1476,738.8 1476.3,735 1478.2,754.4 1479,769.4 1482,826.8 1482.9,844.2 1485,843.5 1486,843.2 1488,777.6 1488,777.6 1491,768.1 1491.1,767.7 1493.9,824.5 1494,825.6 1497,849.9 1499.7,874.6 1500,873 1503,852.4 1505.6,837.2 1506,836.7 1509,832.9 1510.3,831.2 1512,840.9 1513.4,848.9 1515,851 1518,855.5 1519.3,857.4 1521,862.4 1524,871.1 1527,879.9 1527.1,880.1 1530,875 1533,869.8 1533,869.7 1536,857.4 1537.7,851.4 1539,851.1 1542,850.5 1542.7,850.3 1545,853.4 1547.8,857.2 1548,857.9 1551,871 1553.3,881.1 1554,872.3 1557,827.7 1558.4,810 1560,801.1 1561.1,794.9 1563,812.6 1565,831.8 1566,828.2 1569,814.9 1572,802.2 1572.1,801.9 1575,792.5 1575.2,791.9 1578,794.2 1578.7,794.8 1581,786.1 1581.1,785.8 1583.8,776.7 1584,774.1 1586.2,744.5 1587,749.5 1590,767 1591.6,776.5 1593,804.4 1593.6,815.3 1596,821.6 1597.5,824.7 1597.8,826.6 1599,838.7 1599.8,847.4 1600.3,842 1602,834.3 1603.9,825.5 1605,829.6 1606.4,834.6 1608,831.8 1608.5,830.9 1611,847.4 1613.5,802.6 1614,800.9 1616.3,791.5 1617,794.7 1619.2,822.9 1619.9,820.4 1620,820.4 1622.7,815.7 1623,815.7 1624.9,815.4 1626,817.2 1626.3,817.6 1628.8,744.8 1629,742 1631.3,704.7 1632,709.9 1634.1,724.9 1635,732.3 1637,748.8 1638,756.5 1639.4,767.2 1641,775.2 1643,785.9 1644,791.2 1646.6,805.3 1647,809.3 1650,839.7 1650.1,840.6 1653,837.2 1653.7,836.5 1656,822.5 1658.3,810.4 1659,812.2 1662,820 1662.6,821.4 1665,809.9 1666.1,804.6 1667.9,819.5 1668,816.8 1669.7,776.6 1671,790.6 1671.4,795.2 1673.9,789.6 1674,790.3 1676.8,823.4 1677,823.9 1680,831.1 1680.3,831.8 1683,847.8 1683.2,848.7 1686,835.2 1689,822.2 1689.2,821.2 1692,824.1 1692.8,824.9 1695,833 1696.3,837.9 1698,821.1 1700.6,789.4 1701,785.2 1704,753.4 1704.2,751.7 1707,777.1 1708.8,793 1710,776.3 1711.3,759.1 1713,764 1715.9,772.1 1716,773.6 1719,817.9 1719.4,824.8 1722,805.8 1723,798.4 1725,790.9 1726.6,785.1 1728,801 1730.8,833.2 1731,831.2 1733.7,800.1 1734,800.9 1737,808 1737.2,808.5 1740,847.3 1740.1,848.1 1743,845.6 1743.6,845 1744.5,826.2 1745.7,808 1746,808.4 1747,809.7 1748.3,810.3 1749,810.9 1750.5,812.2 1752,825.6 1752.3,828.3 1753.2,858.7 1755,862.5 1756.8,866.2 1758,864.1 1760.3,859.5 1761,856.7 1763.9,844.2 1764,844.9 1767,864.2 1769.2,880.3 1770,881.4 1773,886.5 1774.6,888.7 1776,890.5 1779,894.2 1779.9,895.2 1782,894 1783.4,893.2 1785,889.6 1785.9,887.5 1786,887.2 L1786,914.5 Z" fill="#f5fabd"/>
<path d="M213,914.5 L213,795.2 214.6,787.9 216,762.9 219,708.1 219.4,701 221,697.8 222,701.3 222.6,703.5 224.2,740.3 225,755.8 225.8,771.3 228,779.1 228,779.3 230.6,766.2 231,766.4 233.8,768.4 234,767.8 236,761.1 237,767.4 238,773.7 240,732.6 240.2,728.6 242.8,760.9 243,758.5 245,738.4 246,765.5 246.6,781.2 248.8,736.1 249,732.4 250.8,691.9 252,723 253,748 255,747 255.6,746.8 257.2,803 258,797.4 259.4,786.4 261,783.2 261.6,782 263.6,790.6 264,790 266.8,786.3 267,785.9 269,782.8 270,787.5 270.6,790.8 272.5,770.8 273,776.4 275.4,804.9 276,807.1 278.6,818.7 279,821.1 280.8,832 282,828.2 282.8,825.9 285,845.8 287.6,855.5 288,857.9 289.8,873 291,874.6 292,875.2 294,881.2 294.6,882.3 297,880.3 297.8,879.7 300,877.3 302,875.3 303,877.8 304.8,882.2 306,883.9 308,888.2 309,887.1 310.6,885.3 312,884.7 313.8,884.1 315,886.7 317,892.5 318,894.5 320.8,899.9 321,900 324,901.6 325,901.8 327,902.6 328.2,902.8 330,892.3 330.4,890.3 333,889.4 335.6,897.9 336,896.1 337.8,887.4 339,865.8 341,826.7 342,822.8 343.2,817.9 345,819.3 345.2,819.4 347.4,892.9 348,890.1 350.6,867.3 351,866.1 353.2,857.5 354,855.8 355.4,852.9 357,857.8 358,860.7 360,861.3 361.8,861.9 363,856.8 366,844.2 366.6,841.7 369,844.9 369.8,845.9 372,853.8 373,857.4 375,857.8 376.2,858 378,860.8 379.4,862.6 381,863.3 384,864.6 384.2,864.7 387,870.7 389,875.1 390,877.6 393,885 393.2,885.2 395.4,841.5 396,839.4 398,832.2 399,827 399.2,825.8 400.8,842.7 402,825 403.2,806.6 405,801.7 405.8,802.5 408,792.2 409.6,799.3 411,794.6 412.8,788.6 414,771.8 416,744.2 417,752.1 417.6,756.8 419.8,757.2 420,760.3 422.4,808.7 423,806.7 425.6,793.3 426,789.3 428.2,767.5 429,768.5 431,770.8 432,775.6 433.6,783.5 435,784.2 436.8,785.1 438,790.6 440,802.7 441,809.6 443.2,827.8 444,832.9 446.4,857.7 447,847.4 448,830.6 450,829.3 450.6,829 452.8,822 453,824.3 455,847.1 456,847.8 457.6,849.1 459,851.9 460.8,855.4 462,858.8 465,874.9 465.6,876.2 468,877.3 470.4,878.3 471,877.8 474,875.2 475.8,873.7 477,875.2 480,881.3 483,885.5 486,889.9 486.4,890.2 489,889.6 491.2,889.1 492,889.7 495,896 496,896.8 498,890.9 501,882.7 503,881.3 504,882.3 505.6,882.8 507,869 507.8,866.4 510,866.1 510.4,866 513,864.8 513,864.9 514.6,869.4 516,867 516.8,866.8 519,868.5 520,867.5 522,871.5 523.2,877.6 525,887.2 526.4,889.2 528,887.7 530.6,879.7 531,877.6 534,854 534.4,852 537,853.8 537.6,854.2 540,860.4 540.8,862.5 543,863.6 543.4,863.7 546,862.3 547.2,861.7 549,863.2 552,869.3 555,854.1 555.2,853.1 558,846.3 558.4,845.3 561,852 561.6,853.5 564,864.7 564.8,868.5 567,880.7 569.6,895.3 570,894.3 572.8,880.9 573,880.8 576,880 577.6,879.5 579,878.2 582,875.3 582.4,874.9 585,881.5 585.6,883.1 588,882 591,881.3 592,881.1 594,879.9 595.2,879.2 597,867.8 598.4,858.8 599,858.9 600,858.6 601,861.6 603,878.1 604,892.8 606,896.1 607,897.8 609,898.7 611,899.5 612,895.6 614,891.5 615,891.5 618,891.6 620,895.1 621,895.4 624,896.3 625,896.6 627,889.3 628,885.6 630,880.7 631,878.2 633,881.9 634,883.8 636,891.1 637,894.8 639,896.2 642,900.1 645,899.1 648,898.1 651,899.4 654,901.4 655,901.8 657,896.5 660,892.3 663,893.1 665,896.8 666,896.4 669,895.3 670,894.9 672,896.8 673,897.7 675,897.1 678,896.3 679,896.1 681,896.8 683,897.6 684,898.3 687,902.7 689,905.6 690,905.5 693,904.8 695,904.4 696,904.4 699,904.5 700,904.6 702,903.8 704,903.1 705,903 708,902.7 709,902.6 711,904.2 714,904.5 717,904.9 720,905.5 723,906.2 725,906.4 726,906.7 729,907.7 732,908.9 733,909.1 735,906.6 738,904.8 741,905.3 742,905.5 744,906.3 745,906.7 747,904.7 748,904 750,903.9 751,903.8 753,903 755,902.2 756,902 759,901.4 761,904.6 762,904.6 765,904.6 768,909.4 771,907.4 772,906.7 774,907 776,907.3 777,909.6 778,911.2 780,911.1 783,910.8 786,910.4 789,909.9 791,909.5 792,910 795,912.2 798,912.3 801,912.4 804,912.5 805,912.6 807,911.8 810,910.1 812,909 813,906.9 816,898.3 819,886.2 820,882.7 822,883.7 823,884.2 825,885.3 828,887 831,889.2 832,889.9 834,889.4 837,888.6 840,894.2 843,900.5 844,902.1 846,899.6 849,895.8 851,893.2 852,894.5 855,898.3 857,900.8 858,901.7 861,904.9 864,908.2 867,903.7 869,900.6 870,893.6 873,870.1 874,863.6 876,863 877,862.8 879,867.9 882,880 883,883.9 885,885.9 886,886.9 888,885.8 889,885.2 891,889 893,893.3 894,890.7 897,883.2 899,878.4 900,881.8 903,891.5 904,894.6 906,896.9 909,900.4 912,900.4 913,900.8 915,904.5 916,905.4 918,868.8 921,869.5 923,869.9 924,889.5 924.6,903.9 927,904.7 929,904.7 930,905.3 933,907.8 935,904.7 936,904.6 939,904.1 942,905.9 944,907.2 945,907.5 948,909 949,909.4 951,908.9 954,906.6 957,903.3 960,889 963,872.3 966,880.9 969,885.2 972,893.9 973,896.5 975,898.3 977,899.8 978,901.1 981,903.4 984,905.6 987,907.1 989,907.8 990,907.7 993,908.1 994.3,908.2 995,908.3 996,908.7 998.5,909.9 999,909.8 1002,908.8 1005,907.7 1006,907.4 1008,907.8 1010.3,908.2 1011,908.6 1014,910 1015.6,911.1 1017,910.6 1020,909.6 1022,908.9 1023,909.3 1026,910.5 1028.4,911.6 1029,911.4 1032,910.5 1033.7,909.9 1035,908.9 1038,906.5 1038.6,906 1041,908.8 1043.3,911.6 1044,911.1 1047,908 1050,905.1 1050.8,904.3 1053,903.5 1054,903.3 1056,903.4 1058.3,903.7 1059,903.4 1062,901.5 1063.6,900.6 1065,899.4 1065.7,898.3 1067.9,895.1 1068,894.5 1071,878.1 1071.1,877.8 1073.6,875.6 1074,876.5 1076.4,882.3 1077,882.7 1080,885 1081.7,886.3 1083,884.7 1084.9,882.3 1086,882 1088.6,881.5 1089,883.2 1090.3,889.2 1092,888.4 1094.1,887.4 1095,888.3 1096.7,890.4 1098,891.8 1100.9,895 1101,894.9 1104,888.3 1105.2,885.7 1107,875.9 1109.5,859.2 1110,859.6 1112.7,861.8 1113,862.9 1115.9,872.8 1116,873 1119,876.4 1119.1,876.5 1122,873.4 1125,870.6 1125.5,870.2 1128,870.2 1128.7,870.2 1131,872.9 1131.9,873.9 1134,874.9 1135.1,875.3 1137,873 1139.3,870.2 1140,870.2 1141.9,870.2 1143,864.7 1143.6,861.7 1146,867.5 1146.8,869.5 1148.9,870.9 1149,871.3 1151.1,885.7 1152,885.5 1154.3,885 1155,883.5 1157.5,878.4 1158,878.7 1160.7,880.2 1161,880.8 1164,887.5 1164.9,889.2 1167,866.8 1169.2,846.8 1170,846.4 1173,836.6 1173.9,833.8 1176,835.9 1176.7,836.2 1179,832.4 1179.9,831.2 1182,738.5 1184.3,630.4 1185,608.5 1188,530 1190.2,536.3 1191,526.7 1192.7,506.5 1194,550.9 1194.2,557.7 1197,600.4 1197.3,604.5 1199.5,740.6 1200,747.3 1201.5,774.5 1203,760.6 1205,764.2 1206,764.5 1207.6,765 1209,774.5 1210,781.1 1212,779.8 1212.9,784.3 1215,795.4 1216.1,805.5 1218,831.3 1219.3,848.1 1221,851.7 1223.6,857.3 1224,857.9 1227,863.1 1227.9,864.7 1230,873.2 1233,884.4 1233.2,885 1236,884 1237.1,883 1237.5,883 1239,883.6 1240,883.9 1240.3,884.6 1242,886.6 1244.6,891.3 1245,891.5 1247.8,894 1248,893.7 1249.9,891.2 1251,885.2 1252.1,873.4 1254,872.5 1254.2,872.5 1255.9,863.4 1257,864.9 1257.4,865.5 1260,865.9 1260.6,865.9 1261.7,861.6 1262.7,857.5 1263,857.3 1264.2,856.4 1266,856.4 1267.3,856.3 1268.3,861.6 1269,864.4 1269.1,864.8 1271.3,868.7 1272,868.6 1274.5,868.6 1275,869.5 1276.6,873.4 1278,874.2 1279.8,875.2 1281,880.7 1283.6,892.6 1284,890.8 1285.8,879 1287,877.9 1287.3,877.7 1289.4,868.9 1290,872.1 1291.5,880.2 1293,881.4 1294.7,882.7 1296,878.6 1297.9,872.4 1299,872.7 1300.1,873 1302,882.2 1303.7,894 1305,887.2 1308,873.3 1308.6,871.2 1311,863.9 1311.8,861.5 1314,868.2 1314.4,869.3 1317,867.5 1317.1,867.4 1319.9,876.2 1320,876.3 1322.5,879.9 1323,879.1 1324.2,877.4 1326,881.5 1326.7,882.7 1328.4,877.7 1329,879.4 1331,886.5 1332,891.3 1334.2,901.9 1335,901.7 1337.4,901 1338,899.8 1340.6,894.7 1341,894.1 1344,889.7 1344.9,888.4 1347,894.1 1350,900.7 1351.3,903.3 1353,901.3 1354.5,897.7 1356,896.2 1359,893.4 1359.2,893.3 1362,893.8 1363,894 1365,886.6 1365.6,884.5 1368,880.4 1369.4,877.9 1371,880.9 1372.6,883.9 1374,886.9 1375.8,890.8 1377,892.7 1379,896.8 1380,879.4 1381.1,851.7 1383,842.4 1383.3,841 1385.8,837.9 1386,839.7 1388.2,862.4 1389,864.8 1389.7,866.8 1391.8,862.4 1392,863 1393.9,869.3 1395,872.4 1398,885.9 1398.2,886.5 1401,867.1 1401.4,863.7 1403.5,855.5 1404,855.7 1405.7,856.9 1407,829.3 1408.6,792.4 1410,739.9 1411.5,702.2 1413,646.4 1414.9,575.7 1416,586.9 1418.1,608.4 1419,590 1421.3,542.9 1422,534.6 1423,522.7 1424.5,552.2 1425,571.4 1426.7,636.7 1428,672.7 1429.3,708.7 1431,663.4 1432,636.7 1434,566.4 1434.1,562.8 1436.7,511.1 1437,516.3 1438.4,540.7 1439.5,636.7 1440,644.2 1442.2,704.5 1443,698.2 1446,674.5 1446.1,673.7 1448.9,686.6 1449,688.8 1452,753.8 1455,736.3 1456.7,733.4 1458,743.7 1459.4,755.7 1461,803.8 1461.8,821.1 1464,829.7 1465.7,836.5 1467,849.4 1468.4,862.5 1470,852.2 1473,822.1 1476,793.3 1476.3,790.8 1478.2,803.5 1479,813.2 1482,850.7 1482.9,862.1 1485,861.6 1486,861.4 1488,818.6 1488,818.6 1491,812.4 1491.1,812.2 1493.9,849.2 1494,849.9 1497,866.3 1499.7,884.8 1500,883.7 1503,868.3 1505.6,858.3 1506,858 1509,855.5 1510.3,854.4 1512,860.8 1513.4,866 1515,867.4 1518,870.5 1519.3,872 1521,875.7 1524,882.2 1527,888.7 1527.1,888.9 1530,885.1 1533,881.3 1533,881.2 1536,872.1 1537.7,868.2 1539,868 1542,867.6 1542.7,867.5 1545,869.5 1547.8,872 1548,872.4 1551,882.2 1553.3,889.7 1554,883.9 1557,850.4 1558.4,838.9 1560,833.1 1561.1,829.1 1563,840.6 1565,853.1 1566,850.8 1569,840.6 1572,831.2 1572.1,831 1575,824.2 1575.2,823.8 1578,825.4 1578.7,825.8 1581,820.1 1581.1,819.9 1583.8,814 1584,812.3 1586.2,793.1 1587,796.3 1590,807.7 1591.6,813.9 1593,833.9 1593.6,841 1596,846.2 1597.5,848.2 1597.8,849.4 1599,858.3 1599.8,864.8 1600.3,861.3 1602,856.3 1603.9,850.6 1605,853.2 1606.4,856.5 1608,854.7 1608.5,854.1 1611,864.9 1613.5,832 1614,831.3 1616.3,826.1 1617,827.9 1619.2,843 1619.9,839.5 1620,839.6 1622.7,833.2 1623,833.1 1624.9,832.8 1626,835.2 1626.3,835.8 1628.8,796.3 1629,794.7 1631.3,766.6 1632,770 1634.1,779.7 1635,784.5 1637,795.2 1638,800.2 1639.4,807.2 1641,812.4 1643,819.5 1644,823.4 1646.6,834.2 1647,836.8 1650,859.3 1650.1,860 1653,857.4 1653.7,857 1656,846.6 1658.3,838.7 1659,839.9 1662,844.9 1662.6,845.8 1665,838.4 1666.1,835 1667.9,844.6 1668,842.9 1669.7,816.8 1671,825.9 1671.4,828.9 1673.9,825.2 1674,825.7 1676.8,847.4 1677,847.7 1680,853.1 1680.3,853.5 1683,865.4 1683.2,866 1686,856.3 1689,847.9 1689.2,847.3 1692,849.2 1692.8,849.7 1695,855 1696.3,858.1 1698,847.2 1700.6,822.8 1701,820 1704,799.5 1704.2,798.4 1707,814.8 1708.8,825.1 1710,814.3 1711.3,803.2 1713,806.4 1715.9,811.6 1716,812.6 1719,843.5 1719.4,848.6 1722,836.3 1723,831.5 1725,826.7 1726.6,822.9 1728,833.2 1730.8,854.8 1731,853.5 1733.7,833.4 1734,833.9 1737,838.5 1737.2,838.9 1740,865.3 1740.1,865.8 1743,864.1 1743.6,863.8 1744.5,851.6 1745.7,839.9 1746,840.1 1747,840.9 1748.3,841.3 1749,841.7 1750.5,842.6 1752,851.2 1752.3,853 1753.2,873.6 1755,876.3 1756.8,879.1 1758,877.9 1760.3,874.8 1761,872.9 1763.9,864.9 1764,865.4 1767,877.8 1769.2,889.5 1770,890.2 1773,894.2 1774.6,895.6 1776,896.9 1779,899.7 1779.9,900.3 1782,899.6 1783.4,899.1 1785,896.8 1785.9,895.4 1786,895.2 L1786,914.5 Z" fill="#fef3b7"/>
<path d="M213,914.5 L213,809.4 214.6,803 216,782.7 219,737.5 219.4,731.8 221,729.3 222,732.2 222.6,734 224.2,764.1 225,776.8 225.8,789.4 228,795.8 228,796 230.6,785 231,785.3 233.8,787.1 234,786.5 236,781.2 237,786.4 238,791.5 240,758.5 240.2,755.2 242.8,781.5 243,779.6 245,763.5 246,785.8 246.6,798.5 248.8,762.3 249,759.3 250.8,726.9 252,751.9 253,772.1 255,771.5 255.6,771.3 257.2,817.8 258,813.4 259.4,803.8 261,801.3 261.6,800.4 263.6,807.4 264,806.9 266.8,804 267,803.8 269,801.4 270,805.2 270.6,808.1 272.5,794.1 273,798.8 275.4,822.7 276,824.6 278.6,835.4 279,837.6 280.8,847.3 282,845.8 282.8,844.9 285,860 287.6,868.2 288,869.4 289.8,881.5 291,882.8 292,883.2 294,888.2 294.6,888.7 297,887.8 297.8,887.4 300,886.3 302,885.3 303,886.6 304.8,888.7 306,889.7 308,893.2 309,892.6 310.6,891.7 312,891.5 313.8,891.1 315,892.4 317,896.5 318,898.1 320.8,902.5 321,902.5 324,903.9 325,904 327,904.7 328.2,904.8 330,897.8 330.4,896.8 333,896.4 335.6,900.6 336,899.6 337.8,894.3 339,882.7 341,861 342,858.4 343.2,855 345,854.8 345.2,854.8 347.4,895.9 348,894.2 350.6,873.7 351,873 353.2,866.5 354,865.4 355.4,863.7 357,866.6 358,868.3 360,868.7 361.8,869 363,866 366,858.4 366.6,856.9 369,858.8 369.8,859.4 372,864.1 373,866.2 375,866.4 376.2,866.5 378,868.4 379.4,869.5 381,870.1 384,871.2 384.2,871.2 387,876.5 389,880.3 390,882.4 393,888.8 393.2,888.9 395.4,851 396,849.5 398,844.2 399,840.3 399.2,839.4 400.8,850.9 402,835.2 403.2,818.7 405,814.1 405.8,814.8 408,806.6 409.6,812 411,808.5 412.8,804.1 414,791.9 416,771.9 417,777.7 417.6,781.2 419.8,781.7 420,783.9 422.4,820.5 423,819.1 425.6,806.8 426,804 428.2,788.6 429,789.4 431,791.1 432,794.6 433.6,800.1 435,800.7 436.8,801.4 438,805.2 440,815.4 441,821.2 443.2,838 444,841.4 446.4,863.3 447,856.1 448,844.4 450,843.2 450.6,842.9 452.8,837.7 453,839.3 455,854.8 456,855.2 457.6,855.9 459,857.7 460.8,859.8 462,862.4 465,877.6 465.6,878.4 468,879.2 470.4,880.1 471,879.7 474,877.8 475.8,876.7 477,877.8 480,882.9 483,886.8 486,891.1 486.4,891.3 489,890.9 491.2,890.5 492,890.9 495,897 496,897.6 498,891.9 501,884.2 503,883.6 504,883.8 505.6,884.2 507,871.5 507.8,869.4 510,869.1 510.4,869 513,868 513,868.1 514.6,871.7 516,871.5 516.8,871.4 519,872.1 520,870.4 522,873.2 523.2,879.1 525,888.8 526.4,890.2 528,889.1 530.6,881.1 531,879.5 534,858.7 534.4,857.3 537,858.5 537.6,858.8 540,863.3 540.8,864.8 543,865.5 543.4,865.7 546,864.6 547.2,864.1 549,865.2 552,871 555,859.8 555.2,859 558,853.9 558.4,853.2 561,858.1 561.6,859.2 564,867.4 564.8,870.2 567,881.9 569.6,896 570,895.3 572.8,882.9 573,882.9 576,882.2 577.6,881.9 579,880.9 582,878.9 582.4,878.6 585,883.2 585.6,884.3 588,883.2 591,882.7 592,882.5 594,881.7 595.2,881.2 597,873.4 598.4,867.4 599,867.4 600,867.2 601,869.3 603,880.4 604,893.7 606,896.9 607,898.5 609,899.3 611,900.1 612,896.6 614,893.8 615,893.9 618,894 620,896.3 621,896.5 624,897.2 625,897.4 627,892.6 628,890.2 630,886.9 631,885.3 633,887.8 634,889 636,893.9 637,896.3 639,897.3 642,900.8 645,900.2 648,899.6 651,900.4 654,902.2 655,902.5 657,897.7 660,895 663,895.5 665,898 666,897.7 669,897 670,896.8 672,898.1 673,898.7 675,898.4 678,898 679,897.8 681,898.4 683,898.9 684,899.4 687,903.5 689,906.3 690,906.2 693,905.5 695,905.2 696,905.2 699,905.3 700,905.4 702,904.9 704,904.5 705,904.5 708,904.3 709,904.3 711,905.3 714,905.5 717,905.8 720,906.3 723,907 725,907.1 726,907.5 729,908.4 732,909.5 733,909.6 735,907.4 738,906.4 741,906.7 742,906.8 744,907.3 745,907.6 747,905.8 748,905.3 750,905.2 751,905.2 753,904.8 755,904.3 756,904.2 759,904 761,905.8 762,905.8 765,905.8 768,910.1 771,908.9 772,908.5 774,908.7 776,908.9 777,910.7 778,911.7 780,911.6 783,911.5 786,911.2 789,910.9 791,910.6 792,910.9 795,912.5 798,912.6 801,912.6 804,912.8 805,912.8 807,912.2 810,910.4 812,909.4 813,907.7 816,899.3 819,888.4 820,885.6 822,886.4 823,886.8 825,887.8 828,889.2 831,891 832,891.6 834,891.2 837,890.6 840,895.7 843,901.7 844,903 846,901 849,897.9 851,895.9 852,897 855,900 857,902.1 858,902.8 861,905.7 864,908.7 867,904.5 869,901.8 870,896.2 873,875.9 874,871 876,870.9 877,870.9 879,875.2 882,884.8 883,887.9 885,889.6 886,890.4 888,889.8 889,889.5 891,892.6 893,896.5 894,894.7 897,889.9 899,886.9 900,889.3 903,896.2 904,898.4 906,900.3 909,903.2 912,903.5 913,904 915,907.3 916,907.6 918,872.9 921,873.6 923,874.1 924,893.2 924.6,908 927,908.6 929,908.4 930,908.6 933,910.2 935,908.9 936,908.8 939,908.6 942,909.4 944,910 945,910.1 948,911.1 949,911.2 951,911.1 954,908.9 957,905.7 960,893.7 963,878.9 966,887 969,891.5 972,898.4 973,900.3 975,902.3 977,903.8 978,905 981,906.6 984,908.2 987,909.4 989,909.7 990,909.6 993,910 994.3,910 995,910 996,910.4 998.5,911.2 999,911.1 1002,910.6 1005,910.1 1006,909.9 1008,910.1 1010.3,910.3 1011,910.5 1014,911.2 1015.6,912 1017,911.8 1020,911.2 1022,910.9 1023,911.1 1026,911.7 1028.4,912.4 1029,912.3 1032,911.8 1033.7,911.5 1035,911 1038,909.7 1038.6,909.5 1041,910.9 1043.3,912.3 1044,912.1 1047,909.7 1050,907.5 1050.8,906.9 1053,906.4 1054,906.2 1056,906.3 1058.3,906.4 1059,906.2 1062,904.7 1063.6,904 1065,903.4 1065.7,902.1 1067.9,898.8 1068,898.4 1071,885.1 1071.1,884.9 1073.6,883.4 1074,884 1076.4,887.8 1077,888.1 1080,889.7 1081.7,890.5 1083,889.5 1084.9,887.8 1086,887.7 1088.6,887.3 1089,888.5 1090.3,893 1092,892.4 1094.1,891.8 1095,892.4 1096.7,894 1098,895.2 1100.9,897.9 1101,897.8 1104,892.3 1105.2,890 1107,883.5 1109.5,870.7 1110,870.9 1112.7,872.4 1113,873.1 1115.9,879.7 1116,879.8 1119,882.1 1119.1,882.2 1122,879.9 1125,878.1 1125.5,877.8 1128,877.8 1128.7,877.8 1131,879.6 1131.9,880.2 1134,880.9 1135.1,881.2 1137,879.7 1139.3,877.8 1140,877.8 1141.9,877.8 1143,874.1 1143.6,872.1 1146,876 1146.8,877.3 1148.9,878.3 1149,878.5 1151.1,890 1152,889.9 1154.3,889.6 1155,888.5 1157.5,885.1 1158,885.3 1160.7,886.4 1161,886.8 1164,891.9 1164.9,893 1167,874 1169.2,858.1 1170,857.9 1173,852.4 1173.9,850.9 1176,852.1 1176.7,851.6 1179,848.2 1179.9,847 1182,771.5 1184.3,682.4 1185,675.4 1188,660.2 1190.2,661.4 1191,659.6 1192.7,655.7 1194,664.3 1194.2,665.6 1197,676.3 1197.3,676.7 1199.5,777 1200,777.7 1201.5,799.8 1203,793.9 1205,796.2 1206,796.6 1207.6,797.2 1209,802.1 1210,805.6 1212,808.8 1212.9,810.3 1215,813.8 1216.1,822.7 1218,845 1219.3,859.3 1221,862.8 1223.6,867.9 1224,868.4 1227,873.3 1227.9,874.7 1230,881.8 1233,891.1 1233.2,891.4 1236,891.4 1237.1,890.8 1237.5,890.8 1239,891.1 1240,891.3 1240.3,891.7 1242,892.9 1244.6,896.6 1245,896.7 1247.8,898.6 1248,898.4 1249.9,896.4 1251,893 1252.1,882.6 1254,882 1254.2,882 1255.9,876.4 1257,876.7 1257.4,876.8 1260,876.8 1260.6,876.8 1261.7,873.3 1262.7,869.9 1263,869.7 1264.2,869 1266,868.9 1267.3,868.9 1268.3,873.3 1269,875.6 1269.1,875.9 1271.3,879 1272,879 1274.5,879.2 1275,879.6 1276.6,882.6 1278,883.3 1279.8,884.1 1281,888.3 1283.6,897.5 1284,896.5 1285.8,887.7 1287,887.1 1287.3,887 1289.4,881.9 1290,883.8 1291.5,888.4 1293,889.1 1294.7,889.9 1296,887.5 1297.9,883.9 1299,884.1 1300.1,884.3 1302,889.6 1303.7,898.6 1305,893.4 1308,883.2 1308.6,882 1311,877.8 1311.8,876.3 1314,880.2 1314.4,880.9 1317,879.8 1317.1,879.8 1319.9,884.9 1320,884.9 1322.5,887.7 1323,887.3 1324.2,886.3 1326,889.2 1326.7,889.9 1328.4,887 1329,887.9 1331,892.8 1332,896.5 1334.2,904.8 1335,904.6 1337.4,904.2 1338,903.5 1340.6,900.6 1341,900.3 1344,897.7 1344.9,897 1347,900.2 1350,904.3 1351.3,905.9 1353,904.7 1354.5,901.5 1356,900.3 1359,898.3 1359.2,898.2 1362,898.5 1363,898.6 1365,894.3 1365.6,893.2 1368,890.7 1369.4,889.4 1371,891.1 1372.6,892.8 1374,894.5 1375.8,896.8 1377,897.9 1379,900.8 1380,890.7 1381.1,869.9 1383,864.6 1383.3,863.8 1385.8,862 1386,863 1388.2,876.1 1389,877.5 1389.7,878.7 1391.8,876.1 1392,876.5 1393.9,880.1 1395,881.9 1398,892.5 1398.2,892.8 1401,878.4 1401.4,876.1 1403.5,868.9 1404,868.3 1405.7,866 1407,841.4 1408.6,807.3 1410,768.7 1411.5,763.8 1413,756.4 1414.9,747.1 1416,748.5 1418.1,751.4 1419,748.9 1421.3,742.7 1422,741.6 1423,740.1 1424.5,744 1425,746.5 1426.7,755.1 1428,759.9 1429.3,764.6 1431,758.6 1432,755.1 1434,745.8 1434.1,745.4 1436.7,738.5 1437,739.2 1438.4,742.4 1439.5,755.1 1440,756.1 1442.2,760.4 1443,759.1 1446,754.3 1446.1,754.1 1448.9,756.8 1449,757.2 1452,770.6 1455,767 1456.7,773.2 1458,781.2 1459.4,790.7 1461,829.4 1461.8,839.6 1464,849.7 1465.7,857.4 1467,868.6 1468.4,879.7 1470,878.6 1473,865.1 1476,853.2 1476.3,852.1 1478.2,857.4 1479,861.5 1482,877 1482.9,881.7 1485,881.5 1486,881.5 1488,863.8 1488,863.8 1491,861.3 1491.1,861.2 1493.9,876.5 1494,876.8 1497,884.5 1499.7,896 1500,895.5 1503,885.7 1505.6,881.7 1506,881.5 1509,880.5 1510.3,880.1 1512,882.7 1513.4,884.8 1515,885.4 1518,887.2 1519.3,888.1 1521,890.5 1524,894.5 1527,898.6 1527.1,898.7 1530,896.3 1533,894 1533,893.9 1536,888.4 1537.7,886.8 1539,886.7 1542,886.6 1542.7,886.6 1545,887.4 1547.8,888.4 1548,888.6 1551,894.6 1553.3,899.2 1554,896.9 1557,875.7 1558.4,871 1560,868.7 1561.1,867.1 1563,871.8 1565,876.8 1566,875.9 1569,869.2 1572,863.4 1572.1,863.3 1575,859.5 1575.2,859.4 1578,860 1578.7,860.2 1581,857.9 1581.1,857.9 1583.8,855.5 1584,854.9 1586.2,847.2 1587,848.5 1590,853.1 1591.6,855.6 1593,866.8 1593.6,869.6 1596,873.5 1597.5,874.3 1597.8,874.8 1599,880.3 1599.8,884.2 1600.3,882.8 1602,880.9 1603.9,878.6 1605,879.7 1606.4,881 1608,880.3 1608.5,880 1611,884.3 1613.5,864.8 1614,865.2 1616.3,864.7 1617,864.9 1619.2,865.5 1619.9,861 1620,861 1622.7,852.6 1623,852.6 1624.9,852.2 1626,855.3 1626.3,856.1 1628.8,853.9 1629,853.7 1631.3,835.9 1632,837.2 1634.1,841.1 1635,843 1637,847.2 1638,849.2 1639.4,852 1641,854 1643,857.2 1644,859.6 1646.6,866.7 1647,867.7 1650,881.4 1650.1,881.7 1653,880.1 1653.7,880 1656,873.6 1658.3,870.4 1659,870.9 1662,872.9 1662.6,873.3 1665,870.4 1666.1,869.1 1667.9,872.8 1668,872.1 1669.7,862 1671,865.6 1671.4,866.7 1673.9,865.3 1674,865.5 1676.8,874.4 1677,874.5 1680,877.8 1680.3,878 1683,885.3 1683.2,885.5 1686,880.1 1689,876.9 1689.2,876.7 1692,877.4 1692.8,877.6 1695,879.7 1696.3,880.9 1698,876.7 1700.6,860.4 1701,859.3 1704,851.5 1704.2,851.1 1707,857.4 1708.8,861.4 1710,857.2 1711.3,853 1713,854.2 1715.9,856.3 1716,856.7 1719,872.4 1719.4,875.4 1722,870.7 1723,868.9 1725,867.1 1726.6,865.7 1728,869.6 1730.8,879.2 1731,878.7 1733.7,871.1 1734,871.2 1737,873 1737.2,873.2 1740,885.7 1740.1,885.7 1743,885.1 1743.6,885 1744.5,880.4 1745.7,875.9 1746,876 1747,876.4 1748.3,876.5 1749,876.7 1750.5,877 1752,880.3 1752.3,881 1753.2,890.4 1755,892 1756.8,893.7 1758,893.6 1760.3,892.1 1761,891.4 1763.9,888.4 1764,888.5 1767,893.2 1769.2,900 1770,900.3 1773,902.9 1774.6,903.4 1776,904.2 1779,906 1779.9,906.2 1782,905.9 1783.4,905.8 1785,904.9 1785.9,904.4 1786,904.3 L1786,914.5 Z" fill="#fed796"/>
<path d="M213,914.5 L213,831.4 214.6,826.5 216,810.4 219,774.9 219.4,770.4 221,768.5 222,770.8 222.6,772.3 224.2,796 225,806 225.8,816 228,821.2 228,821.2 230.6,812.7 231,812.9 233.8,814.4 234,814 236,809.9 237,814 238,818.1 240,792.2 240.2,789.7 242.8,810.3 243,808.8 245,796.3 246,813.8 246.6,823.8 248.8,795.5 249,793.2 250.8,768 252,787.6 253,803.4 255,803 255.6,802.9 257.2,839.2 258,835.8 259.4,828.3 261,826.4 261.6,825.7 263.6,831.2 264,830.8 266.8,828.7 267,828.5 269,826.7 270,829.7 270.6,831.7 272.5,820 273,823.5 275.4,841.5 276,842.8 278.6,850.6 279,852.2 280.8,859.5 282,857.9 282.8,857 285,868.9 287.6,875.7 288,876.7 289.8,886.8 291,887.9 292,888.2 294,892.4 294.6,892.8 297,892 297.8,891.7 300,890.7 302,889.8 303,890.9 304.8,892.7 306,893.5 308,896.4 309,895.9 310.6,895.1 312,894.9 313.8,894.6 315,895.7 317,899.1 318,900.5 320.8,904.2 321,904.3 324,905.4 325,905.5 327,906.1 328.2,906.2 330,900.1 330.4,899.3 333,898.9 335.6,902.5 336,901.6 337.8,896.9 339,886.7 341,867.6 342,865.2 343.2,862 345,861.7 345.2,861.7 347.4,898 348,896.5 350.6,878 351,877.4 353.2,871.5 354,870.6 355.4,869 357,871.6 358,873.1 360,873.3 361.8,873.6 363,870.8 366,864 366.6,862.6 369,864.2 369.8,864.8 372,868.9 373,870.8 375,870.9 376.2,871 378,872.7 379.4,873.7 381,874.2 384,875.1 384.2,875.1 387,879.9 389,883.3 390,885.2 393,891.2 393.2,891.4 395.4,857.6 396,856.4 398,852 399,848.7 399.2,848 400.8,858.4 402,844.8 403.2,830.6 405,827.1 405.8,827.6 408,820.6 409.6,825.2 411,822.2 412.8,818.4 414,807.8 416,790.4 417,795.5 417.6,798.5 419.8,799 420,800.9 422.4,832.7 423,831.5 425.6,820.9 426,818.4 428.2,805.1 429,805.7 431,807.3 432,810.2 433.6,815.1 435,815.6 436.8,816.2 438,819.6 440,828.4 441,833.3 443.2,847.6 444,850.4 446.4,869.4 447,863 448,852.5 450,851.2 450.6,850.8 452.8,845.9 453,847.2 455,860.9 456,861.2 457.6,861.6 459,863.1 460.8,864.8 462,867.1 465,880.7 465.6,881.4 468,882 470.4,882.7 471,882.4 474,880.6 475.8,879.5 477,880.6 480,885.3 483,888.9 486,892.9 486.4,893 489,892.6 491.2,892.3 492,892.7 495,898.3 496,898.8 498,893.6 501,886.5 503,885.9 504,886.1 505.6,886.4 507,874.6 507.8,872.7 510,872.4 510.4,872.3 513,871.4 513,871.5 514.6,874.8 516,874.6 516.8,874.5 519,875.1 520,873.6 522,876.2 523.2,881.6 525,890.6 526.4,891.9 528,890.9 530.6,883.4 531,882 534,862.6 534.4,861.3 537,862.4 537.6,862.7 540,866.9 540.8,868.3 543,869 543.4,869.1 546,868.1 547.2,867.6 549,868.6 552,874 555,863.5 555.2,862.8 558,858.1 558.4,857.4 561,861.9 561.6,862.9 564,870.5 564.8,873.1 567,884 569.6,897.1 570,896.4 572.8,884.7 573,884.7 576,884 577.6,883.6 579,882.7 582,880.7 582.4,880.4 585,884.8 585.6,885.8 588,884.7 591,884.1 592,883.9 594,883.1 595.2,882.6 597,875.1 598.4,869.2 599,869.2 600,869 601,871 603,881.7 604,894.5 606,897.6 607,899.1 609,899.9 611,900.7 612,897.3 614,894.6 615,894.7 618,894.8 620,897 621,897.2 624,897.8 625,898 627,893.4 628,891.1 630,888 631,886.5 633,888.9 634,890.1 636,894.7 637,897.1 639,898 642,901.3 645,900.8 648,900.2 651,901 654,902.7 655,903 657,898.4 660,895.8 663,896.3 665,898.7 666,898.4 669,897.8 670,897.6 672,898.8 673,899.4 675,899.1 678,898.8 679,898.6 681,899.2 683,899.7 684,900.1 687,904.1 689,906.7 690,906.7 693,906 695,905.7 696,905.8 699,905.9 700,905.9 702,905.6 704,905.2 705,905.1 708,905 709,905 711,905.9 714,906.1 717,906.4 720,906.8 723,907.5 725,907.6 726,907.9 729,908.8 732,909.9 733,910 735,907.9 738,907 741,907.3 742,907.4 744,907.8 745,908.1 747,906.4 748,905.9 750,905.9 751,905.9 753,905.5 755,905.1 756,905 759,904.8 761,906.5 762,906.5 765,906.7 768,910.5 771,909.6 772,909.3 774,909.5 776,909.7 777,911.3 778,912.1 780,912.1 783,912 786,911.8 789,911.6 791,911.4 792,911.6 795,912.9 798,912.9 801,912.9 804,913 805,913 807,912.5 810,910.9 812,910 813,908.4 816,900.8 819,891 820,888.5 822,889.3 823,889.7 825,890.6 828,892 831,893.7 832,894.2 834,893.9 837,893.5 840,898 843,903.3 844,904.5 846,902.7 849,900.1 851,898.4 852,899.3 855,902 857,903.8 858,904.5 861,907 864,909.6 867,906.1 869,903.7 870,899 873,882 874,877.9 876,877.9 877,877.9 879,881.6 882,889.7 883,892.3 885,893.8 886,894.5 888,894.1 889,893.9 891,896.5 893,899.7 894,898.3 897,894.4 899,892 900,894.1 903,899.7 904,901.5 906,903.1 909,905.5 912,905.8 913,906.2 915,908.9 916,909.2 918,906.8 921,907.9 923,908.6 924,909.5 924.6,909.9 927,910.4 929,910.3 930,910.5 933,911.5 935,910.6 936,910.6 939,910.5 942,911 944,911.4 945,911.5 948,912.1 949,912.2 951,912.1 954,910.2 957,907.4 960,896.9 963,883.8 966,891.1 969,895.4 972,901.5 973,903.2 975,905 977,906.5 978,907.5 981,908.6 984,909.8 987,910.7 989,910.9 990,910.9 993,911.1 994.3,911.2 995,911.2 996,911.4 998.5,912.1 999,912 1002,911.6 1005,911.2 1006,911.1 1008,911.2 1010.3,911.4 1011,911.5 1014,912 1015.6,912.6 1017,912.4 1020,912 1022,911.8 1023,911.9 1026,912.4 1028.4,912.9 1029,912.8 1032,912.4 1033.7,912.2 1035,911.8 1038,910.9 1038.6,910.7 1041,911.8 1043.3,912.9 1044,912.7 1047,910.8 1050,909.2 1050.8,908.7 1053,908.3 1054,908.2 1056,908.2 1058.3,908.3 1059,908.2 1062,907 1063.6,906.5 1065,906 1065.7,904.9 1067.9,902.3 1068,902 1071,891.5 1071.1,891.3 1073.6,890.2 1074,890.6 1076.4,893.6 1077,893.9 1080,895.1 1081.7,895.7 1083,894.9 1084.9,893.6 1086,893.5 1088.6,893.2 1089,894.1 1090.3,897.7 1092,897.2 1094.1,896.7 1095,897.2 1096.7,898.4 1098,899.4 1100.9,901.5 1101,901.5 1104,897.1 1105.2,895.4 1107,890.3 1109.5,880.2 1110,880.4 1112.7,881.5 1113,882.1 1115.9,887.3 1116,887.4 1119,889.2 1119.1,889.2 1122,887.4 1125,886 1125.5,885.8 1128,885.8 1128.7,885.8 1131,887.2 1131.9,887.7 1134,888.2 1135.1,888.4 1137,887.2 1139.3,885.8 1140,885.8 1141.9,885.8 1143,882.9 1143.6,881.3 1146,884.4 1146.8,885.4 1148.9,886.1 1149,886.3 1151.1,895.4 1152,895.2 1154.3,895 1155,894.2 1157.5,891.5 1158,891.7 1160.7,892.5 1161,892.8 1164,896.8 1164.9,897.7 1167,882.8 1169.2,870.4 1170,870.2 1173,865.3 1173.9,863.9 1176,864.5 1176.7,863.9 1179,860.9 1179.9,859.7 1182,797.9 1184.3,724.3 1185,718.3 1188,705.8 1190.2,706.8 1191,705.3 1192.7,702 1194,709.1 1194.2,710.2 1197,719 1197.3,719.3 1199.5,801.6 1200,802.2 1201.5,820.6 1203,816.1 1205,818.4 1206,818.9 1207.6,819.7 1209,824 1210,827 1212,830 1212.9,831.4 1215,834.7 1216.1,841.8 1218,859.5 1219.3,871 1221,873.8 1223.6,877.9 1224,878.4 1227,882.3 1227.9,883.5 1230,889.1 1233,896.5 1233.2,896.8 1236,896.8 1237.1,896.4 1237.5,896.4 1239,896.6 1240,896.8 1240.3,897.1 1242,898 1244.6,900.8 1245,900.9 1247.8,902.3 1248,902.2 1249.9,900.7 1251,898 1252.1,890.1 1254,889.6 1254.2,889.6 1255.9,885.3 1257,885.6 1257.4,885.6 1260,885.7 1260.6,885.7 1261.7,883 1262.7,880.4 1263,880.3 1264.2,879.7 1266,879.7 1267.3,879.6 1268.3,883 1269,884.8 1269.1,885 1271.3,887.4 1272,887.4 1274.5,887.5 1275,887.9 1276.6,890.1 1278,890.6 1279.8,891.2 1281,894.5 1283.6,901.5 1284,900.7 1285.8,894 1287,893.6 1287.3,893.5 1289.4,889.6 1290,891 1291.5,894.6 1293,895.1 1294.7,895.7 1296,893.9 1297.9,891.1 1299,891.2 1300.1,891.4 1302,895.5 1303.7,902.3 1305,898.4 1308,890.5 1308.6,889.6 1311,886.4 1311.8,885.3 1314,888.3 1314.4,888.8 1317,888 1317.1,888 1319.9,891.8 1320,891.9 1322.5,894 1323,893.7 1324.2,892.9 1326,895.1 1326.7,895.7 1328.4,893.5 1329,894.2 1331,897.9 1332,900.8 1334.2,907.1 1335,907 1337.4,906.6 1338,906.1 1340.6,903.9 1341,903.6 1344,901.7 1344.9,901.1 1347,903.6 1350,906.7 1351.3,907.9 1353,907 1354.5,904.6 1356,903.7 1359,902.1 1359.2,902.1 1362,902.3 1363,902.3 1365,899.1 1365.6,898.2 1368,896.3 1369.4,895.3 1371,896.6 1372.6,897.9 1374,899.2 1375.8,901 1377,901.8 1379,904 1380,896.3 1381.1,880.4 1383,876.3 1383.3,875.7 1385.8,874.3 1386,875.1 1388.2,885.1 1389,886.2 1389.7,887.1 1391.8,885.1 1392,885.4 1393.9,888.2 1395,889.6 1398,897.6 1398.2,897.9 1401,886.3 1401.4,884.2 1403.5,877.3 1404,876.6 1405.7,874 1407,852.7 1408.6,823 1410,789 1411.5,784.7 1413,778.4 1414.9,770.3 1416,771.6 1418.1,774 1419,771.9 1421.3,766.6 1422,765.6 1423,764.3 1424.5,767.6 1425,769.8 1426.7,777.3 1428,781.3 1429.3,785.4 1431,780.3 1432,777.3 1434,769.3 1434.1,768.9 1436.7,763 1437,763.6 1438.4,766.3 1439.5,777.3 1440,778.1 1442.2,781.8 1443,780.7 1446,776.5 1446.1,776.4 1448.9,778.7 1449,779.1 1452,790.6 1455,787.5 1456.7,793.6 1458,801.1 1459.4,809.9 1461,843.2 1461.8,852.1 1464,861.5 1465.7,868.6 1467,878.3 1468.4,887.7 1470,887.9 1473,877.9 1476,869 1476.3,868.3 1478.2,872.2 1479,875.2 1482,886.7 1482.9,890.2 1485,890 1486,890 1488,876.9 1488,876.9 1491,875 1491.1,874.9 1493.9,886.3 1494,886.5 1497,892.2 1499.7,900.7 1500,900.4 1503,893.1 1505.6,890.1 1506,890 1509,889.2 1510.3,888.9 1512,890.8 1513.4,892.4 1515,892.8 1518,894.2 1519.3,894.9 1521,896.6 1524,899.6 1527,902.6 1527.1,902.7 1530,900.9 1533,899.2 1533,899.1 1536,895 1537.7,893.8 1539,893.8 1542,893.7 1542.7,893.6 1545,894.2 1547.8,895 1548,895.1 1551,899.6 1553.3,903.1 1554,901.3 1557,885.4 1558.4,882 1560,880.2 1561.1,879 1563,882.5 1565,886.3 1566,885.6 1569,880.5 1572,876.2 1572.1,876.1 1575,873.3 1575.2,873.2 1578,873.6 1578.7,873.7 1581,872 1581.1,872 1583.8,870.2 1584,869.7 1586.2,864 1587,864.9 1590,868.4 1591.6,870.2 1593,878.7 1593.6,880.8 1596,883.7 1597.5,884.3 1597.8,884.7 1599,888.8 1599.8,891.7 1600.3,890.7 1602,889.2 1603.9,887.5 1605,888.3 1606.4,889.3 1608,888.7 1608.5,888.6 1611,891.8 1613.5,877 1614,877.4 1616.3,877 1617,877.1 1619.2,877.6 1619.9,874.1 1620,874.1 1622.7,867.8 1623,867.8 1624.9,867.5 1626,869.8 1626.3,870.4 1628.8,868.7 1629,868.6 1631.3,855.2 1632,856.2 1634.1,859.1 1635,860.5 1637,863.7 1638,865.2 1639.4,867.2 1641,868.8 1643,871.2 1644,873 1646.6,878.3 1647,879.1 1650,889.5 1650.1,889.6 1653,888.5 1653.7,888.4 1656,883.6 1658.3,881.1 1659,881.5 1662,883 1662.6,883.2 1665,881 1666.1,880 1667.9,882.9 1668,882.4 1669.7,874.7 1671,877.4 1671.4,878.3 1673.9,877.2 1674,877.3 1676.8,884 1677,884.1 1680,886.7 1680.3,886.8 1683,892.3 1683.2,892.5 1686,888.4 1689,885.9 1689.2,885.7 1692,886.3 1692.8,886.4 1695,888 1696.3,888.9 1698,885.7 1700.6,873.3 1701,872.5 1704,866.5 1704.2,866.2 1707,871 1708.8,874 1710,870.9 1711.3,867.6 1713,868.5 1715.9,870.1 1716,870.4 1719,882.4 1719.4,884.7 1722,881.1 1723,879.7 1725,878.3 1726.6,877.2 1728,880.2 1730.8,887.5 1731,887.1 1733.7,881.3 1734,881.4 1737,882.8 1737.2,882.9 1740,892.5 1740.1,892.5 1743,892 1743.6,891.9 1744.5,888.4 1745.7,885 1746,885.1 1747,885.3 1748.3,885.4 1749,885.5 1750.5,885.8 1752,888.3 1752.3,888.8 1753.2,896 1755,897.3 1756.8,898.5 1758,898.4 1760.3,897.3 1761,896.8 1763.9,894.4 1764,894.6 1767,898.2 1769.2,903.4 1770,903.6 1773,905.6 1774.6,906 1776,906.6 1779,908 1779.9,908.1 1782,907.9 1783.4,907.8 1785,907.1 1785.9,906.7 1786,906.7 L1786,914.5 Z" fill="#fbaf7b"/>
<path d="M213,914.5 L213,872.1 214.6,869.6 216,861.4 219,843.3 219.4,840.9 221,840 222,841.2 222.6,841.9 224.2,854 225,859.1 225.8,864.2 228,866.9 228,866.9 230.6,862.6 231,862.7 233.8,863.4 234,863.2 236,861.1 237,863.2 238,865.3 240,852.1 240.2,850.8 242.8,861.3 243,860.5 245,854.2 246,863.1 246.6,868.2 248.8,853.7 249,852.6 250.8,839.7 252,849.7 253,857.7 255,857.5 255.6,857.5 257.2,876 258,874.3 259.4,870.5 261,869.5 261.6,869.1 263.6,871.9 264,871.8 266.8,870.7 267,870.5 269,869.6 270,871.2 270.6,871.6 272.5,863.3 273,864.7 275.4,872.3 276,872.5 278.6,874.9 279,875.6 280.8,878.8 282,876.9 282.8,875.7 285,882.2 287.6,886.8 288,887.5 289.8,894.6 291,895.3 292,895.4 294,898.3 294.6,898.6 297,897.9 297.8,897.6 300,896.8 302,896 303,896.7 304.8,897.9 306,898.5 308,900.6 309,900.2 310.6,899.5 312,899.3 313.8,898.9 315,899.7 317,902.3 318,903.4 320.8,906.3 321,906.3 324,907.1 325,907.2 327,907.6 328.2,907.6 330,902.6 330.4,901.9 333,901.4 335.6,904.4 336,903.6 337.8,899.7 339,891.1 341,875.1 342,873 343.2,870.4 345,870.1 345.2,870.1 347.4,900.6 348,899.3 350.6,883.8 351,883.3 353.2,878.2 354,877.3 355.4,875.9 357,877.9 358,879.2 360,879.3 361.8,879.3 363,876.9 366,870.8 366.6,869.5 369,870.7 369.8,871.1 372,874.6 373,876.2 375,876.2 376.2,876.1 378,877.5 379.4,878.3 381,878.6 384,879.3 384.2,879.3 387,883.4 389,886.3 390,888.1 393,894.4 393.2,894.5 395.4,866.9 396,866.3 398,864.1 399,862.3 399.2,861.9 400.8,871.3 402,861.7 403.2,852.1 405,851.4 405.8,851.7 408,846.3 409.6,849.4 411,847.1 412.8,844 414,836 416,822.9 417,826.5 417.6,828.6 419.8,828.6 420,830 422.4,853.3 423,852.4 425.6,844.1 426,842.1 428.2,831.8 429,832.1 431,833 432,835.1 433.6,838.6 435,838.7 436.8,839 438,841.3 440,847.9 441,851.2 443.2,861.6 444,863.5 446.4,878 447,872.7 448,863.9 450,862.2 450.6,861.7 452.8,856.8 453,857.9 455,868.9 456,868.9 457.6,868.8 459,869.8 460.8,870.9 462,872.6 465,884.2 465.6,884.7 468,885 470.4,885.3 471,885 474,883.4 475.8,882.4 477,883.3 480,887.6 483,891 486,894.6 486.4,894.7 489,894.4 491.2,894.1 492,894.4 495,899.6 496,900.1 498,895.3 501,888.7 503,888.1 504,888.3 505.6,888.6 507,877.7 507.8,875.9 510,875.7 510.4,875.6 513,874.7 513,874.8 514.6,877.9 516,877.7 516.8,877.6 519,878.1 520,876.7 522,879.1 523.2,884.1 525,892.4 526.4,893.7 528,892.7 530.6,885.8 531,884.5 534,866.6 534.4,865.3 537,866.4 537.6,866.6 540,870.4 540.8,871.7 543,872.4 543.4,872.5 546,871.5 547.2,871.1 549,872 552,877 555,867.3 555.2,866.6 558,862.3 558.4,861.6 561,865.8 561.6,866.7 564,873.6 564.8,876 567,886.1 569.6,898.3 570,897.7 572.8,886.7 573,886.7 576,886 577.6,885.6 579,884.7 582,882.8 582.4,882.5 585,886.5 585.6,887.5 588,886.4 591,885.8 592,885.6 594,884.8 595.2,884.3 597,877.2 598.4,871.6 599,871.7 600,871.4 601,873.3 603,883.5 604,895.5 606,898.5 607,899.9 609,900.7 611,901.4 612,898.2 614,895.7 615,895.7 618,895.8 620,898 621,898.2 624,898.8 625,898.9 627,894.6 628,892.4 630,889.5 631,888 633,890.3 634,891.4 636,895.8 637,898 639,898.9 642,902.1 645,901.5 648,901 651,901.7 654,903.4 655,903.7 657,899.3 660,896.9 663,897.4 665,899.6 666,899.4 669,898.8 670,898.6 672,899.8 673,900.3 675,900.1 678,899.8 679,899.7 681,900.3 683,900.8 684,901.3 687,905 689,907.4 690,907.4 693,906.8 695,906.5 696,906.6 699,906.8 700,906.8 702,906.5 704,906.1 705,906.1 708,906 709,906 711,906.8 714,907 717,907.2 720,907.7 723,908.3 725,908.4 726,908.7 729,909.4 732,910.4 733,910.5 735,908.6 738,907.8 741,908.1 742,908.2 744,908.6 745,908.8 747,907.3 748,906.9 750,906.9 751,906.9 753,906.5 755,906.2 756,906.1 759,906 761,907.5 762,907.5 765,907.8 768,911.1 771,910.4 772,910.1 774,910.3 776,910.6 777,911.9 778,912.6 780,912.6 783,912.5 786,912.4 789,912.3 791,912.2 792,912.3 795,913.3 798,913.3 801,913.3 804,913.3 805,913.3 807,912.9 810,911.7 812,911 813,909.8 816,904 819,896.4 820,894.5 822,895.1 823,895.4 825,896.1 828,897.2 831,898.5 832,898.9 834,898.6 837,898.3 840,901.8 843,905.9 844,906.8 846,905.4 849,903.4 851,902.1 852,902.8 855,904.9 857,906.3 858,906.8 861,908.7 864,910.7 867,908 869,906.2 870,902.6 873,889.6 874,886.4 876,886.5 877,886.5 879,889.4 882,895.6 883,897.6 885,898.7 886,899.3 888,899 889,898.8 891,900.9 893,903.3 894,902.3 897,899.4 899,897.6 900,899.2 903,903.5 904,904.8 906,906 909,907.8 912,908.1 913,908.4 915,910.4 916,910.6 918,908.8 921,909.7 923,910.2 924,910.8 924.6,911.2 927,911.5 929,911.4 930,911.6 933,912.4 935,911.7 936,911.7 939,911.6 942,912 944,912.2 945,912.3 948,912.8 949,912.9 951,912.8 954,911.4 957,909.2 960,901.2 963,891.1 966,896.8 969,900.1 972,904.8 973,906.1 975,907.6 977,908.7 978,909.5 981,910.3 984,911.2 987,911.8 989,912 990,911.9 993,912.1 994.3,912.1 995,912.1 996,912.3 998.5,912.8 999,912.7 1002,912.4 1005,912.2 1006,912.1 1008,912.2 1010.3,912.3 1011,912.4 1014,912.8 1015.6,913.2 1017,913 1020,912.8 1022,912.6 1023,912.7 1026,913 1028.4,913.4 1029,913.3 1032,913.1 1033.7,912.9 1035,912.6 1038,912 1038.6,911.8 1041,912.6 1043.3,913.4 1044,913.2 1047,911.9 1050,910.8 1050.8,910.5 1053,910.2 1054,910.1 1056,910.1 1058.3,910.2 1059,910.1 1062,909.3 1063.6,908.9 1065,908.6 1065.7,907.9 1067.9,906.2 1068,906 1071,899.2 1071.1,899.1 1073.6,898.3 1074,898.6 1076.4,900.6 1077,900.7 1080,901.5 1081.7,902 1083,901.4 1084.9,900.6 1086,900.5 1088.6,900.3 1089,900.9 1090.3,903.3 1092,903 1094.1,902.6 1095,902.9 1096.7,903.8 1098,904.4 1100.9,905.8 1101,905.8 1104,902.9 1105.2,901.7 1107,898.3 1109.5,891.6 1110,891.8 1112.7,892.5 1113,892.9 1115.9,896.4 1116,896.4 1119,897.6 1119.1,897.6 1122,896.4 1125,895.5 1125.5,895.3 1128,895.3 1128.7,895.3 1131,896.3 1131.9,896.6 1134,897 1135.1,897.1 1137,896.3 1139.3,895.3 1140,895.3 1141.9,895.3 1143,893.4 1143.6,892.4 1146,894.4 1146.8,895.1 1148.9,895.6 1149,895.7 1151.1,901.7 1152,901.7 1154.3,901.5 1155,901 1157.5,899.2 1158,899.3 1160.7,899.8 1161,900 1164,902.7 1164.9,903.3 1167,893.4 1169.2,885.1 1170,885 1173,881.1 1173.9,880 1176,880.1 1176.7,879.6 1179,877.2 1179.9,876.3 1182,832.5 1184.3,779.9 1185,775.3 1188,766.5 1190.2,767.2 1191,766.1 1192.7,763.8 1194,768.8 1194.2,769.6 1197,775.8 1197.3,776.1 1199.5,834.4 1200,834.8 1201.5,848.2 1203,845.3 1205,847.4 1206,847.9 1207.6,848.8 1209,852.1 1210,854.4 1212,856.9 1212.9,858 1215,860.7 1216.1,865.3 1218,877.2 1219.3,884.8 1221,886.6 1223.6,889.2 1224,889.5 1227,892 1227.9,892.7 1230,896.5 1233,901.5 1233.2,901.7 1236,901.6 1237.1,901.3 1237.5,901.3 1239,901.4 1240,901.6 1240.3,901.8 1242,902.4 1244.6,904.5 1245,904.6 1247.8,905.6 1248,905.5 1249.9,904.4 1251,902.5 1252.1,896.7 1254,896.3 1254.2,896.3 1255.9,893.2 1257,893.4 1257.4,893.4 1260,893.4 1260.6,893.5 1261.7,891.5 1262.7,889.6 1263,889.5 1264.2,889.1 1266,889 1267.3,889 1268.3,891.5 1269,892.8 1269.1,892.9 1271.3,894.7 1272,894.7 1274.5,894.7 1275,895 1276.6,896.7 1278,897.1 1279.8,897.5 1281,899.9 1283.6,905 1284,904.4 1285.8,899.5 1287,899.2 1287.3,899.1 1289.4,896.3 1290,897.3 1291.5,899.9 1293,900.3 1294.7,900.8 1296,899.4 1297.9,897.4 1299,897.5 1300.1,897.6 1302,900.6 1303.7,905.6 1305,902.7 1308,897 1308.6,896.3 1311,894 1311.8,893.2 1314,895.4 1314.4,895.7 1317,895.1 1317.1,895.1 1319.9,897.9 1320,898 1322.5,899.5 1323,899.3 1324.2,898.7 1326,900.3 1326.7,900.8 1328.4,899.1 1329,899.7 1331,902.4 1332,904.5 1334.2,909.1 1335,909 1337.4,908.8 1338,908.4 1340.6,906.7 1341,906.5 1344,905.1 1344.9,904.7 1347,906.5 1350,908.8 1351.3,909.7 1353,909 1354.5,907.2 1356,906.6 1359,905.4 1359.2,905.4 1362,905.6 1363,905.6 1365,903.2 1365.6,902.6 1368,901.2 1369.4,900.4 1371,901.4 1372.6,902.4 1374,903.3 1375.8,904.6 1377,905.2 1379,906.8 1380,901.2 1381.1,889.6 1383,886.6 1383.3,886.2 1385.8,885.1 1386,885.7 1388.2,893 1389,893.8 1389.7,894.5 1391.8,893 1392,893.3 1393.9,895.3 1395,896.3 1398,902.2 1398.2,902.4 1401,893.7 1401.4,892.1 1403.5,886.7 1404,886.2 1405.7,884.1 1407,867.9 1408.6,845.3 1410,819.4 1411.5,816.1 1413,811.3 1414.9,805.2 1416,806.2 1418.1,808 1419,806.4 1421.3,802.4 1422,801.7 1423,800.6 1424.5,803.2 1425,804.8 1426.7,810.5 1428,813.6 1429.3,816.7 1431,812.8 1432,810.5 1434,804.4 1434.1,804.1 1436.7,799.6 1437,800.1 1438.4,802.2 1439.5,810.5 1440,811.1 1442.2,813.9 1443,813.1 1446,809.9 1446.1,809.8 1448.9,811.5 1449,811.8 1452,820.5 1455,818.2 1456.7,822.9 1458,828.6 1459.4,835.3 1461,860.6 1461.8,867.3 1464,874.5 1465.7,879.9 1467,887.2 1468.4,894.4 1470,894.6 1473,887 1476,880.4 1476.3,879.8 1478.2,882.7 1479,885 1482,893.6 1482.9,896.2 1485,896.1 1486,896 1488,886.2 1488,886.2 1491,884.7 1491.1,884.7 1493.9,893.2 1494,893.4 1497,897.7 1499.7,904.1 1500,903.9 1503,898.3 1505.6,896 1506,896 1509,895.4 1510.3,895.1 1512,896.6 1513.4,897.8 1515,898.1 1518,899.1 1519.3,899.6 1521,900.9 1524,903.2 1527,905.5 1527.1,905.5 1530,904.2 1533,902.8 1533,902.8 1536,899.7 1537.7,898.8 1539,898.7 1542,898.6 1542.7,898.6 1545,899.1 1547.8,899.6 1548,899.7 1551,903.2 1553.3,905.8 1554,904.5 1557,892.3 1558.4,889.6 1560,888.3 1561.1,887.4 1563,890 1565,892.9 1566,892.4 1569,888.5 1572,885.2 1572.1,885.1 1575,882.9 1575.2,882.8 1578,883.1 1578.7,883.2 1581,881.9 1581.1,881.9 1583.8,880.5 1584,880.1 1586.2,875.7 1587,876.4 1590,879 1591.6,880.4 1593,886.9 1593.6,888.6 1596,890.8 1597.5,891.2 1597.8,891.5 1599,894.7 1599.8,897 1600.3,896.2 1602,895 1603.9,893.7 1605,894.3 1606.4,895 1608,894.6 1608.5,894.5 1611,897 1613.5,885.5 1614,885.8 1616.3,885.5 1617,885.6 1619.2,885.9 1619.9,883.3 1620,883.3 1622.7,878.4 1623,878.3 1624.9,878.1 1626,879.9 1626.3,880.4 1628.8,879 1629,878.9 1631.3,868.5 1632,869.3 1634.1,871.5 1635,872.6 1637,875 1638,876.2 1639.4,877.8 1641,879 1643,880.8 1644,882.2 1646.6,886.3 1647,886.9 1650,895 1650.1,895.1 1653,894.2 1653.7,894.1 1656,890.4 1658.3,888.5 1659,888.7 1662,889.9 1662.6,890.1 1665,888.4 1666.1,887.6 1667.9,889.8 1668,889.4 1669.7,883.4 1671,885.5 1671.4,886.2 1673.9,885.3 1674,885.4 1676.8,890.7 1677,890.7 1680,892.7 1680.3,892.8 1683,897.1 1683.2,897.2 1686,894 1689,892.1 1689.2,891.9 1692,892.4 1692.8,892.5 1695,893.7 1696.3,894.4 1698,891.9 1700.6,882.1 1701,881.5 1704,876.7 1704.2,876.5 1707,880.2 1708.8,882.6 1710,880.1 1711.3,877.5 1713,878.3 1715.9,879.5 1716,879.7 1719,889.1 1719.4,890.9 1722,888.1 1723,887 1725,885.9 1726.6,885 1728,887.4 1730.8,893.1 1731,892.8 1733.7,888.2 1734,888.3 1737,889.4 1737.2,889.5 1740,897 1740.1,897.1 1743,896.7 1743.6,896.6 1744.5,893.8 1745.7,891.1 1746,891.1 1747,891.3 1748.3,891.4 1749,891.5 1750.5,891.7 1752,893.7 1752.3,894.1 1753.2,899.8 1755,900.8 1756.8,901.8 1758,901.7 1760.3,900.8 1761,900.4 1763.9,898.5 1764,898.6 1767,901.5 1769.2,905.6 1770,905.8 1773,907.4 1774.6,907.7 1776,908.2 1779,909.3 1779.9,909.4 1782,909.2 1783.4,909.1 1785,908.6 1785.9,908.3 1786,908.2 L1786,914.5 Z" fill="#f0856d"/>
<path d="M213,914.5 L213,892.5 214.6,891.1 216,886.9 219,877.4 219.4,876.2 221,875.7 222,876.4 222.6,876.7 224.2,883 225,885.7 225.8,888.3 228,889.7 228,889.7 230.6,887.5 231,887.5 233.8,887.9 234,887.8 236,886.7 237,887.8 238,888.9 240,882 240.2,881.3 242.8,886.8 243,886.4 245,883.1 246,887.7 246.6,890.4 248.8,882.8 249,882.2 250.8,875.5 252,880.7 253,884.9 255,884.8 255.6,884.8 257.2,894.4 258,893.5 259.4,891.5 261,891 261.6,890.8 263.6,892.3 264,892.2 266.8,891.6 267,891.6 269,891.1 270,891.9 270.6,891.7 272.5,885.7 273,886.1 275.4,888.9 276,888.7 278.6,888.8 279,889 280.8,890.4 282,888.5 282.8,887.3 285,891.1 287.6,894.3 288,894.8 289.8,899.9 291,900.4 292,900.4 294,902.5 294.6,902.7 297,902.1 297.8,901.9 300,901.1 302,900.5 303,901 304.8,901.9 306,902.3 308,903.9 309,903.5 310.6,902.9 312,902.7 313.8,902.4 315,903 317,905 318,905.8 320.8,908 321,908 324,908.6 325,908.7 327,909 328.2,909 330,904.9 330.4,904.4 333,903.9 335.6,906.3 336,905.7 337.8,902.7 339,895.9 341,883.4 342,881.9 343.2,880 345,880.1 345.2,880.1 347.4,903.8 348,902.9 350.6,891.1 351,890.6 353.2,886.4 354,885.6 355.4,884.3 357,885.7 358,886.6 360,886.4 361.8,886.2 363,884.1 366,878.7 366.6,877.6 369,878.2 369.8,878.5 372,881.1 373,882.3 375,882 376.2,881.8 378,882.8 379.4,883.3 381,883.4 384,883.7 384.2,883.6 387,887 389,889.4 390,890.9 393,897.3 393.2,897.5 395.4,875.4 396,875.3 398,875 399,874.4 399.2,874.3 400.8,882.6 402,876.5 403.2,870.9 405,872.4 405.8,872.6 408,868.8 409.6,870.8 411,869.1 412.8,866.9 414,861.3 416,852.2 417,854.5 417.6,855.9 419.8,855.7 420,856.6 422.4,872.5 423,871.8 425.6,865.8 426,864.5 428.2,857.1 429,857.2 431,857.6 432,859 433.6,861.3 435,861.3 436.8,861.3 438,862.9 440,867.4 441,869.2 443.2,875.7 444,876.8 446.4,886.9 447,882.7 448,875.6 450,873.5 450.6,873 452.8,868.3 453,869.1 455,877.3 456,877.1 457.6,876.6 459,877 460.8,877.6 462,878.8 465,888.1 465.6,888.6 468,888.4 470.4,888.4 471,888.2 474,886.7 475.8,885.9 477,886.7 480,890.6 483,893.6 486,896.8 486.4,896.9 489,896.6 491.2,896.4 492,896.7 495,901.3 496,901.7 498,897.4 501,891.6 503,891.1 504,891.3 505.6,891.6 507,882 507.8,880.4 510,880.2 510.4,880.2 513,879.4 513,879.5 514.6,882.2 516,882 516.8,881.9 519,882.4 520,881.2 522,883.3 523.2,887.8 525,895.1 526.4,896.2 528,895.4 530.6,889.3 531,888.1 534,872.4 534.4,871.3 537,872.3 537.6,872.5 540,875.9 540.8,877 543,877.6 543.4,877.7 546,876.9 547.2,876.5 549,877.3 552,881.7 555,873.2 555.2,872.7 558,868.9 558.4,868.3 561,871.9 561.6,872.7 564,878.6 564.8,880.7 567,889.5 569.6,900.1 570,899.6 572.8,889.8 573,889.8 576,889.1 577.6,888.7 579,887.8 582,886 582.4,885.8 585,889.3 585.6,890.1 588,889.1 591,888.5 592,888.3 594,887.5 595.2,887 597,880.4 598.4,875.3 599,875.3 600,875 601,876.7 603,886.1 604,897.1 606,899.8 607,901.1 609,901.8 611,902.5 612,899.6 614,897.3 615,897.3 618,897.4 620,899.4 621,899.6 624,900.1 625,900.3 627,896.3 628,894.3 630,891.7 631,890.3 633,892.4 634,893.4 636,897.5 637,899.5 639,900.3 642,903.2 645,902.7 648,902.2 651,902.9 654,904.4 655,904.6 657,900.7 660,898.5 663,899 665,901 666,900.8 669,900.2 670,900.1 672,901.2 673,901.7 675,901.6 678,901.4 679,901.4 681,901.9 683,902.4 684,902.8 687,906.1 689,908.3 690,908.3 693,907.9 695,907.7 696,907.7 699,907.9 700,908 702,907.7 704,907.4 705,907.4 708,907.3 709,907.3 711,908 714,908.2 717,908.4 720,908.8 723,909.3 725,909.4 726,909.6 729,910.3 732,911.1 733,911.1 735,909.6 738,909 741,909.2 742,909.3 744,909.6 745,909.8 747,908.6 748,908.3 750,908.3 751,908.3 753,908 755,907.7 756,907.7 759,907.5 761,908.8 762,908.9 765,909.1 768,911.9 771,911.3 772,911.2 774,911.3 776,911.5 777,912.5 778,913.1 780,913.1 783,913.1 786,913.1 789,913 791,913 792,913.1 795,913.8 798,913.8 801,913.8 804,913.9 805,913.9 807,913.7 810,913.1 812,912.8 813,912.2 816,909.5 819,905.7 820,904.8 822,904.9 823,905 825,905.3 828,905.7 831,906.2 832,906.4 834,906.2 837,905.8 840,907.6 843,909.7 844,910.2 846,909.4 849,908.2 851,907.4 852,907.7 855,908.8 857,909.6 858,909.9 861,911 864,912.1 867,910.4 869,909.2 870,906.9 873,898.6 874,896.6 876,896.7 877,896.8 879,898.6 882,902.6 883,903.9 885,904.7 886,905 888,904.9 889,904.8 891,906.1 893,907.6 894,907 897,905.3 899,904.4 900,905.3 903,907.9 904,908.8 906,909.5 909,910.6 912,910.8 913,911 915,912.1 916,912.2 918,911.2 921,911.6 923,911.9 924,912.3 924.6,912.5 927,912.7 929,912.6 930,912.7 933,913.2 935,912.8 936,912.8 939,912.7 942,912.9 944,913.1 945,913.1 948,913.5 949,913.5 951,913.4 954,912.7 957,911.5 960,907.2 963,901.8 966,904.8 969,906.5 972,909.1 973,909.8 975,910.5 977,911.1 978,911.5 981,912 984,912.5 987,912.9 989,913 990,913 993,913.1 994.3,913.1 995,913.1 996,913.2 998.5,913.5 999,913.5 1002,913.3 1005,913.1 1006,913.1 1008,913.1 1010.3,913.2 1011,913.3 1014,913.5 1015.6,913.7 1017,913.7 1020,913.5 1022,913.4 1023,913.4 1026,913.6 1028.4,913.9 1029,913.8 1032,913.7 1033.7,913.6 1035,913.4 1038,913 1038.6,913 1041,913.4 1043.3,913.8 1044,913.8 1047,913 1050,912.4 1050.8,912.2 1053,912 1054,912 1056,912 1058.3,912 1059,912 1062,911.5 1063.6,911.3 1065,911.2 1065.7,910.8 1067.9,910.1 1068,910 1071,906.8 1071.1,906.8 1073.6,906.4 1074,906.5 1076.4,907.5 1077,907.6 1080,908 1081.7,908.2 1083,908 1084.9,907.5 1086,907.5 1088.6,907.4 1089,907.7 1090.3,908.9 1092,908.7 1094.1,908.6 1095,908.7 1096.7,909.1 1098,909.5 1100.9,910.2 1101,910.2 1104,908.7 1105.2,908.1 1107,906.4 1109.5,903.1 1110,903.1 1112.7,903.5 1113,903.7 1115.9,905.4 1116,905.5 1119,906.1 1119.1,906.1 1122,905.5 1125,905 1125.5,904.9 1128,904.9 1128.7,904.9 1131,905.4 1131.9,905.6 1134,905.7 1135.1,905.8 1137,905.4 1139.3,904.9 1140,904.9 1141.9,904.9 1143,904 1143.6,903.4 1146,904.5 1146.8,904.8 1148.9,905 1149,905.1 1151.1,908.1 1152,908.1 1154.3,908 1155,907.7 1157.5,906.8 1158,906.9 1160.7,907.2 1161,907.3 1164,908.6 1164.9,908.9 1167,903.9 1169.2,899.8 1170,899.7 1173,899.9 1173.9,900 1176,901.2 1176.7,901.4 1179,901.6 1179.9,901.7 1182,889 1184.3,875.7 1185,875.3 1188,872.8 1190.2,873 1191,872.7 1192.7,872 1194,873.4 1194.2,873.6 1197,875.4 1197.3,875.5 1199.5,891.9 1200,892 1201.5,895.4 1203,894.2 1205,894.2 1206,894 1207.6,893.8 1209,894.4 1210,894.9 1212,895.1 1212.9,895.2 1215,895.4 1216.1,896.7 1218,900.4 1219.3,903 1221,903.3 1223.6,903.7 1224,903.8 1227,904.1 1227.9,904.2 1230,905.5 1233,907.4 1233.2,907.5 1236,907 1237.1,906.8 1237.5,906.8 1239,906.9 1240,907 1240.3,907.1 1242,907.5 1244.6,908.7 1245,908.7 1247.8,909.4 1248,909.3 1249.9,908.7 1251,907.5 1252.1,904.2 1254,904 1254.2,904 1255.9,902.2 1257,902.3 1257.4,902.3 1260,902.3 1260.6,902.3 1261.7,901.2 1262.7,900.1 1263,900 1264.2,899.8 1266,899.8 1267.3,899.8 1268.3,901.2 1269,901.9 1269.1,902 1271.3,903 1272,903 1274.5,903.1 1275,903.2 1276.6,904.2 1278,904.4 1279.8,904.7 1281,906 1283.6,909 1284,908.7 1285.8,905.8 1287,905.6 1287.3,905.6 1289.4,904 1290,904.6 1291.5,906.1 1293,906.3 1294.7,906.5 1296,905.8 1297.9,904.6 1299,904.7 1300.1,904.7 1302,906.4 1303.7,909.4 1305,907.7 1308,904.4 1308.6,904 1311,902.6 1311.8,902.2 1314,903.4 1314.4,903.6 1317,903.3 1317.1,903.3 1319.9,904.9 1320,904.9 1322.5,905.8 1323,905.7 1324.2,905.4 1326,906.3 1326.7,906.5 1328.4,905.6 1329,905.9 1331,907.5 1332,908.7 1334.2,911.4 1335,911.3 1337.4,911.2 1338,911 1340.6,910 1341,909.9 1344,909.1 1344.9,908.8 1347,909.9 1350,911.2 1351.3,911.7 1353,911.3 1354.5,910.3 1356,909.9 1359,909.3 1359.2,909.2 1362,909.3 1363,909.4 1365,908 1365.6,907.6 1368,906.8 1369.4,906.4 1371,906.9 1372.6,907.5 1374,908 1375.8,908.8 1377,909.1 1379,910.1 1380,906.8 1381.1,900.1 1383,898.3 1383.3,898.1 1385.8,897.5 1386,897.8 1388.2,902.1 1389,902.5 1389.7,902.9 1391.8,902.1 1392,902.2 1393.9,903.4 1395,904 1398,907.4 1398.2,907.5 1401,903.4 1401.4,902.9 1403.5,901.9 1404,901.9 1405.7,901.9 1407,896.2 1408.6,888.5 1410,880.1 1411.5,878.9 1413,877.2 1414.9,875 1416,875.3 1418.1,876 1419,875.4 1421.3,873.9 1422,873.7 1423,873.3 1424.5,874.2 1425,874.8 1426.7,876.9 1428,878 1429.3,879.1 1431,877.7 1432,876.9 1434,874.7 1434.1,874.6 1436.7,873 1437,873.1 1438.4,873.9 1439.5,876.9 1440,877.1 1442.2,878.1 1443,877.8 1446,876.7 1446.1,876.6 1448.9,877.3 1449,877.4 1452,880.5 1455,879.7 1456.7,880 1458,881.1 1459.4,882.4 1461,891.5 1461.8,893.8 1464,895.2 1465.7,896.3 1467,899 1468.4,901.7 1470,899.9 1473,894.3 1476,889.4 1476.3,889 1478.2,891.1 1479,892.8 1482,899.1 1482.9,901 1485,900.9 1486,900.9 1488,893.6 1488,893.6 1491,892.5 1491.1,892.5 1493.9,898.8 1494,898.9 1497,902 1499.7,906.8 1500,906.6 1503,902.5 1505.6,900.8 1506,900.7 1509,900.3 1510.3,900.1 1512,901.2 1513.4,902.1 1515,902.3 1518,903 1519.3,903.4 1521,904.4 1524,906 1527,907.8 1527.1,907.8 1530,906.8 1533,905.8 1533,905.7 1536,903.4 1537.7,902.7 1539,902.6 1542,902.6 1542.7,902.5 1545,902.9 1547.8,903.3 1548,903.4 1551,905.9 1553.3,907.9 1554,906.9 1557,897.7 1558.4,895.7 1560,894.7 1561.1,894 1563,896 1565,898.1 1566,897.7 1569,894.8 1572,892.2 1572.1,892.2 1575,890.5 1575.2,890.4 1578,890.6 1578.7,890.7 1581,889.7 1581.1,889.6 1583.8,888.6 1584,888.3 1586.2,884.9 1587,885.4 1590,887.4 1591.6,888.4 1593,893.4 1593.6,894.6 1596,896.3 1597.5,896.7 1597.8,896.9 1599,899.3 1599.8,901 1600.3,900.4 1602,899.5 1603.9,898.5 1605,899 1606.4,899.5 1608,899.2 1608.5,899.1 1611,901 1613.5,892.2 1614,892.4 1616.3,892.1 1617,892.2 1619.2,892.4 1619.9,890.4 1620,890.4 1622.7,886.6 1623,886.6 1624.9,886.3 1626,887.7 1626.3,888.1 1628.8,887 1629,887 1631.3,878.8 1632,879.4 1634.1,881.1 1635,882 1637,883.9 1638,884.8 1639.4,886 1641,886.9 1643,888.3 1644,889.4 1646.6,892.6 1647,893 1650,899.3 1650.1,899.4 1653,898.7 1653.7,898.6 1656,895.7 1658.3,894.1 1659,894.4 1662,895.2 1662.6,895.4 1665,894 1666.1,893.4 1667.9,895.1 1668,894.8 1669.7,890.1 1671,891.7 1671.4,892.3 1673.9,891.6 1674,891.7 1676.8,895.8 1677,895.8 1680,897.3 1680.3,897.4 1683,900.8 1683.2,900.9 1686,898.4 1689,896.8 1689.2,896.7 1692,897 1692.8,897.1 1695,898 1696.3,898.6 1698,896.6 1700.6,888.8 1701,888.3 1704,884.5 1704.2,884.3 1707,887.3 1708.8,889.2 1710,887.2 1711.3,885.1 1713,885.7 1715.9,886.6 1716,886.8 1719,894.3 1719.4,895.7 1722,893.5 1723,892.6 1725,891.7 1726.6,891 1728,892.8 1730.8,897.4 1731,897.2 1733.7,893.5 1734,893.6 1737,894.4 1737.2,894.4 1740,900.5 1740.1,900.5 1743,900.2 1743.6,900.1 1744.5,897.9 1745.7,895.7 1746,895.7 1747,895.9 1748.3,895.9 1749,896 1750.5,896.2 1752,897.7 1752.3,898.1 1753.2,902.7 1755,903.5 1756.8,904.3 1758,904.2 1760.3,903.5 1761,903.1 1763.9,901.6 1764,901.7 1767,904 1769.2,907.3 1770,907.5 1773,908.7 1774.6,909 1776,909.4 1779,910.3 1779.9,910.4 1782,910.2 1783.4,910.1 1785,909.7 1785.9,909.4 1786,909.4 L1786,914.5 Z" fill="#d75f6f"/>
<path d="M213,914.5 L213,906 214.6,905.5 216,903.8 219,900.1 219.4,899.7 221,899.4 222,899.6 222.6,899.8 224.2,902.2 225,903.2 225.8,904.3 228,904.8 228,904.8 230.6,903.8 231,903.9 233.8,904 234,903.9 236,903.5 237,903.9 238,904.3 240,901.5 240.2,901.2 242.8,903.4 243,903.2 245,901.9 246,903.7 246.6,904.8 248.8,901.7 249,901.5 250.8,898.7 252,900.8 253,902.5 255,902.4 255.6,902.4 257.2,906.3 258,905.9 259.4,905.1 261,904.9 261.6,904.8 263.6,905.3 264,905.3 266.8,905 267,905 269,904.8 270,905.1 270.6,904.5 272.5,900.3 273,900.1 275.4,900.1 276,899.6 278.6,898.4 279,898.4 280.8,898.5 282,896.9 282.8,895.8 285,897.8 287.6,900 288,900.3 289.8,904 291,904.3 292,904.3 294,905.8 294.6,905.9 297,905.4 297.8,905.3 300,904.7 302,904.2 303,904.6 304.8,905.2 306,905.5 308,906.6 309,906.3 310.6,905.9 312,905.7 313.8,905.4 315,905.9 317,907.3 318,907.9 320.8,909.6 321,909.6 324,910 325,910.1 327,910.3 328.2,910.3 330,907.2 330.4,906.7 333,906.4 335.6,908.2 336,907.8 337.8,905.6 339,900.7 341,891.7 342,890.8 343.2,889.7 345,890 345.2,890 347.4,907 348,906.4 350.6,898.4 351,898 353.2,895.1 354,894.6 355.4,893.6 357,894.5 358,895.1 360,894.9 361.8,894.8 363,893.3 366,889.5 366.6,888.7 369,889 369.8,889.2 372,891 373,891.8 375,891.6 376.2,891.4 378,892.1 379.4,892.4 381,892.4 384,892.6 384.2,892.6 387,894.9 389,896.6 390,897.6 393,902.6 393.2,902.8 395.4,888.3 396,888.5 398,889.1 399,889.3 399.2,889.3 400.8,895.2 402,892.1 403.2,889.6 405,891.8 405.8,892 408,890.1 409.6,891.3 411,890.5 412.8,889.5 414,886.7 416,882.1 417,883.4 417.6,884.2 419.8,884.3 420,884.8 422.4,893.1 423,892.8 425.6,890 426,889.3 428.2,885.8 429,885.9 431,886.3 432,887.1 433.6,888.3 435,888.4 436.8,888.6 438,889.4 440,891.8 441,891.8 443.2,893.7 444,893.8 446.4,898.4 447,895.7 448,890.9 450,888.7 450.6,888.1 452.8,884 453,884.4 455,889.1 456,888.6 457.6,887.7 459,887.5 460.8,887.3 462,887.9 465,894.3 465.6,894.5 468,894 470.4,893.6 471,893.4 474,892.3 475.8,891.6 477,892.2 480,895.3 483,897.7 486,900.3 486.4,900.4 489,900.1 491.2,899.9 492,900.1 495,903.9 496,904.2 498,900.8 501,896 503,895.6 504,895.8 505.6,896 507,888.2 507.8,887 510,886.8 510.4,886.7 513,886.1 513,886.1 514.6,888.3 516,888.2 516.8,888.1 519,888.5 520,887.5 522,889.2 523.2,892.8 525,898.7 526.4,899.6 528,898.9 530.6,894 531,893 534,880.3 534.4,879.4 537,880.1 537.6,880.3 540,883 540.8,883.9 543,884.4 543.4,884.5 546,883.8 547.2,883.5 549,884.1 552,887.7 555,880.8 555.2,880.3 558,877.2 558.4,876.7 561,879.6 561.6,880.2 564,884.9 564.8,886.5 567,893.7 569.6,902.5 570,902.1 572.8,893.8 573,893.7 576,893 577.6,892.6 579,891.8 582,890.2 582.4,889.9 585,892.9 585.6,893.5 588,892.6 591,891.9 592,891.7 594,891 595.2,890.5 597,884.7 598.4,880.1 599,880.1 600,879.8 601,881.3 603,889.5 604,899.3 606,901.6 607,902.8 609,903.4 611,904 612,901.4 614,899.4 615,899.5 618,899.6 620,901.3 621,901.5 624,901.9 625,902.1 627,898.6 628,896.9 630,894.6 631,893.4 633,895.2 634,896.2 636,899.7 637,901.4 639,902.1 642,904.7 645,904.2 648,903.8 651,904.4 654,905.8 655,906 657,902.5 660,900.7 663,901.1 665,902.8 666,902.7 669,902.2 670,902 672,903.1 673,903.6 675,903.5 678,903.5 679,903.4 681,904 683,904.5 684,904.8 687,907.7 689,909.4 690,909.5 693,909.2 695,909.1 696,909.1 699,909.4 700,909.4 702,909.2 704,909 705,909 708,909 709,908.9 711,909.5 714,909.7 717,909.8 720,910.1 723,910.6 725,910.6 726,910.8 729,911.3 732,911.9 733,912 735,910.9 738,910.4 741,910.6 742,910.7 744,910.9 745,911.1 747,910.2 748,910 750,910 751,910 753,909.8 755,909.6 756,909.6 759,909.5 761,910.5 762,910.5 765,910.8 768,912.7 771,912.4 772,912.3 774,912.5 776,912.6 777,913.3 778,913.6 780,913.6 783,913.7 786,913.7 789,913.8 791,913.8 792,913.8 795,914.2 798,914.2 801,914.3 804,914.3 805,914.3 807,914.3 810,914.2 812,914.1 813,914 816,913.6 819,912.9 820,912.7 822,912.7 823,912.7 825,912.7 828,912.8 831,912.9 832,912.9 834,912.8 837,912.8 840,913.1 843,913.5 844,913.6 846,913.5 849,913.2 851,913 852,913.1 855,913.3 857,913.5 858,913.5 861,913.7 864,914 867,913.6 869,913.4 870,912.8 873,911 874,910.6 876,910.6 877,910.6 879,911 882,911.8 883,912.1 885,912.3 886,912.4 888,912.3 889,912.3 891,912.6 893,912.9 894,912.8 897,912.4 899,912.1 900,912.3 903,912.9 904,913.1 906,913.3 909,913.6 912,913.6 913,913.6 915,913.9 916,913.9 918,913.6 921,913.6 923,913.7 924,913.7 924.6,913.8 927,913.8 929,913.8 930,913.8 933,914 935,913.9 936,913.8 939,913.8 942,913.9 944,914 945,914 948,914.1 949,914.1 951,914.1 954,913.9 957,913.7 960,912.7 963,911.6 966,912.2 969,912.5 972,913 973,913.2 975,913.3 977,913.4 978,913.5 981,913.7 984,913.8 987,914 989,914 990,914 993,914 994.3,914 995,914 996,914.1 998.5,914.1 999,914.1 1002,914.1 1005,914 1006,914 1008,914 1010.3,914 1011,914.1 1014,914.1 1015.6,914.2 1017,914.2 1020,914.1 1022,914.1 1023,914.1 1026,914.2 1028.4,914.3 1029,914.3 1032,914.2 1033.7,914.2 1035,914.1 1038,914 1038.6,913.9 1041,914.1 1043.3,914.3 1044,914.2 1047,914 1050,913.7 1050.8,913.6 1053,913.6 1054,913.5 1056,913.6 1058.3,913.6 1059,913.5 1062,913.4 1063.6,913.3 1065,913.2 1065.7,913.1 1067.9,912.9 1068,912.9 1071,911.9 1071.1,911.9 1073.6,911.8 1074,911.8 1076.4,912.2 1077,912.2 1080,912.3 1081.7,912.4 1083,912.3 1084.9,912.2 1086,912.2 1088.6,912.1 1089,912.2 1090.3,912.6 1092,912.6 1094.1,912.5 1095,912.6 1096.7,912.7 1098,912.8 1100.9,913.1 1101,913.1 1104,912.6 1105.2,912.4 1107,911.8 1109.5,910.7 1110,910.7 1112.7,910.8 1113,910.9 1115.9,911.5 1116,911.5 1119,911.7 1119.1,911.7 1122,911.5 1125,911.3 1125.5,911.3 1128,911.3 1128.7,911.3 1131,911.5 1131.9,911.5 1134,911.6 1135.1,911.6 1137,911.5 1139.3,911.3 1140,911.3 1141.9,911.3 1143,911 1143.6,910.8 1146,911.2 1146.8,911.3 1148.9,911.3 1149,911.4 1151.1,912.4 1152,912.4 1154.3,912.3 1155,912.2 1157.5,911.9 1158,912 1160.7,912.1 1161,912.1 1164,912.5 1164.9,912.6 1167,911 1169.2,909.6 1170,909.6 1173,909.8 1173.9,909.9 1176,910.4 1176.7,910.5 1179,910.7 1179.9,910.7 1182,907.2 1184.3,903.8 1185,903.8 1188,903.1 1190.2,903.2 1191,903.1 1192.7,902.9 1194,903.3 1194.2,903.4 1197,903.8 1197.3,903.9 1199.5,908.3 1200,908.4 1201.5,909.3 1203,909 1205,909 1206,908.9 1207.6,908.9 1209,909 1210,909.1 1212,909.2 1212.9,909.2 1215,909.3 1216.1,909.6 1218,910.5 1219.3,911.1 1221,911.1 1223.6,911.1 1224,911.1 1227,911.1 1227.9,911.1 1230,911.4 1233,912 1233.2,912 1236,911.8 1237.1,911.7 1237.5,911.7 1239,911.7 1240,911.8 1240.3,911.8 1242,912 1244.6,912.4 1245,912.4 1247.8,912.6 1248,912.6 1249.9,912.4 1251,912 1252.1,910.8 1254,910.7 1254.2,910.7 1255.9,910 1257,910 1257.4,910.1 1260,910.1 1260.6,910.1 1261.7,909.7 1262.7,909.3 1263,909.2 1264.2,909.1 1266,909.1 1267.3,909.1 1268.3,909.7 1269,909.9 1269.1,910 1271.3,910.3 1272,910.3 1274.5,910.3 1275,910.4 1276.6,910.8 1278,910.8 1279.8,910.9 1281,911.4 1283.6,912.5 1284,912.4 1285.8,911.3 1287,911.3 1287.3,911.3 1289.4,910.7 1290,910.9 1291.5,911.4 1293,911.5 1294.7,911.6 1296,911.3 1297.9,910.9 1299,910.9 1300.1,910.9 1302,911.6 1303.7,912.6 1305,912 1308,910.8 1308.6,910.7 1311,910.2 1311.8,910 1314,910.5 1314.4,910.5 1317,910.4 1317.1,910.4 1319.9,911 1320,911 1322.5,911.3 1323,911.3 1324.2,911.2 1326,911.5 1326.7,911.6 1328.4,911.3 1329,911.4 1331,911.9 1332,912.4 1334.2,913.4 1335,913.3 1337.4,913.3 1338,913.2 1340.6,912.9 1341,912.8 1344,912.5 1344.9,912.4 1347,912.8 1350,913.3 1351.3,913.5 1353,913.3 1354.5,913 1356,912.8 1359,912.6 1359.2,912.6 1362,912.6 1363,912.6 1365,912.1 1365.6,912 1368,911.7 1369.4,911.5 1371,911.7 1372.6,911.9 1374,912.2 1375.8,912.4 1377,912.5 1379,912.9 1380,911.7 1381.1,909.3 1383,908.6 1383.3,908.5 1385.8,908.3 1386,908.4 1388.2,910 1389,910.1 1389.7,910.3 1391.8,910 1392,910 1393.9,910.5 1395,910.7 1398,911.9 1398.2,911.9 1401,910.6 1401.4,910.5 1403.5,910.3 1404,910.4 1405.7,910.5 1407,908.8 1408.6,906.7 1410,904.4 1411.5,904 1413,903.5 1414.9,902.9 1416,903 1418.1,903.2 1419,903 1421.3,902.6 1422,902.5 1423,902.4 1424.5,902.7 1425,902.8 1426.7,903.4 1428,903.8 1429.3,904.1 1431,903.7 1432,903.4 1434,902.8 1434.1,902.8 1436.7,902.3 1437,902.3 1438.4,902.6 1439.5,903.4 1440,903.5 1442.2,903.8 1443,903.7 1446,903.4 1446.1,903.4 1448.9,903.5 1449,903.6 1452,904.5 1455,904.3 1456.7,904.2 1458,904.3 1459.4,904.6 1461,907.2 1461.8,907.9 1464,908.2 1465.7,908.4 1467,909.1 1468.4,910 1470,909.2 1473,907.2 1476,905.4 1476.3,905.2 1478.2,906 1479,906.6 1482,908.9 1482.9,909.6 1485,909.6 1486,909.5 1488,906.9 1488,906.9 1491,906.5 1491.1,906.5 1493.9,908.7 1494,908.8 1497,909.9 1499.7,911.7 1500,911.6 1503,910.1 1505.6,909.5 1506,909.5 1509,909.3 1510.3,909.2 1512,909.6 1513.4,909.9 1515,910 1518,910.3 1519.3,910.4 1521,910.8 1524,911.4 1527,912 1527.1,912 1530,911.7 1533,911.3 1533,911.3 1536,910.4 1537.7,910.1 1539,910.1 1542,910.1 1542.7,910.1 1545,910.2 1547.8,910.4 1548,910.4 1551,911.3 1553.3,912.1 1554,911.7 1557,908.3 1558.4,907.5 1560,907.2 1561.1,906.9 1563,907.6 1565,908.4 1566,908.3 1569,907.2 1572,906.2 1572.1,906.2 1575,905.6 1575.2,905.5 1578,905.6 1578.7,905.6 1581,905.3 1581.1,905.3 1583.8,904.8 1584,904.7 1586.2,903.5 1587,903.7 1590,904.4 1591.6,904.8 1593,906.6 1593.6,907.1 1596,907.7 1597.5,907.8 1597.8,907.9 1599,908.8 1599.8,909.5 1600.3,909.2 1602,908.9 1603.9,908.5 1605,908.7 1606.4,908.9 1608,908.8 1608.5,908.7 1611,909.4 1613.5,906.2 1614,906.2 1616.3,906.1 1617,906.1 1619.2,906.2 1619.9,905.5 1620,905.5 1622.7,904 1623,904 1624.9,903.9 1626,904.5 1626.3,904.6 1628.8,904.2 1629,904.2 1631.3,901.1 1632,901.3 1634.1,902 1635,902.3 1637,903 1638,903.3 1639.4,903.8 1641,904.1 1643,904.6 1644,905 1646.6,906.3 1647,906.4 1650,908.8 1650.1,908.8 1653,908.5 1653.7,908.5 1656,907.4 1658.3,906.8 1659,906.9 1662,907.2 1662.6,907.3 1665,906.8 1666.1,906.5 1667.9,907.2 1668,907.1 1669.7,905.3 1671,905.9 1671.4,906.1 1673.9,905.8 1674,905.9 1676.8,907.4 1677,907.4 1680,908 1680.3,908 1683,909.3 1683.2,909.4 1686,908.4 1689,907.8 1689.2,907.7 1692,907.9 1692.8,907.9 1695,908.3 1696.3,908.5 1698,907.7 1700.6,904.8 1701,904.6 1704,903.1 1704.2,903 1707,904.2 1708.8,904.9 1710,904.1 1711.3,903.3 1713,903.5 1715.9,903.9 1716,904 1719,906.8 1719.4,907.4 1722,906.5 1723,906.1 1725,905.8 1726.6,905.5 1728,906.2 1730.8,908 1731,907.9 1733.7,906.5 1734,906.5 1737,906.8 1737.2,906.8 1740,909.1 1740.1,909.2 1743,909 1743.6,909 1744.5,908.1 1745.7,907.3 1746,907.3 1747,907.4 1748.3,907.4 1749,907.4 1750.5,907.5 1752,908.1 1752.3,908.2 1753.2,910 1755,910.3 1756.8,910.6 1758,910.6 1760.3,910.3 1761,910.1 1763.9,909.6 1764,909.6 1767,910.5 1769.2,911.7 1770,911.8 1773,912.3 1774.6,912.4 1776,912.5 1779,912.9 1779.9,912.9 1782,912.9 1783.4,912.8 1785,912.7 1785.9,912.6 1786,912.5 L1786,914.5 Z" fill="#b13468"/>
</g>
<path d="M213,745 L214.6,734.4 L219.4,592 L221,586.2 L222.6,595.2 L224.2,656 L225.8,707.2 L228,720 L230.6,699.2 L233.8,702.4 L236,689.6 L238,710.4 L240.2,634.2 L242.8,688 L245,649.6 L246.6,720 L248.8,643.2 L250.8,568 L253,662.4 L255.6,659.8 L257.2,750.4 L259.4,724.8 L261.6,716.8 L263.6,731.2 L266.8,723.2 L269,716.8 L270.6,729.6 L272.5,690.6 L275.4,745.6 L278.6,764.8 L280.8,784 L282.8,767.4 L285,803.2 L287.6,816 L289.8,846.4 L292,849.6 L294.6,860.8 L297.8,852.8 L302,839 L304.8,857.6 L308,868.8 L310.6,859.2 L313.8,854.4 L317,875.2 L320.8,888 L325,891.2 L328.2,892.8 L330.4,856 L333,851.2 L335.6,883.2 L337.8,851.2 L341,659.2 L343.2,645.8 L345.2,662.4 L347.4,880 L350.6,841.6 L353.2,821.8 L355.4,809.6 L358,830.4 L361.8,833.6 L366.6,780.8 L369.8,792 L373,822.4 L376.2,824 L379.4,835.2 L384.2,838.4 L389,854.4 L393.2,870.4 L395.4,803.2 L398,784 L399.2,771.2 L400.8,809.6 L403.2,758.4 L405,752 L405.8,753.6 L408,734.4 L409.6,748.8 L412.8,726.4 L416,633.6 L417.6,659.2 L419.8,659.2 L422.4,761.6 L425.6,739.2 L428.2,683.2 L431,689.6 L433.6,716.8 L436.8,720 L440,752 L443.2,784 L446.4,832 L448,764.8 L450.6,758.4 L452.8,737.6 L455,803.2 L457.6,808 L460.8,825.6 L465.6,859.2 L470.4,862.4 L475.8,846.4 L480,867.2 L486.4,880 L491.2,876.8 L496,889.6 L503,860.8 L505.6,870.4 L507.8,790.4 L510.4,787.2 L513,774.4 L514.6,828.8 L516.8,825.6 L520,841.6 L523.2,864 L526.4,880 L530.6,867.2 L534.4,804.8 L537.6,812.8 L540.8,841.6 L543.4,846.4 L547.2,840 L552,854.4 L555.2,800 L558.4,774.4 L561.6,803.2 L564.8,854.4 L569.6,889.6 L572.8,865.6 L577.6,862.4 L582.4,849.6 L585.6,875.2 L592,872 L595.2,867.2 L598.4,809.6 L599,810 L600,809.6 L601,818 L604,888 L607,894 L611,896 L614,878 L618,878 L620,888 L625,892 L628,860 L631,838 L634,854 L637,886 L642,896 L648,890 L655,898 L660,877 L663,879 L665,890 L670,884 L673,892 L679,886 L683,890 L689,902 L695,900 L700,900 L704,895 L709,893 L711,898 L717,900 L725,902 L733,906 L738,896 L742,898 L745,902 L748,897 L751,896 L755,890 L759,887 L761,898 L765,898 L768,906 L772,898 L776,900 L778,909 L783,908 L791,905 L795,911 L805,912 L812,908 L816,896 L820,876 L823,878 L828,882 L832,886 L837,884 L844,900 L851,887 L857,898 L864,907 L869,898 L874,846 L877,843 L879,850 L883,874 L886,878 L889,874 L893,885 L899,855 L904,884 L909,892 L913,891 L916,898 L918,855 L923,854 L924.6,888 L929,890 L933,898 L935,888 L939,886 L944,896 L949,902 L957,896 L963,857 L966,866 L969,869 L973,886 L977,888 L984,898 L989,902 L990,901.9 L994.3,902.9 L995,903 L998.5,906.1 L1006,899.7 L1010.3,901.9 L1015.6,908.3 L1022,902.9 L1028.4,909.3 L1033.7,905.1 L1038.6,895.5 L1043.3,909.3 L1050.8,896.5 L1054,894.4 L1058.3,895.5 L1063.6,890.1 L1065.7,885.9 L1067.9,879.5 L1071.1,837.9 L1073.6,831.5 L1076.4,850.7 L1081.7,862.4 L1084.9,850.7 L1088.6,848.5 L1090.3,867.7 L1094.1,862.4 L1096.7,869.9 L1100.9,878.4 L1105.2,861.3 L1109.5,794.1 L1112.7,801.6 L1115.9,833.6 L1119.1,844.3 L1125.5,827.2 L1128.7,827.2 L1131.9,837.9 L1135.1,842.1 L1139.3,827.2 L1141.9,827.2 L1143.6,802.7 L1146.8,825.1 L1148.9,829.3 L1151.1,861.3 L1154.3,859.2 L1157.5,840 L1160.7,845.3 L1164.9,867.7 L1169.2,782.4 L1173.9,776 L1176.7,797.3 L1179.9,801.6 L1184.3,563 L1188,423 L1190.2,432 L1192.7,389 L1194.2,463 L1197.3,529 L1199.5,700 L1201.5,741 L1203,627 L1205,628 L1207.6,597 L1210,690 L1212.9,717 L1216.1,752.5 L1219.3,810.1 L1223.6,816.5 L1227.9,820.8 L1233.2,850.7 L1237.1,838.9 L1237.5,838.9 L1240,842 L1240.3,844.3 L1244.6,861.3 L1247.8,867.7 L1249.9,861.3 L1252.1,820.8 L1254.2,818.7 L1255.9,789.9 L1257.4,801.6 L1260.6,803.7 L1261.7,700 L1262.7,600 L1264.2,572 L1267.3,570.7 L1268.3,700 L1269.1,777.1 L1271.3,810.1 L1274.5,809.1 L1276.6,820.8 L1279.8,825.1 L1283.6,864.5 L1285.8,829.3 L1287.3,825.1 L1289.4,795.2 L1291.5,833.6 L1294.7,842.1 L1297.9,806.9 L1300.1,809.1 L1303.7,867.7 L1308.6,810.1 L1311.8,777.1 L1314.4,803.7 L1317.1,797.3 L1319.9,827.2 L1322.5,835.7 L1324.2,827.2 L1326.7,842.1 L1328.4,825.1 L1331,850.7 L1334.2,885.9 L1337.4,882.7 L1340.6,861.3 L1344.9,840 L1347,859.2 L1351.3,889.1 L1354.5,876.3 L1359.2,865.6 L1363,867.7 L1365.6,835.7 L1369.4,813.3 L1372.6,833.6 L1375.8,857.1 L1379,874.1 L1381.1,748.3 L1383.3,712 L1385.8,701.3 L1388.2,784.5 L1389.7,799.5 L1391.8,784.5 L1393.9,808 L1398.2,850.7 L1401.4,803.7 L1403.5,802.7 L1405.7,827.2 L1408.6,753.8 L1411.5,620 L1414.9,388 L1418.1,448 L1421.3,328 L1423,291 L1424.5,345 L1426.7,500 L1429.3,632 L1432,500 L1434.1,364.5 L1436.7,269.6 L1438.4,324 L1439.5,500 L1442.2,574 L1446.1,486 L1448.9,523 L1452,714.6 L1456.7,636.4 L1459.4,663.8 L1461.8,769.4 L1465.7,771.4 L1468.4,804.6 L1476.3,573.9 L1478.2,613 L1482.9,792.9 L1486,790.9 L1488,659.9 L1491.1,640.3 L1493.9,753.8 L1499.7,845.7 L1505.6,777.2 L1510.3,765.5 L1513.4,800.7 L1519.3,816.3 L1527.1,855.4 L1533,837.8 L1537.7,804.6 L1542.7,802.6 L1547.8,816.3 L1553.3,857.4 L1558.4,730.3 L1561.1,701 L1565,773.3 L1572.1,722.5 L1575.2,704.9 L1578.7,710.7 L1581.1,693.1 L1583.8,675.5 L1586.2,613 L1591.6,675.5 L1593.6,745.9 L1597.5,761.6 L1597.8,765.3 L1599.8,800.7 L1600.3,790.2 L1603.9,758.2 L1606.4,776 L1608.5,768.9 L1611,800.9 L1613.5,724.4 L1616.3,699.6 L1619.2,729.8 L1619.9,559.1 L1622.7,564.4 L1624.9,546.7 L1626.3,694.2 L1628.8,608.9 L1631.3,541.3 L1634.1,580.4 L1637,626.7 L1639.4,662.2 L1643,697.8 L1646.6,729.8 L1650.1,790.2 L1653.7,783.1 L1658.3,736.9 L1662.6,758.2 L1666.1,726.2 L1667.9,754.7 L1669.7,672.9 L1671.4,708.4 L1673.9,697.8 L1676.8,761.8 L1680.3,776 L1683.2,804.4 L1689.2,754.7 L1692.8,761.8 L1696.3,786.7 L1700.6,704.9 L1704.2,633.8 L1708.8,712 L1711.3,648 L1715.9,672.9 L1719.4,765.3 L1723,715.6 L1726.6,690.7 L1730.8,779.6 L1733.7,717.3 L1737.2,733.3 L1740.1,804.4 L1743.6,776 L1744.5,600 L1745.7,429 L1747,445 L1748.3,451 L1750.5,469 L1752.3,620 L1753.2,822.2 L1756.8,834.7 L1760.3,822.2 L1763.9,793.8 L1769.2,857.8 L1774.6,872 L1779.9,882.7 L1783.4,879.1 L1785.9,868.4 L1786,868" fill="none" stroke="#363d4a" stroke-width="2" stroke-linejoin="round"/>
<path d="M212.5,550.7 L214.2,540.2 L214.3,533 L215.9,521.9 L217.6,506.6 L218.3,498.1 L219.3,509.6 L220.5,519.8 L221,512.5 L222.3,511.9 L222.7,509.7 L224.4,509.3 L225.8,512.1 L226.1,515.8 L227.8,527.5 L229,538.5 L229.5,531.3 L231.2,525.3 L232.9,509.4 L233,509.9 L234.6,503.8 L236.3,511.8 L236.5,505.7 L238,510.3 L239.7,520.2 L241,517.5 L241.4,513.5 L243.1,507.7 L244.8,493.7 L246.3,493.6 L246.5,488.4 L248.2,495.3 L249,500.5 L249.9,499.7 L251.6,519.3 L253,522.3 L253.3,527.8 L255,534.7 L256.7,553.7 L257,552.4 L258.4,535.3 L260.1,523.5 L261,511.1 L261.8,517.7 L263.5,521 L265,528.6 L265.2,526 L266.9,521.2 L268.5,512.3 L268.6,508.6 L270.3,512.9 L271.7,520.3 L272,520.7 L273.7,546 L273.8,546.9 L275.4,569.2 L277.1,593.6 L278.3,609.9 L278.8,616.4 L280.5,619.5 L282.2,631 L282.3,626.7 L283.9,608.9 L285,603.4 L285.6,612.4 L287.3,622.1 L287.7,627.1 L289,616.5 L290.7,606 L291.7,601.2 L292.4,604.9 L294.1,628.2 L295.7,635.9 L295.8,637 L297.5,620 L297.8,615 L299.2,604.8 L300.9,599.2 L301.5,595.5 L302.6,602.3 L304.3,612.7 L305,624.6 L306,631.9 L307.7,645.1 L308.5,649.1 L309.4,644.1 L311.1,629.2 L311.1,630.6 L312.8,629.9 L314.3,624.3 L314.5,623.7 L316.2,626.6 L317.9,629.4 L319.6,630.1 L319.7,630.7 L321.3,630.9 L323,635.1 L324.7,641.7 L326.3,638.8 L326.4,638 L328.1,644.8 L329.8,650.6 L331.5,661 L333,665.6 L333.2,659.3 L334.9,648 L336.6,625.1 L338.3,614.2 L338.3,608.6 L340,604.2 L341.7,586.2 L342.3,585.5 L343.4,592.6 L345.1,604.9 L345.8,607 L346.8,595.9 L348.5,588.5 L350.2,573.8 L350.3,572.8 L351.9,565.2 L353.6,564.2 L354.3,554.3 L355.3,554.8 L357,558.1 L358.7,555.6 L359.7,556 L360.4,556.6 L362.1,551.7 L363.7,548.4 L363.8,550.6 L365.5,552.8 L367.2,555.8 L367.7,558.4 L368.9,553.7 L370.6,550.8 L371.7,544.8 L372.3,541.3 L374,542 L375.7,532 L376.2,532.5 L377.4,548.9 L379.1,561 L379.7,570.7 L380.8,566.7 L382.5,566.1 L383.1,566.5 L384.2,563.7 L385.9,557.6 L386.9,553.5 L387.6,565.3 L389.3,586 L389.5,594.2 L391,580.4 L392.7,577.6 L393,575.5 L394.4,585.4 L395.7,592.8 L396.1,581.2 L397.8,572.3 L399.1,555.7 L399.5,553.6 L401.2,534.6 L402.9,525.3 L402.9,528.1 L404.6,517.7 L406.3,524.5 L406.3,522.4 L408,516.3 L409.7,518.5 L409.8,513.8 L411.4,500.3 L411.7,497.6 L413.1,494.1 L414.8,485.5 L415.7,484.3 L416.5,484.7 L418.2,500 L418.3,501.3 L419.9,505.3 L421.5,507.1 L421.6,511.9 L423.3,493.8 L423.7,494.4 L425,495.7 L426.7,501.5 L427.7,499.5 L428.4,494.7 L430.1,495.6 L430.3,498.9 L431.8,482 L432.5,479.4 L433.5,482 L434.9,488.3 L435.2,492.5 L436.9,484.1 L438.6,481.7 L439.1,488.3 L440.3,498.7 L441,517.2 L442,514.6 L443.7,512 L445,508 L445.4,517 L447.1,517 L448.2,527 L448.8,523.5 L450.3,514.6 L450.5,513.7 L452.2,519.2 L453.9,518.6 L454.3,521.5 L455.6,537.3 L456.2,549.5 L457.3,549.5 L459,544.8 L459.7,546.3 L460.7,546.7 L462.4,553.6 L463.7,558.9 L464.1,558.5 L465.8,562.6 L467.5,562.3 L467.7,565.4 L469.2,553.8 L470.9,548.8 L471.7,543.7 L472.6,546.4 L474.3,546.7 L475.7,543.9 L476,548.1 L477.7,559.2 L478.3,560.8 L479.4,559.2 L481,560.4 L481.1,558.6 L482.8,573.2 L484.5,586.9 L485,589.2 L486.2,584 L487.9,581.4 L489.6,579.8 L490.3,576.9 L491.3,574.6 L493,587.6 L494.7,584.4 L495.7,589.5 L496.4,594.7 L498.1,628 L498.3,624.8 L499.8,622 L501.5,610.9 L501.5,615.2 L503.2,610.5 L504.9,608 L506.3,606.1 L506.6,605.7 L508.3,612.6 L510,611.8 L510.3,613.6 L511.7,599.5 L513.4,580.7 L513.8,576.3 L515.1,576.6 L516.8,571.4 L518.3,579 L518.5,579.8 L520.2,572.8 L521,571.4 L521.9,582.8 L523.6,598 L525,616 L525.3,613.1 L527,613.9 L528.7,606 L529,604.2 L530.4,596.4 L532.1,582.2 L533,572.1 L533.8,578.3 L535.5,585.2 L537.2,606.1 L538.3,607.5 L538.9,601.5 L540.6,592.7 L542.3,586 L542.3,586.4 L544,599.5 L545,610.3 L545.7,602.2 L547.4,594.2 L549,589.9 L549.1,588.1 L550.8,586.1 L551.7,587.4 L552.5,578.2 L554.2,574.9 L555.9,570.2 L557.6,564.3 L558.3,556.5 L559.3,563.5 L561,557.6 L562.3,563.9 L562.7,563.2 L564.4,568.6 L566.1,582.2 L566.3,582.4 L567.8,586.7 L569.5,595.2 L570.3,600.8 L571.2,592.7 L572.9,591.9 L574.6,590.3 L575.7,587.7 L576.3,595.3 L578,594 L579.7,597.5 L579.7,597.8 L581.4,606.3 L583.1,599.5 L584.8,605.9 L585,607.2 L586.5,605.5 L588.2,601.4 L589,598.6 L589.9,606.3 L591.1,621.4 L591.6,623.1 L593.3,635 L594.3,650.7 L595,655.6 L596.5,670.2 L596.7,669 L598.4,660.9 L599.7,652.1 L600.1,653.6 L601.8,670.1 L602.3,669.4 L603.5,670.5 L605,659.9 L605.2,663.2 L605.3,660.8 L606.9,670.4 L608.6,665.6 L610.1,672.9 L610.3,671.9 L612,657.1 L613.3,649 L613.7,652.7 L615.4,662.2 L616,666.3 L617.1,655.8 L618.7,655 L618.8,654.8 L620.5,657.1 L621.3,658.3 L622.2,668.2 L623.9,676.3 L624,674.3 L625.3,729.3 L625.6,727 L627.3,728.4 L628,732 L629,751.8 L629.9,765.5 L630.7,757.5 L631.5,745.4 L632.4,749.4 L633.3,755.1 L634.1,751.6 L635.8,739.2 L636,737 L637.5,748.7 L639.2,746.5 L640.9,759.8 L642.6,767.6 L642.7,763.2 L644.3,752.8 L646,743.6 L647.7,741.6 L648,735.1 L649.4,750.2 L651.1,764.9 L651.2,763.6 L652.8,753 L654.5,740.2 L654.7,738.3 L656.2,727.6 L657.3,720.2 L657.9,720.2 L659.6,724.3 L661.3,724.5 L661.3,725.7 L663,739.6 L663.5,739.6 L664.7,729.9 L666.1,713.4 L666.4,720.5 L668.1,718.3 L669.8,724.4 L671.5,729.2 L672,727.6 L673.2,723.5 L674.9,723.2 L676,716 L676.6,720.2 L678.3,713.5 L680,706.7 L680,713.6 L681.7,711.1 L683.4,721.6 L684,718.7 L685.1,744.2 L685.3,746.7 L686.8,739.9 L688.5,737.1 L690.1,737.7 L690.2,739.8 L691.9,749.8 L692.8,758.1 L693.6,760.1 L695.3,753.2 L697,758.9 L698.7,753.6 L700,758.6 L700.4,758.3 L701.3,768.2 L702.1,757.6 L703.5,735.1 L703.8,737.9 L705.5,730.9 L706.7,730.5 L707.2,734.2 L708.9,756 L709.3,756.5 L710.6,763.4 L712.3,767.8 L714,770.6 L714.1,774.7 L715.7,768.2 L717.3,763.1 L717.4,761.4 L719.1,763.2 L720.8,767.2 L721.3,768.3 L722.5,758 L724.2,759.6 L725.9,750.9 L725.9,754.8 L727.6,757 L729.3,764.2 L730.7,762.3 L731,766.4 L732.7,761.1 L734.4,763.9 L736.1,759.9 L737.3,760.8 L737.8,763.5 L739.5,766 L741.2,757.1 L742.9,764.7 L744,762.7 L744.6,758.2 L746.1,746.1 L746.3,743.7 L748,747.5 L749.7,753.2 L750.7,753.2 L751.4,749.5 L753.1,743.1 L754.1,742.7 L754.8,742.1 L756.5,747.2 L757.3,746.5 L758.2,785.9 L758.7,809.9 L759.9,784.9 L760,788.7 L761.6,792.6 L763.2,792.4 L763.3,797.3 L765,796.2 L766.7,808.3 L768.4,809.9 L768.5,808.8 L770.1,806.2 L771.8,794.6 L772,795.4 L773.5,792.8 L775.2,791.8 L776,790.2 L776.9,791.4 L778.6,788.8 L780.3,793.3 L782,792.4 L783.7,788.8 L784,788.8 L785.4,791.3 L787.1,787.4 L788.8,781.6 L788.8,780.9 L790.5,790.4 L792.2,798 L793.3,795.7 L793.9,801.6 L795.6,795 L797.3,794.2 L798.7,795.8 L799,790.9 L800.7,798.4 L802.4,800.1 L804,798.4 L804.1,796.5 L805.8,793.3 L807.5,793.8 L809.2,790.2 L810.9,797.9 L812,790.4 L812.6,783 L814.3,761.7 L816,742.2 L816,743.9 L817.7,740.2 L819.4,747.9 L820,740.3 L821.1,736.9 L822.8,730.8 L823.5,728.7 L824.5,727.3 L826.2,720.3 L827.9,721 L829.3,717.3 L829.6,718.8 L831.3,718.2 L833,716 L833.3,717.2 L834.7,721.3 L836.4,718.2 L837.3,725.5 L838.1,723.9 L839.8,729.6 L841.3,737.3 L841.5,735 L843.2,725.6 L844.9,717.2 L845.3,709.2 L846.6,707.1 L848.3,710.1 L849.3,706 L850,709.7 L851.7,715.4 L853.3,719.5 L853.4,722.5 L855.1,719.7 L856.8,726.8 L858.5,725.7 L860,729.5 L860.2,733.8 L861.9,739.4 L863.6,741 L865.3,752.1 L865.3,754 L867,738.5 L868.7,716 L869.3,712.3 L870.4,697 L872,687 L872.1,682.3 L873.8,683.9 L875.5,678.9 L876,678.6 L877.2,680.2 L878.9,681 L880,685.4 L880.6,682.5 L882.3,684.1 L884,674.8 L885.3,675.8 L885.7,678 L887.4,679.7 L889.1,677.3 L890.7,677.7 L890.8,678.4 L892.5,669.3 L894.2,668.4 L894.7,661.6 L895.9,664.2 L897.6,660.3 L899.3,658.8 L900,662.1 L901,672.1 L902.7,684.3 L902.7,683.7 L904.4,682 L906.1,672.3 L907.8,672.2 L908.8,665 L909.5,667.5 L911.2,676.7 L912,677.4 L912.9,679.8 L914.6,668 L916,667.2 L916.3,664.9 L918,673 L919.7,681.8 L920,688.1 L921.4,682.4 L923.1,690.2 L924.8,687.7 L925.3,684.4 L926.5,691.1 L928.2,686.5 L929.9,692.3 L931.6,688.6 L932,692.5 L933.3,683.2 L935,684.5 L936,677.4 L936.7,680.8 L938.4,685.9 L940.1,688.4 L941.8,692.4 L942.7,695.8 L943.5,696.1 L945.2,690.6 L946.7,696.4 L946.9,695.9 L948.6,696.2 L950.3,703.5 L951.5,701.6 L952,706.8 L953.7,692.4 L955.4,688.4 L956,687.1 L957.1,673 L958.7,659.9 L958.8,655.2 L960.5,658.4 L962.2,655.1 L962.7,659.1 L963.9,660.2 L965.6,656.2 L967.3,657.6 L968,652.6 L969,655.6 L970.7,659.2 L972,663.7 L972.4,662.2 L974.1,658.3 L975.8,656.7 L977.3,651.4 L977.5,652.9 L979.2,661.8 L980,659.7 L980.9,663.5 L982.6,667.1 L984.3,663.7 L986,668.3 L986.7,665.3 L987.7,671.9 L989.4,662.2 L991.1,667.4 L992.8,665.2 L993.3,671 L994.5,666.9 L996.2,667.1 L997.9,663.9 L999.6,668.8 L1000,666.4 L1001.3,665.2 L1003,663.7 L1004.7,665.5 L1005.3,668 L1006.4,675.2 L1008.1,686.7 L1009.3,695.1 L1009.8,690.7 L1011.5,696.3 L1013.2,690.8 L1013.3,694.8 L1014.9,691.2 L1016.6,684.6 L1018.3,680.9 L1018.7,684 L1020,689.1 L1021.3,695.7 L1021.7,691.7 L1023.4,699.1 L1025.1,697.5 L1026.8,699.3 L1028,695.1 L1028.5,697.2 L1030.2,701.3 L1030.7,704.8 L1031.9,695.3 L1033.6,694.6 L1034.7,688.3 L1035.3,691 L1037,683 L1038.7,687.6 L1038.7,683.8 L1040.4,688.4 L1042.1,691.6 L1043.8,694.9 L1044,689.7 L1045.5,692.1 L1047.2,681.9 L1048,678.9 L1048.9,683.2 L1050.6,678.5 L1052.3,683 L1054,676.5 L1054.7,678.6 L1055.7,685.4 L1057.4,690.1 L1058.7,688.7 L1059.1,689.7 L1060.8,680.8 L1062.5,675.4 L1064,674.2 L1064.2,677 L1065.9,661.4 L1066.7,663.9 L1067.6,647.1 L1069.3,633.9 L1069.3,632.2 L1071,626.2 L1072.7,628.9 L1074.4,630.6 L1076,625.2 L1076.1,623.3 L1077.8,623.5 L1079.5,621.6 L1080,628.1 L1081.2,618.8 L1082.9,620.2 L1084,613.2 L1084.6,612.2 L1086.3,618.1 L1088,625.6 L1088,623.1 L1089.7,618.5 L1091.4,607.4 L1092,612.4 L1093.1,610.7 L1094.7,617.9 L1094.8,620.4 L1096.5,618.5 L1098.2,619.3 L1099.9,608.5 L1101.3,607.2 L1101.6,612.7 L1103.3,599.6 L1105,595.2 L1105.3,592.3 L1106.7,573 L1106.7,578.4 L1108.4,572.9 L1110.1,575.7 L1110.7,576 L1111.8,588.4 L1112.5,586.8 L1113.5,590 L1115.2,584.7 L1116.9,583.3 L1117.3,580.5 L1118.6,582.9 L1120.3,581.3 L1121.3,575.9 L1122,575.5 L1123.7,576.8 L1125.4,583 L1127.1,582.4 L1128,584.8 L1128.8,581 L1130.5,569.4 L1131.2,572 L1132.2,572.4 L1133.9,578 L1133.9,578.4 L1135.6,571.5 L1137.3,560.2 L1137.3,559.5 L1139,571.9 L1140,571.2 L1140.7,574.2 L1142.4,577.8 L1144,588.1 L1144.1,584.4 L1145.8,591.6 L1147.5,597.3 L1148.8,599.1 L1149.2,600.8 L1150.9,592.4 L1152.6,586.1 L1153.3,584.4 L1154.3,582.2 L1156,583.2 L1157.3,578.9 L1157.7,578.6 L1159.4,582.5 L1161.1,580 L1161.3,580.1 L1162.8,567.8 L1164.5,563 L1165.3,555.2 L1166.2,551.8 L1167.9,543 L1169.3,537 L1169.6,538 L1171.3,538.1 L1173,536.5 L1174.7,536.6 L1174.7,535.6 L1176.4,540 L1178.1,540.8 L1178.1,539.5 L1179.8,519.7 L1181.3,496 L1181.5,496.8 L1183.2,491.9 L1184.9,490.4 L1185.3,488.2 L1186.6,479.1 L1186.7,472.3 L1188.3,475.3 L1189.9,471.9 L1190,475.7 L1191.7,476.3 L1192,476.7 L1193.4,465.3 L1194.7,458.8 L1195.1,462.7 L1196.8,473.1 L1197.3,476.4 L1198.5,483.2 L1200,495.3 L1200.2,496.8 L1201.9,480.8 L1203.6,476.3 L1204,474.9 L1205.3,470.9 L1206.7,467.9 L1207,470.5 L1208.7,463.9 L1210.4,465.9 L1210.7,466.9 L1212.1,477.6 L1213.3,479 L1213.8,483.8 L1215.5,476.3 L1217.2,462.5 L1217.3,465.6 L1218.9,474.8 L1220.6,476.4 L1221.3,483.2 L1222.3,485 L1224,488 L1225.3,499.5 L1225.7,495 L1227.4,491.9 L1229.1,486.1 L1229.3,480.8 L1230.8,482.6 L1232.5,488.5 L1233.3,488.7 L1234.2,495.2 L1235.9,495.4 L1237.6,506.2 L1238.1,507.1 L1239.3,506 L1241,490.9 L1241.3,489.3 L1242.7,491.7 L1244.4,496.2 L1245.3,498.1 L1246.1,498.5 L1247.8,495.6 L1249.3,497.8 L1249.5,493.8 L1251.2,482.2 L1252,478.8 L1252.9,477.8 L1254.6,465 L1254.7,465.1 L1256.3,470.1 L1258,476 L1258.7,471.4 L1259.7,474.1 L1261.4,471 L1263.1,479 L1264,475.5 L1264.8,474 L1266.5,470.1 L1268.2,470.6 L1269.3,465.3 L1269.9,465.9 L1271.6,473 L1273.3,468 L1274.7,472.9 L1275,479.5 L1276.7,473.5 L1278.4,479.4 L1280,480.9 L1280.1,482.6 L1281.8,489.3 L1283.5,493.8 L1285.2,498.6 L1286.7,501.4 L1286.9,498.1 L1288.6,501.1 L1290.3,499.8 L1292,495.6 L1292,493.4 L1293.7,504.5 L1295.4,508.3 L1297.1,518.7 L1297.3,517.3 L1298.8,516.8 L1300.5,513.2 L1301.3,511 L1302.2,508.3 L1303.9,500.1 L1305.3,488.5 L1305.6,485.2 L1307.3,481.5 L1309,477.9 L1310.7,474.1 L1310.7,476.2 L1312.4,476.1 L1314.1,475.5 L1315.8,475.8 L1316,475.5 L1317.5,479.4 L1319.2,483.2 L1320,490.3 L1320.9,497.3 L1322.6,510.6 L1324,526.5 L1324.3,523.2 L1326,506.8 L1326.7,501.2 L1327.7,504 L1329.4,509.8 L1330.7,512.6 L1331.1,512.8 L1332.8,508.9 L1334.5,505.7 L1334.7,504.3 L1336.2,500.8 L1337.9,506.9 L1338.7,508.6 L1339.6,497 L1341.3,488.3 L1341.3,490.4 L1343,495.7 L1344.7,503.4 L1345.3,510 L1346.4,508.8 L1348.1,513 L1349.3,511.4 L1349.8,516.8 L1351.5,522.9 L1352.5,528.5 L1353.2,527.1 L1354.9,520.2 L1356.6,511.2 L1357.3,509.8 L1358.3,502.5 L1360,504.7 L1361.7,498.1 L1363.4,491.6 L1364,490.4 L1365.1,490.6 L1366.8,485.2 L1368.5,488.9 L1369.3,486 L1370.2,482.2 L1371.9,483.1 L1372,483.5 L1373.6,491.4 L1375.3,499.4 L1376,500 L1377,498.5 L1378.7,495.3 L1380,495.1 L1380.4,500.2 L1382.1,502 L1382.7,504.1 L1383.8,497.5 L1385.5,480 L1386.7,478.7 L1387.2,475.9 L1388.9,479.6 L1390.6,477.1 L1392,471 L1392.3,473.9 L1394,475.1 L1395.7,473.5 L1396,474.7 L1397.4,465.5 L1398.7,461 L1399,458 L1399.1,464.7 L1400,465.3 L1400.8,468.1 L1401.7,467.2 L1402.5,465 L1404.2,472 L1405.1,476.9 L1405.9,462.4 L1407,450.2 L1407.6,449.4 L1409.3,446.5 L1409.7,443.3 L1411,414.9 L1411,415.5 L1412.7,414.3 L1413.7,406.3 L1414.4,413.6 L1416.1,407.2 L1417.7,403.6 L1417.8,401.9 L1419.5,399 L1420.9,389.6 L1421.2,393.5 L1422.9,403.6 L1423.8,405.7 L1424.6,403.1 L1425.7,396.5 L1426.3,398 L1428,399.9 L1429.7,399.1 L1431,395.7 L1431.4,394.3 L1433.1,394.7 L1434.8,384.1 L1435,384.8 L1436.5,385.2 L1437.7,393.9 L1438.2,386.8 L1439.9,383.2 L1441.6,373.3 L1442.5,373.2 L1443.3,381.9 L1444.3,389.6 L1445,392 L1446.7,395.3 L1448.3,395.3 L1448.4,394.9 L1450.1,387.1 L1450.2,386.1 L1451.8,397.1 L1453.5,397.7 L1454.2,405.9 L1455.2,401.7 L1456.9,390.7 L1458.6,389.5 L1460.3,380.3 L1460.3,380.5 L1462,393.1 L1463.7,404 L1463.8,406.6 L1465.4,401.2 L1467.1,389.2 L1468.3,388.1 L1468.8,388 L1470.5,384.6 L1472.2,372.4 L1473.7,376.3 L1473.9,371.2 L1475.6,380.8 L1477.3,375.4 L1477.7,378 L1479,378.3 L1480.7,379.5 L1481.7,375.4 L1482.4,373.4 L1484.1,387.9 L1485.7,386.3 L1485.8,389 L1487.5,390.2 L1488.3,392.4 L1489.2,392.4 L1490.9,391.8 L1492.6,392 L1494.3,392.5 L1495,391.4 L1496,388.5 L1497.7,392.8 L1499.4,394.3 L1500.3,393 L1501.1,392.9 L1502.8,397.4 L1503,397 L1504.5,415.4 L1505.7,427.4 L1506.2,418.2 L1507.9,404.1 L1508.3,402.3 L1509.6,405.7 L1511.3,410 L1512.3,406.3 L1513,416.8 L1514.7,424.1 L1516.3,445.7 L1516.4,440.8 L1518.1,436.3 L1519.8,428.2 L1520.3,428.8 L1521.5,422.9 L1523.2,425.8 L1524.9,420.2 L1524.9,420.9 L1526.6,424.9 L1528.3,427.9 L1528.3,426.3 L1530,426.7 L1531.7,420.6 L1532.3,417.7 L1533.4,425.8 L1535,433 L1535.1,428 L1536.8,430.6 L1538.5,425.8 L1539,425.6 L1540.2,436 L1541.9,442.9 L1542.5,449.2 L1543.6,443.7 L1545.3,434.2 L1547,424.6 L1547,427 L1548.7,420.7 L1550.4,425.8 L1552.1,420.2 L1552.3,425.5 L1553.8,414.4 L1555,404.1 L1555.5,399.9 L1557.2,401.5 L1558.9,403.6 L1560.6,397.9 L1561.7,400.5 L1562.3,394.5 L1564,401.2 L1565.7,395.3 L1565.7,395.4 L1567.4,384.8 L1569.1,380.2 L1569.7,377.5 L1570.8,378.2 L1572.5,377.6 L1574.2,378.1 L1575,379.1 L1575.9,379.8 L1577.6,367.2 L1579.3,366.7 L1581,360.2 L1581.7,361.8 L1582.7,359.7 L1584.4,370 L1585.7,368.9 L1586.1,369.6 L1587.8,370.9 L1588.3,373.9 L1589.5,375.5 L1591.2,379.2 L1592.9,379.1 L1593.7,384.1 L1594.6,373.9 L1596.3,376.1 L1597.7,362.3 L1598,368 L1599.7,366.3 L1601.4,377.4 L1601.7,371.7 L1603.1,381.7 L1604.8,374.1 L1606.5,386.4 L1608.2,382.4 L1608.3,384.4 L1609.9,380.2 L1611.6,379.2 L1612.3,372.3 L1613.3,366.4 L1615,375.2 L1616.3,368.6 L1616.7,365.5 L1618.4,372.1 L1620.1,364.1 L1621.7,369.2 L1621.8,367 L1623.5,354.4 L1624.3,352 L1625.2,346.3 L1626.9,349.5 L1628.6,343.9 L1629.1,345.5 L1630.3,351 L1632,345.9 L1633.7,346.1 L1635,349.6 L1635.4,347.1 L1637.1,349.6 L1638.8,348.5 L1640.3,348.1 L1640.5,348.5 L1642.2,350.7 L1643.9,357.7 L1645.6,362 L1645.7,358.6 L1647.3,357.8 L1649,354.1 L1650.7,354.5 L1651,351.7 L1652.4,344.8 L1654.1,344.3 L1655.8,334.9 L1655.8,338.6 L1657.5,345.7 L1659,351.6 L1659.2,353.3 L1660.9,355.8 L1661.7,358.2 L1662.6,359.3 L1664.3,350.9 L1664.3,352.9 L1666,356.9 L1667.7,364 L1669.4,368.2 L1669.7,369.1 L1671.1,364.4 L1672.8,367.3 L1674.5,359.5 L1675,362 L1676.2,364.4 L1677.9,357.2 L1679.6,353 L1681.3,358.6 L1681.7,353.9 L1683,355.7 L1684.7,352.2 L1686.4,353.2 L1687,351.4 L1688.1,352.5 L1689.8,361.6 L1691.5,357.7 L1693.2,363 L1694.9,365.5 L1695,369.7 L1696.6,358.1 L1698.3,346.8 L1699,344.2 L1700,343.7 L1701.7,341.7 L1703.4,332.3 L1703.8,339 L1705.1,336.5 L1706.8,339.9 L1707,341 L1708.5,356.7 L1709.1,362.3 L1710.2,361.9 L1711.9,369.1 L1713.6,369.1 L1713.7,373.3 L1715.3,370.1 L1717,361 L1717.7,364.1 L1718.7,363.9 L1720.4,353.5 L1721.7,356.5 L1722.1,358.6 L1723.8,357.6 L1725.5,368.2 L1725.7,367.9 L1727.2,376 L1728.9,375.7 L1729.7,385.3 L1730.6,380.1 L1732.3,380.8 L1733.7,375.8 L1734,376.3 L1735.7,384.5 L1737.4,385.6 L1739,396.3 L1739.1,395.6 L1740.8,402.5 L1741.7,406.8 L1742.5,404.2 L1744.2,418.3 L1745.7,421.7 L1745.9,420.4 L1747.6,421.1 L1749.3,408 L1749.7,410.8 L1751,413 L1752.7,413.2 L1753.7,416.4 L1754.4,419.3 L1756.1,400.7 L1756.3,401.6 L1757.8,409 L1759.5,410.7 L1759.8,411.1 L1761.2,408.7 L1762.9,406.1 L1763,405.3 L1764.6,412.1 L1766.3,413.6 L1768,420 L1768.3,422.3 L1769.7,419.3 L1771.4,419 L1772.3,413.7 L1773.1,415.4 L1774.8,412.8 L1776.5,421.7 L1777.7,414.3 L1778.2,419.2 L1779.9,411.9 L1781.6,415.4 L1781.7,414.1 L1783.3,403.7 L1785,404.4 L1785.7,398.4 L1786,404" fill="none" stroke="#000" stroke-width="3.6" stroke-linejoin="round"/>
<line x1="1794" y1="228" x2="1794" y2="915" stroke="#000" stroke-width="2"/>
<g stroke="#e3e3e3" stroke-width="2">
<path d="M316.5,915V931M426.0,915V931M532.9,915V931M641.6,915V931M751.1,915V931M858.0,915V931M966.6,915V931M1076.2,915V931M1183.9,915V931M1292.6,915V931M1402.1,915V931M1509.0,915V931M1617.6,915V931M1727.2,915V931"/>
</g>
<g font-family="Liberation Sans" font-size="18" fill="#2f3542" text-anchor="end" letter-spacing="0.8">
<text x="185" y="267">$4b</text>
<text x="185" y="349">$3.5b</text>
<text x="185" y="430.5">$3b</text>
<text x="185" y="512">$2.5b</text>
<text x="185" y="594">$2b</text>
<text x="185" y="675.5">$1.5b</text>
<text x="185" y="757.5">$1b</text>
<text x="185" y="839">$500m</text>
<text x="185" y="921">$0</text>
</g>
<g font-family="Liberation Sans" font-size="18" fill="#2f3542" text-anchor="start" letter-spacing="0.45">
<text x="1817.5" y="234">$200k</text>
<text x="1817.5" y="393">$100k</text>
<text x="1817.5" y="475">$70k</text>
<text x="1817.5" y="552">$50k</text>
<text x="1817.5" y="669">$30k</text>
<text x="1817.5" y="762">$20k</text>
<text x="1817.5" y="921">$10k</text>
</g>
<g font-family="Liberation Sans" font-size="20" fill="#2f3542" text-anchor="middle">
<text x="316.5" y="956">Jul '21</text>
<text x="426.0" y="956">Nov '21</text>
<text x="532.9" y="956">Mar '22</text>
<text x="641.6" y="956">Jul '22</text>
<text x="751.1" y="956">Nov '22</text>
<text x="858.0" y="956">Mar '23</text>
<text x="966.6" y="956">Jul '23</text>
<text x="1076.2" y="956">Nov '23</text>
<text x="1183.9" y="956">Mar '24</text>
<text x="1292.6" y="956">Jul '24</text>
<text x="1402.1" y="956">Nov '24</text>
<text x="1509.0" y="956">Mar '25</text>
<text x="1617.6" y="956">Jul '25</text>
<text x="1727.2" y="956">Nov '25</text>
</g>
<use href="#logo" style="color:#1b1b1b"/>
</svg>
<div class="foot">© 2026 Glassnode. All Rights Reserved.</div>
</body></html>
